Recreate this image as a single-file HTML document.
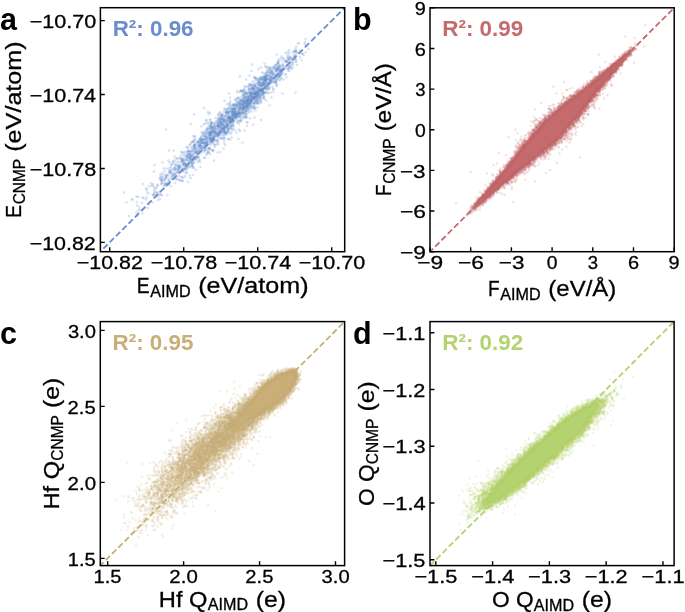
<!DOCTYPE html><html><head><meta charset="utf-8"><style>html,body{margin:0;padding:0;background:#fff;overflow:hidden}svg{display:block;will-change:transform}text{font-family:"Liberation Sans",sans-serif}.dv{stroke:#000;stroke-width:0.3px}</style></head><body>
<svg width="685" height="612" viewBox="0 0 685 612">
<defs><filter id="bl" x="-5%" y="-5%" width="110%" height="110%"><feGaussianBlur stdDeviation="0.6"/></filter></defs><rect width="685" height="612" fill="#fff"/>
<defs><marker id="ma" markerUnits="userSpaceOnUse" markerWidth="1" markerHeight="1" overflow="visible"><circle r="2.20" fill="#6a8dcd" fill-opacity="0.2" stroke="#6a8dcd" stroke-opacity="0.2" stroke-width="1.20"/></marker></defs><g fill="#6a8dcd" filter="url(#bl)"></g><path transform="scale(.5)" d="M433 280L480 232L494 203L511 171L504 183L461 203L342 334L360 315L370 337L349 336L434 261L474 227L399 279L474 200L481 206L530 157L437 244L412 286L551 129L485 191L502 203L377 328L456 278L420 308L419 269L408 316L605 108L490 203L442 263L460 231L494 211L430 261L426 278L315 390L410 272L374 319L532 176L502 214L376 297L519 205L546 134L392 295L422 264L449 281L423 247L499 187L512 193L423 254L529 156L436 269L455 262L429 273L477 207L442 246L547 164L524 180L469 216L540 160L470 219L529 152L544 166L412 280L423 281L526 187L506 215L412 284L380 324L504 171L491 201L423 275L497 205L365 317L491 187L508 173L486 197L548 134L469 223L352 333L360 330L500 178L501 213L467 228L495 245L445 239L591 185L436 283L365 323L312 384L565 116L542 141L580 124L416 272L458 234L507 196L430 260L461 255L438 269L400 292L487 213L489 195L513 193L408 286L373 303L530 154L477 223L478 195L509 179L382 311L496 172L511 157L617 98L544 156L480 242L503 142L460 239L487 206L424 285L400 324L455 240L485 285L584 125L591 115L551 131L472 208L419 251L536 172L335 349L390 296L350 340L489 261L487 207L310 377L386 350L366 362L454 218L471 229L538 140L405 303L431 265L443 255L484 214L396 316L442 253L498 177L527 156L521 180L525 172L375 315L523 184L548 156L542 159L462 245L418 272L336 363L552 163L308 388L427 279L465 218L539 157L386 321L447 260L522 155L486 190L437 248L316 400L484 225L466 239L506 178L322 390L556 136L450 226L338 344L589 118L373 316L305 405L273 393L441 304L588 114L506 193L412 290L440 245L515 183L563 157L497 215L518 193L442 277L470 232L527 187L403 285L456 225L540 162L468 209L492 159L490 199L441 250L391 303L467 246L409 290L516 169L504 129L574 130L501 219L544 156L286 368L448 262L479 225L510 216L450 264L546 152L532 152L480 233L429 271L500 209L533 144L531 161L566 141L480 203L432 244L578 137L540 153L452 253L466 224L373 294L513 185L480 215L490 205L523 167L539 152L485 202L406 286L406 296L513 197L532 157L460 236L380 333L446 267L524 190L417 263L454 245L471 220L557 143L470 221L298 373L533 165L370 352L372 344L385 319L467 223L343 355L401 291L464 235L592 102L517 184L527 169L414 258L376 311L455 229L443 229L435 256L584 117L422 245L534 166L444 229L447 251L486 208L366 343L545 147L490 204L500 169L539 144L323 360L392 316L530 176L425 261L433 264L447 263L409 286L406 284L479 207L421 281L458 232L478 248L324 364L382 325L471 215L485 222L486 181L509 195L376 303L330 359L279 419L535 142L437 263L491 213L553 172L523 174L429 263L562 141L463 236L437 269L571 135L460 195L357 331L503 178L399 291L540 138L494 216L588 103L499 182L575 115L571 123L520 180L492 206L493 174L395 290L477 209L501 192L398 294L506 195L503 187L465 227L506 189L439 263L560 149L419 297L394 305L449 242L308 374L508 154L404 280L277 421L455 258L521 192L527 166L315 385L552 142L319 356L434 272L380 290L521 199L537 176L329 367L563 149L454 225L567 131L405 279L428 247L517 178L463 234L455 253L457 242L563 140L495 218L533 170L573 122L410 268L544 160L562 143L523 154L515 207L449 202L331 351L444 259L466 211L524 145L390 292L473 228L440 262L469 235L467 243L367 320L434 288L528 193L414 280L400 280L491 193L558 152L382 325L600 114L309 330L378 318L368 332L522 240L395 282L344 348L514 197L418 305L398 297L489 214L514 187L494 209L513 190L590 102L413 309L470 230L523 188L552 150L525 170L308 343L381 356L549 158L492 225L419 272L359 346L491 201L479 215L491 205L556 136L359 334L464 213L528 158L338 369L438 239L427 260L383 295L467 228L585 104L543 195L431 248L493 202L466 208L495 203L388 316L450 276L509 188L325 360L531 179L541 160L358 317L495 193L483 236L342 373L527 146L395 302L371 327L495 195L457 255L540 167L491 212L498 219L500 191L536 167L323 347L429 290L403 279L456 250L455 249L522 171L493 200L553 151L526 184L447 249L400 286L552 164L501 199L507 215L519 188L407 267L470 217L559 122L439 248L463 237L537 151L440 248L439 266L508 171L367 306L516 204L312 377L465 234L546 158L369 319L348 350L414 285L591 119L471 232L394 313L530 173L401 285L429 267L482 228L419 286L369 313L471 227L450 290L450 238L510 201L444 271L339 361L371 319L476 204L535 156L419 268L547 137L506 195L396 303L390 290L485 226L535 161L415 247L519 207L474 227L482 182L287 396L497 200L460 279L359 360L421 251L532 160L367 355L484 182L445 231L276 394L466 218L436 246L408 277L517 180L358 341L353 355L423 252L556 123L470 218L397 288L452 267L453 242L407 297L370 329L341 342L308 381L424 287L470 209L459 244L423 262L321 387L410 285L446 277L571 150L529 127L424 253L253 405L548 156L525 190L385 310L315 369L416 284L494 213L525 178L473 211L454 225L377 327L517 170L475 242L493 221L441 236L557 152L560 153L332 259L580 114L594 130L398 302L464 259L463 255L460 236L484 225L421 270L552 135L485 214L487 205L542 161L332 368L391 300L544 157L358 330L366 321L364 317L436 258L316 393L387 291L557 153L503 196L504 173L535 140L481 242L567 159L464 246L452 222L518 185L424 300L459 245L471 201L513 166L444 261L314 373L478 218L546 178L610 84L353 340L381 321L404 279L436 250L328 372L398 299L509 174L352 359L437 236L423 269L416 305L500 208L402 280L564 131L502 186L396 284L542 155L401 289L589 113L508 188L488 193L501 206L460 219L480 213L414 285L487 202L461 240L520 191L414 259L487 202L444 265L410 287L456 255L410 299L425 283L457 237L430 250L342 344L480 241L454 247L520 164L339 325L512 173L507 198L483 199L414 277L434 258L502 200L532 133L477 278L346 339L461 239L424 258L473 231L374 338L523 171L386 319L557 140L325 325L512 182L514 182L553 109L415 301L528 197L368 338L521 182L522 189L378 309L523 184L536 158L461 268L420 265L523 179L338 340L400 279L544 160L460 242L403 274L323 359L421 282L538 136L333 337L332 352L456 223L478 234L416 295L329 359L554 147L383 318L508 178L408 272L498 168L455 224L528 167L437 276L399 302L388 306L369 327L555 159L510 168L525 160L514 175L487 226L495 191L453 244L593 105L392 312L494 222L555 140L302 366L551 165L473 215L527 168L515 186L489 213L503 176L451 240L410 315L384 330L394 295L401 291L511 221L403 297L469 223L329 362L330 357L390 278L421 239L426 256L520 194L384 285L421 276L519 194L486 210L426 282L510 161L578 100L534 145L456 258L532 164L592 101L456 263L448 243L386 335L428 265L389 274L480 183L531 157L491 222L390 285L445 277L428 261L556 124L583 131L331 368L527 194L432 243L333 355L415 263L510 194L592 111L553 158L507 217L579 120L509 171L412 241L368 309L294 384L551 131L576 141L511 190L412 275L534 171L456 260L520 180L420 269L521 169L468 210L378 315L496 202L420 265L506 177L566 130L522 178L544 148L448 238L497 212L433 252L530 160L499 171L465 249L463 237L327 378L440 224L521 173L542 146L534 135L479 201L461 217L444 235L470 234L441 252L455 265L518 176L542 185L453 267L359 337L518 183L422 248L509 217L394 313L503 202L411 261L505 177L497 198L469 211L591 123L424 255L496 202L393 305L383 330L358 324L446 264L379 314L346 322L510 187L415 258L421 267L349 313L517 138L448 286L416 245L306 368L274 411L592 119L248 385L430 269L456 219L551 161L495 203L556 126L408 288L322 369L337 368L478 209L566 127L382 323L496 181L350 336L460 252L427 283L498 174L604 107L404 286L384 324L446 250L555 127L457 233L508 206L487 228L520 170L321 354L544 154L323 356L544 139L447 240L438 260L586 125L486 207L347 301L503 206L350 321L510 155L489 172L450 249L468 233L511 186L476 211L427 255L375 321L474 197L515 199L363 319L486 237L510 177L364 340L407 272L519 180L443 232L513 178L519 176L413 240L564 148L480 153L453 241L294 379L347 357L467 217L429 256L275 431L425 302L436 281L514 186L516 190L534 153L487 211L397 284L521 178L351 327L506 187L421 277L532 184L484 208L422 250L603 120L560 144L504 181L345 351L508 206L512 203L369 337L429 254L336 368L460 223L486 209L458 236L481 238L470 223L509 205L505 178L562 149L346 326L452 266L373 329L274 404L320 359L563 138L522 159L258 432L531 147L578 118L517 201L436 269L448 275L532 159L497 207L513 186L440 267L441 243L468 214L503 186L499 187L473 204L423 265L355 332L465 250L387 326L468 242L467 221L400 277L353 330L378 302L494 201L571 106L512 184L476 205L508 211L417 264L554 137L469 210L458 242L325 353L446 238L493 204L390 289L502 187L521 158L355 344L584 121L438 252L414 288L308 389L455 240L609 88L575 104L533 157L465 235L460 236L324 391L568 117L553 140L518 191L495 215L496 209L466 211L456 252L483 242L533 148L431 265L527 152L463 243L480 206L472 232L586 129L487 207L497 206L458 235L521 180L418 279L320 398L547 137L359 333L547 143L388 336L439 226L445 250L445 239L385 309L380 289L412 294L364 339L506 167L447 236L440 242L499 179L553 156L380 316L464 237L516 189L491 224L449 246L358 334L379 308L507 177L364 320L410 285L446 247L344 330L345 358L394 307L519 170L303 371L583 117L420 240L499 199L496 212L521 155L495 193L337 351L598 87L556 147L383 335L386 313L490 235L459 234L355 324L529 160L387 312L412 263L449 217L593 104L477 233L510 195L539 147L435 239L295 416L559 151L389 289L350 330L285 395L321 350L494 209L436 241L462 213L519 165L557 149L422 257L451 231L500 182L486 217L527 165L483 217L536 187L417 277L473 265L488 210L389 305L454 249L463 275L489 233L475 226L412 269L446 242L404 281L459 237L478 222L327 348L511 191L529 162L499 209L521 202L429 264L493 214L460 258L458 241L531 151L441 262L472 230L536 185L389 291L449 261L451 264L411 274L468 227L375 311L531 157L461 223L381 319L497 225L521 157L474 182L416 224L514 191L521 197L369 327L539 157L495 208L480 210L545 147L358 335L577 116L492 184L498 201L530 160L273 425L470 228L349 354L469 225L504 192L564 145L578 142L309 385L560 131L342 340L392 340L518 165L541 153L315 371L527 153L424 265L508 196L401 307L533 159L356 342L479 228L349 350L428 276L454 238L549 134L389 295L419 258L553 160L504 194L495 199L329 343L443 233L589 102L436 272L540 162L483 194L481 231L510 213L433 281L459 234L548 149L496 202L540 155L420 281L525 160L529 164L470 218L551 149L578 133L337 321L541 149L464 230L519 162L487 197L454 255L385 296L543 143L488 190L487 233L457 228L364 361L505 213L455 226L469 260L452 223L488 226L420 253L535 174L611 105L428 272L440 267L323 365L480 219L421 263L350 340L366 329L410 300L486 187L562 141L493 187L292 399L554 139L493 207L484 182L422 276L496 195L493 187L420 290L511 192L553 139L505 194L517 181L565 146L465 225L577 109L527 173L520 171L536 173L498 192L527 182L462 223L387 283L378 325L401 298L395 324L525 168L358 338L477 197L386 283L390 319L387 298L354 346L468 227L475 212L328 369L558 134L459 264L531 176L374 344L530 186L513 194L501 191L519 195L454 208L521 180L514 203L521 171L534 177L475 217L477 232L406 284L292 377L457 224L454 248L422 255L510 156L373 314L384 313L407 298L484 202L487 219L579 120L449 266L420 286L457 216L448 253L472 224L491 219L498 214L403 264L372 311L529 158L509 235L284 406L365 326L465 243L501 216L414 256L495 202L531 176L491 235L464 229L459 248L460 240L531 185L551 138L390 319L452 231L465 219L479 227L441 258L469 227L548 164L418 256L411 296L541 166L532 201L385 328L363 311L425 279L522 185L397 293L494 211L531 154L369 329L436 265L420 299L458 216L467 233L441 248L458 187L561 149L481 209L539 211L424 273L505 205L528 197L412 291L392 304L431 267L580 116L527 159L481 224L402 299L548 156L546 163L446 233L559 141L319 383L413 279L581 134L415 266L448 257L560 161L493 228L531 169L575 120L384 327L538 170L403 285L323 361L490 200L495 211L441 237L556 126L479 219L443 259L386 282L441 262L519 166L369 337L490 182L541 142L334 369L451 232L398 321L402 282L465 230L400 293L526 185L337 357L485 231L458 211L447 243L490 209L453 246L376 294L449 266L520 189L364 355L513 186L482 211L455 252L533 172L492 194L481 210L528 170L376 307L438 271L593 93L515 215L415 271L384 318L552 152L354 338L503 223L355 358L499 192L457 248L481 221L563 113L607 110L504 183L502 170L579 105L441 244L509 183L544 142L452 225L553 152L380 313L458 225L555 133L525 159L492 197L381 304L460 238L517 182L562 155L498 178L496 200L408 303L512 156L467 251L482 218L485 214L440 230L515 167L457 260L431 266L369 326L379 311L540 137L407 264L362 362L404 292L472 236L401 288L525 182L426 263L508 193L501 191L528 171L464 240L465 234L467 225L424 278L444 247L424 263L349 348L557 139L480 204L497 197L411 266L514 176L429 252L421 269L421 277L440 238L511 203L398 291L377 329L523 205L340 345L407 266L379 351L547 150L566 121L493 244L363 304L438 267L414 285L449 269L425 253L445 256L456 258L402 295L524 171L423 245L383 299L312 390L346 338L555 147L559 151L433 283L491 220L440 241L532 177L408 292L448 271L492 230L515 175L430 294L475 196L447 231L401 283L385 302L285 427L500 195L589 107L517 169L388 294L561 117L562 139L388 292L462 246L583 138L492 228L414 267L382 285L536 158L544 144L479 223L472 235L445 253L516 184L506 249L432 265L365 328L495 186L517 161L566 140L366 320L385 323L533 147L461 256L510 193L533 172L264 398L403 273L383 303L463 265L447 297L344 358L540 145L575 111L464 252L477 220L461 251L419 297L393 304L576 125L495 199L374 305L494 187L379 303L363 335L467 239L573 132L487 185L394 287L373 329L501 199L395 315L559 132L480 227L503 200L482 181L553 142L293 395L462 225L483 200L423 269L372 347L319 389L527 176L507 209L545 174L389 307L362 323L550 163L456 248L429 258L454 265L500 186L527 163L420 226L377 335L414 307L481 226L357 334L507 189L534 151L411 301L379 319L350 336L408 286L533 162L452 251L444 228L560 138L460 237L368 326L405 279L265 400L411 275L441 253L482 201L543 153L557 155L476 222L488 226L457 278L500 210L529 154L525 169L422 245L554 129L395 283L446 257L410 280L507 185L430 266L388 325L522 156L413 276L350 347L581 114L507 183L334 350L473 229L501 198L554 170L454 219L496 210L470 233L499 196L490 206L408 279L437 234L547 184L510 197L496 218L504 201L474 224L338 360L481 215L437 288L440 269L457 237L517 195L559 159L534 151L473 233L362 318L547 179L502 212L471 237L373 335L474 227L499 151L487 208L483 208L408 270L461 210L335 367L376 364L490 175L526 185L540 160L522 135L363 304L461 245L437 249L503 185L386 332L378 323L324 367L390 301L517 157L480 228L386 272L436 247L454 234L434 273L466 239L487 215L343 353L526 182L484 202L436 229L394 307L492 222L504 175L427 302L473 222L417 228L495 218L490 216L510 172L451 254L454 234L435 251L501 196L511 200L517 167L505 188L528 167L525 188L480 183L441 246L419 277L528 155L345 351L457 228L499 204L516 188L446 257L361 334L499 185L408 216L466 241L504 208L443 246L375 331L464 219L369 304L365 342L502 169L397 303L535 180L567 136L462 252L423 278L550 152L437 241L572 148L538 169L557 132L430 279L485 200L462 222L404 293L557 155L404 269L501 203L531 172L522 201L428 266L542 135L442 238L505 195L376 315L421 271L519 163L395 308L428 280L526 156L459 208L398 284L332 355L487 184L405 286L379 315L492 188L374 333L372 338L397 314L540 166L523 195L465 240L450 264L459 206L464 242L488 180L388 297L467 253L522 158L462 240L571 121L504 192L426 255L532 160L487 221L474 245L494 208L560 134L491 195L466 225L478 214L428 288L438 264L596 86L497 198L552 166L577 136L529 168L484 205L576 115L558 128L392 298L485 225L425 245L433 272L383 317L572 124L515 193L341 346L470 198L580 126L495 198L414 275L380 307L494 212L424 265L551 139L591 112L478 259L579 131L394 299L419 296L533 158L508 188L427 275L367 340L400 290L356 339L420 257L498 223L494 252L538 178L431 258L384 332L379 303L465 225L600 100L430 273L501 200L528 166L353 317L482 212L438 253L480 205L391 317L568 139L467 231L434 267L451 265L467 218L493 208L400 292L431 236L305 371L489 195L497 186L531 170L475 186L465 222L544 147L487 209L527 167L507 199L420 269L611 78L410 247L332 353L438 252L331 372L518 186L425 259L447 223L581 128L515 180L390 272L473 228L473 212L515 201L548 146L416 298L380 314L512 187L504 199L530 160L442 243L523 165L484 216L346 324L340 346L527 191L442 244L508 180L529 186L408 281L557 119L510 171L408 249L278 414L409 292L475 233L492 217L552 142L514 206L394 307L496 197L507 176L555 150L435 245L354 317L510 188L491 186L495 212L531 173L591 97L508 200L419 276L314 386L427 281L511 207L351 346L475 210L435 250L418 266L328 337L297 387L442 246L477 206L489 191L538 167L526 165L473 212L358 352L443 232L558 137L382 314L367 331L485 203L350 366L446 258L525 165L436 252L451 243L480 262L449 239L374 334L471 228L488 196L566 138L523 177L477 244L479 217L382 248L415 282L502 190L556 137L517 161L396 285L509 195L572 137L439 256L538 134L511 186L593 124L447 242L423 269L489 215L363 354L494 235L397 309L448 242L450 219L436 254L519 181L297 409L612 90L537 167L424 262L470 235L498 194L426 283L579 133L568 138L519 182L540 175L357 344L561 133L402 279L468 228L552 168L587 111L537 150L505 163L428 273L524 179L480 199L508 195L516 195L338 301L567 134L581 136L509 187L475 230L402 296L467 230L515 176L534 152L509 188L496 206L447 250L422 280L431 267L463 217L557 148L471 225L437 229L476 216L531 152L529 160L468 241L377 302L513 197L456 235L413 288L335 390L405 296L426 300L401 334L426 262L458 235L417 253L443 258L515 163L444 237L420 276L449 243L559 144L484 211L332 367L444 250L420 265L573 123L576 138L515 159L339 343L441 258L369 339L504 196L538 145L473 208L412 291L435 305L466 258L391 317L383 313L586 135L565 187L453 227L469 237L538 160L531 133L356 337L358 360L374 320L388 229L441 238L475 239L506 197L597 106L427 248L375 310L424 267L383 308L377 331L442 239L399 320L381 310L502 187L500 206L494 207L471 229L576 125L325 355L364 340L538 178L388 302L518 198L515 186L444 263L466 220L419 267L342 329L402 276L339 336L512 185L558 147L466 242L502 170L504 176L427 272L470 231L413 273L489 202L482 217L463 235L450 256L445 247L425 275L428 321L466 231L442 277L511 205L389 291L448 254L437 254L449 260L396 314L409 278L346 345L496 204L488 223L514 200L416 304L471 225L474 235L489 188L463 230L449 260L508 179L349 357L435 267L431 290L450 234L573 155L371 328L488 202L494 211L442 264L431 252L528 185L453 269L306 390L430 256L515 207L389 280L435 253L511 184L492 232L348 351L503 190L522 168L532 165L492 234L500 237L573 122L540 166L373 311L464 228L379 308L366 323L509 187L489 216L488 179L465 219L559 149L306 391L514 158L371 322L503 194L439 273L437 253L384 302L450 258L519 158L403 253L420 259L442 255L364 322" fill="none" marker-start="url(#ma)" marker-mid="url(#ma)" marker-end="url(#ma)"/>
<line x1="100.4" y1="251.7" x2="344.7" y2="7.7" stroke="#6a8dcd" stroke-width="1.8" stroke-dasharray="6 2.9" stroke-dashoffset="4.7"/>
<rect x="100.4" y="7.7" width="244.3" height="244" fill="none" stroke="#000" stroke-width="1.5"/>
<path d="M109.71 251.7v-4.4M100.4 242.4h4.4M183.72 251.7v-4.4M100.4 168.48h4.4M257.73 251.7v-4.4M100.4 94.56h4.4M331.75 251.7v-4.4M100.4 20.64h4.4" stroke="#000" stroke-width="1.4" fill="none"/>
<text class="dv" x="76.73" y="269.1" font-size="18.63" textLength="66.08" lengthAdjust="spacingAndGlyphs" fill="#000">−10.82</text>
<text class="dv" x="29.66" y="249.6" font-size="18.63" textLength="66.08" lengthAdjust="spacingAndGlyphs" fill="#000">−10.82</text>
<text class="dv" x="150.74" y="269.1" font-size="18.63" textLength="66.53" lengthAdjust="spacingAndGlyphs" fill="#000">−10.78</text>
<text class="dv" x="29.65" y="175.68" font-size="18.63" textLength="66.53" lengthAdjust="spacingAndGlyphs" fill="#000">−10.78</text>
<text class="dv" x="224.75" y="269.1" font-size="18.63" textLength="66.45" lengthAdjust="spacingAndGlyphs" fill="#000">−10.74</text>
<text class="dv" x="29.65" y="101.76" font-size="18.63" textLength="66.45" lengthAdjust="spacingAndGlyphs" fill="#000">−10.74</text>
<text class="dv" x="298.76" y="269.1" font-size="18.63" textLength="66.47" lengthAdjust="spacingAndGlyphs" fill="#000">−10.70</text>
<text class="dv" x="29.65" y="27.84" font-size="18.63" textLength="66.47" lengthAdjust="spacingAndGlyphs" fill="#000">−10.70</text>
<g>
<text class="dv" x="136.73" y="292.8" font-size="22.6" textLength="12.83" lengthAdjust="spacingAndGlyphs">E</text>
<text class="dv" x="150.25" y="296.5" font-size="15.82" textLength="40.35" lengthAdjust="spacingAndGlyphs">AIMD</text>
<text class="dv" x="198.15" y="292.8" font-size="22.6" textLength="110.47" lengthAdjust="spacingAndGlyphs">(eV/atom)</text>
</g>
<g transform="translate(20.9,129.7) rotate(-90)">
<text class="dv" x="-88.15" y="0" font-size="22.6" textLength="12.83" lengthAdjust="spacingAndGlyphs">E</text>
<text class="dv" x="-74.63" y="3.7" font-size="15.82" textLength="45.45" lengthAdjust="spacingAndGlyphs">CNMP</text>
<text class="dv" x="-22.07" y="0" font-size="22.6" textLength="110.47" lengthAdjust="spacingAndGlyphs">(eV/atom)</text>
</g>
<text x="112.67000000000002" y="36.2" font-size="22.4" font-weight="bold" fill="#6a8dcd">R²: 0.96</text>
<text x="0" y="30.2" font-size="30.5" font-weight="bold">a</text>
<defs><marker id="mb" markerUnits="userSpaceOnUse" markerWidth="1" markerHeight="1" overflow="visible"><circle r="2.40" fill="#c56a6d" fill-opacity="0.2"/></marker></defs><g fill="#c56a6d" filter="url(#bl)"><path d="M629.3 51l1 0l.1 .5l-2.4 3.5l-32.4 38l-16.1 21.1l-19.8 22.9l-22.5 19.5l-21.7 16.6l-35 29.9l-5.1 4l-1.7 .5l.3 -1.3l2 -2.7l32.4 -38l16.1 -21.1l19.8 -22.9l22.5 -19.5l21.7 -16.6l32 -27.4l8.8 -7z" fill-opacity="1.000"/></g><path transform="scale(.5)" d="M974 393L1119 220L1084 302L1089 246L997 373L1048 333L1090 239L1154 181L1157 234L1220 134L1207 147L1193 182L1105 229L1074 252L1156 179L1189 196L1002 354L961 408L1182 172L1182 162L1159 181L1131 271L984 371L1159 242L1007 348L1199 157L1070 333L1167 216L1127 215L1093 303L1040 295L1208 197L957 401L1149 198L1178 169L1210 170L1208 145L1101 292L1046 297L959 405L984 374L1007 330L1109 218L1159 229L1221 150L1091 243L1053 283L1017 330L1147 199L1044 288L1005 350L1211 159L1060 325L1035 346L1035 343L1000 347L1041 301L1186 191L1188 186L1003 351L1209 161L1104 226L1019 324L1091 307L1185 191L1234 124L1066 274L1082 254L1072 263L1124 283L1151 244L1020 353L966 400L1131 262L1181 166L1021 356L1225 136L1107 285L1005 366L1155 232L1016 331L1127 208L1244 123L1157 230L1157 189L956 407L1185 199L1060 322L1100 296L1202 154L967 401L995 352L1060 270L1195 190L1181 172L1180 201L1187 157L1193 183L1101 230L1109 286L973 387L973 388L1224 131L1125 271L1083 308L943 418L1085 248L1157 233L979 388L970 390L1204 153L1190 160L1203 169L1174 162L1019 355L976 385L1150 238L1089 245L1088 304L1219 159L1206 166L1027 321L1252 116L1139 202L1212 158L1087 304L1207 178L997 353L982 373L1126 270L990 381L1215 138L1231 130L1026 349L978 396L978 376L991 365L1232 137L1007 366L996 375L1224 134L1218 141L962 397L1205 169L1027 323L1132 208L1099 218L1075 252L959 405L985 386L1149 184L1035 342L1045 302L1125 268L1218 152L1086 308L1035 313L1002 350L1194 183L1007 368L1037 306L1133 210L1080 255L1083 247L1076 261L1184 198L1085 302L969 400L1004 388L1097 226L1093 296L978 391L1127 213L1220 136L1187 163L1056 329L1174 172L1024 351L1141 251L1139 267L1033 311L1256 109L1024 325L1153 237L1176 204L1241 132L983 377L1185 167L1141 201L970 398L1067 262L1142 280L972 386L1158 225L1147 244L1082 252L992 356L1205 167L1198 175L1221 139L1288 93L1033 315L985 375L1113 280L1069 313L1190 183L1015 361L999 371L1229 145L983 367L1198 109L1043 295L953 405L1059 266L991 379L1195 160L1115 222L1173 179L1222 134L994 363L950 415L1230 128L1164 178L1212 145L1009 363L1039 306L1086 245L1093 242L1220 148L973 396L1030 345L1088 313L1133 258L1077 248L1163 227L1227 131L1048 295L1249 120L1093 300L1180 203L1220 157L952 412L1188 204L1116 215L954 413L1072 261L1097 317L1030 345L1231 139L964 399L1018 333L1145 194L1190 183L977 389L1078 312L1103 289L1090 242L1078 259L1125 187L997 357L989 383L1033 314L1067 274L1024 315L1042 302L977 391L1078 258L1167 216L982 378L1136 252L1245 130L1161 188L1068 273L1001 352L988 366L1240 121L1041 296L1112 294L1047 340L1040 306L1143 269L1153 242L958 407L1089 244L1079 246L994 379L1245 123L1107 291L1078 248L1024 349L981 375L990 367L1116 214L1197 175L1135 206L974 384L1112 222L1021 324L1188 212L1141 203L1177 176L949 411L979 391L1062 279L1012 339L1210 168L1117 220L1016 328L1104 289L1187 209L1155 239L1070 317L1004 348L1163 183L1259 106L1091 305L1243 116L1239 132L1193 180L964 389L980 381L1257 107L1057 326L1053 327L1080 247L1256 107L1142 250L968 398L1032 314L1006 367L1145 176L988 383L1248 113L1050 294L1001 337L1032 360L1182 199L1166 177L1243 117L1218 138L1080 246L1030 317L1129 213L1021 317L988 367L1145 198L1024 355L1138 199L1075 264L1270 92L957 407L966 393L979 389L1143 199L964 402L1209 162L1035 341L1057 326L1224 171L1036 340L1137 199L1012 340L1084 252L1105 289L1157 189L1210 160L1025 321L1217 154L1143 252L1253 112L984 371L1080 257L1125 264L1154 235L1219 150L1021 329L1025 325L1244 125L1059 272L973 386L968 396L1177 174L1141 193L1116 278L1068 259L1190 161L1215 190L1122 285L1185 169L1231 137L1195 160L1041 337L995 364L1062 332L1100 310L1149 251L1214 157L1086 304L964 401L986 351L1211 168L1075 311L1010 338L1198 157L1220 149L973 385L1113 287L1085 243L955 410L1006 345L1014 339L1194 159L1034 310L1057 332L963 402L968 391L1024 352L1046 295L1205 165L1084 252L1197 155L1040 337L1271 97L1067 322L966 400L1224 129L1006 351L1039 303L1070 264L975 385L1089 236L1013 361L1199 144L980 380L958 405L997 375L1143 200L999 350L1178 204L1242 131L1222 135L1101 289L1143 200L1046 298L1069 258L1134 209L1185 212L1215 159L1122 219L1191 163L1197 178L1152 242L1117 217L1201 155L979 376L1082 245L1210 171L1048 288L1197 158L978 388L1140 203L1049 283L1177 215L1034 358L1093 242L972 381L1245 122L1189 191L1085 245L1178 211L1051 288L1163 183L1143 257L1110 229L1171 212L1172 174L1025 321L1028 318L1161 183L1033 345L1083 304L1240 125L1103 292L1261 104L1153 186L1053 346L1156 239L1227 145L1126 271L1046 299L1025 353L959 405L995 360L1199 180L959 403L1042 301L1141 245L1239 128L1239 121L1052 338L1184 195L1242 127L984 374L1036 306L1214 158L998 378L958 403L1220 154L1169 181L1022 328L1233 141L1273 99L1259 107L1202 152L1068 316L1009 334L1247 118L1119 214L1004 344L985 349L1156 184L1098 239L1223 134L1028 363L1020 330L1196 161L1046 296L1146 243L1253 111L1180 198L1014 366L1249 121L1127 263L1099 233L1201 176L1232 128L954 410L1105 234L996 378L1144 243L970 402L1101 291L1045 292L994 376L1133 263L1150 190L1025 353L950 413L1227 146L1171 215L1047 339L1268 96L1085 238L1040 336L1082 245L1179 203L1139 255L1069 319L1087 299L1122 213L1115 274L1193 192L1075 310L1019 353L1100 237L1111 284L1173 211L1066 320L1113 286L1050 336L1036 306L1028 346L1036 307L987 368L995 356L1079 260L1191 157L970 369L981 370L960 401L1208 149L1188 192L1003 368L956 403L1257 110L1046 333L1074 317L982 387L952 417L1238 121L1186 167L1071 265L1148 239L960 403L1195 152L1096 238L1045 290L1268 97L1126 199L957 411L990 382L1248 119L1083 314L1015 335L1100 291L1093 301L1012 335L1176 203L1155 236L981 390L1271 98L1050 339L1064 319L1050 272L1143 244L996 374L1230 142L1150 188L1087 299L1043 301L1043 296L970 388L1177 200L1181 198L1213 165L1179 200L1193 181L957 406L1232 128L1113 287L1143 201L976 385L989 368L1222 132L1055 326L1148 246L1123 208L964 386L1007 349L1082 256L1133 283L963 407L1000 375L1100 287L963 395L982 396L1056 286L1089 247L1188 188L1097 233L1080 258L1185 191L1044 337L1224 135L1066 318L1065 329L1214 161L1192 156L1196 179L958 410L1199 176L1034 305L968 389L1154 192L1043 282L1120 216L1162 184L1047 296L957 398L1006 345L1193 180L1012 339L1020 352L1146 198L1042 344L1123 268L1081 311L1016 361L1063 276L952 410L1174 177L1007 344L1113 278L1005 352L1066 274L1204 168L1161 223L961 397L1171 212L1219 150L1246 113L1187 194L1186 163L1180 203L1258 111L1169 218L1193 154L1092 313L1034 304L1219 134L1028 351L1047 339L1025 327L980 379L1215 142L1183 204L1219 158L1049 292L1050 293L1091 308L1002 353L1167 212L1190 166L1151 188L1118 275L1021 329L1237 124L1235 138L1225 146L1214 137L1165 173L1139 285L1181 196L1134 180L1051 293L1193 181L1027 318L1022 353L949 409L1106 299L1047 333L1124 268L1184 191L1201 171L1129 261L1013 341L1105 211L1254 112L1229 141L1144 246L1183 199L1192 182L945 421L961 405L1067 247L1197 174L1162 222L954 404L985 385L977 382L1151 192L1105 285L1068 273L1205 166L1149 237L1012 331L975 378L1218 159L979 378L1019 359L1042 300L957 410L965 393L1234 125L1204 153L962 398L966 390L1189 162L1167 171L962 404L1158 189L1152 233L1216 159L1207 150L977 380L1125 271L1082 252L1120 212L1134 204L1036 300L1116 223L1104 295L1189 190L1199 174L1080 256L1039 297L1031 346L1049 289L1058 281L1007 346L1077 242L1127 214L1161 188L1236 134L1064 318L1089 315L973 394L986 383L1006 347L1024 349L994 364L1087 302L1003 366L1124 209L1087 304L1235 125L1023 319L1211 146L1146 250L985 373L1005 373L1073 262L1051 335L1004 352L1030 348L1129 260L1123 206L1027 345L1121 275L1018 334L1234 131L1243 125L1226 145L1216 143L984 390L1229 139L1213 160L1143 198L1053 327L1012 359L1200 176L1255 113L1168 183L1110 290L1249 114L1162 185L1143 251L1050 333L1041 291L1202 171L1111 286L956 411L1013 358L987 371L1176 174L1191 163L1115 279L970 395L1005 365L1104 230L1042 336L987 380L1081 306L1090 234L1215 139L1185 193L1176 175L1114 280L1246 115L1066 318L1127 261L1050 283L1149 246L1048 292L1242 122L983 373L1138 203L971 390L1166 217L1124 270L1152 270L1091 297L1000 341L1177 204L1238 129L1056 266L1113 283L1068 316L1143 248L1235 125L976 391L1204 146L1253 116L1004 367L1097 295L992 365L1157 225L1079 313L966 388L1120 220L1216 143L1203 174L1215 141L967 391L1124 216L998 358L1021 353L995 362L1200 176L1011 342L1108 225L984 374L1119 274L1048 293L1095 297L1024 352L1227 133L1070 263L1216 143L1176 203L1093 243L1039 306L1228 139L1065 319L1216 154L1023 325L1038 303L967 404L1018 357L965 391L1017 366L973 385L1185 193L1210 146L1256 113L1226 145L1021 352L1181 202L1213 159L1040 340L970 395L998 360L1134 203L1193 181L993 376L1126 271L1291 50L1114 222L998 357L1261 108L981 388L1022 364L1188 192L992 381L1002 351L1015 333L1165 219L1137 266L1184 170L976 373L1192 188L1000 350L963 399L1134 206L1216 154L1208 163L1014 338L1214 155L993 378L1101 288L1261 104L1224 134L1180 201L1063 276L1025 354L1022 358L1113 280L991 377L1148 193L1197 158L1185 165L1182 169L968 398L1120 279L1232 137L1069 242L1044 334L996 355L1223 150L976 383L1223 133L1187 199L1249 118L1103 290L1189 162L957 403L1103 290L1225 131L973 384L1240 119L1035 345L1045 288L1204 149L1213 145L1045 345L1126 268L981 376L1109 224L1233 128L1050 332L1236 131L1094 240L958 403L1018 355L1003 366L1191 200L1202 151L1185 191L1246 118L1176 217L1067 261L1047 295L1205 151L1199 218L1088 247L1095 239L1073 255L1128 209L1069 314L1119 223L1127 265L1113 225L1110 285L943 419L1259 95L1257 108L991 365L1033 310L979 399L940 428L1025 319L1025 325L1048 289L986 368L1234 133L980 391L1237 121L1250 112L1168 178L1156 190L1041 278L1115 289L968 403L1196 180L985 383L1037 294L1134 263L979 378L1130 264L1210 175L1200 176L1064 261L1232 122L1169 177L1111 282L1264 97L1097 231L1193 193L1067 269L1040 293L1208 150L1243 131L1135 205L950 417L985 381L977 393L1152 241L1026 347L1107 286L1161 227L1040 340L1240 125L1023 351L1232 136L1103 222L960 403L1124 273L1057 325L996 354L1043 300L969 396L999 356L1077 251L1158 187L1165 183L1202 173L1179 201L968 391L1231 142L1048 290L1195 158L1233 125L1259 100L1002 368L1055 326L986 385L1208 166L1116 278L1175 213L981 390L1122 216L1239 121L1067 273L1125 275L1078 257L1244 128L1205 146L1086 252L1260 104L1246 114L1173 213L953 394L1160 231L1231 139L985 373L1150 193L1067 268L1109 288L1230 143L1058 338L1226 143L1191 160L1207 150L1249 118L1119 274L1118 219L1107 227L1176 204L1161 184L1184 192L1135 256L998 374L1086 303L1147 250L985 370L1244 123L1081 252L1005 350L1195 155L1124 215L998 306L1215 161L1194 179L1138 258L1086 249L1170 211L1132 266L997 360L1196 177L1156 235L1244 122L1012 310L1023 325L1258 103L1228 138L986 365L984 375L1032 316L991 360L1062 276L1218 160L1024 327L1002 352L1223 148L1230 128L1087 305L1204 153L946 415L1167 216L994 385L1243 117L1058 327L1094 302L1200 155L1170 216L1161 228L953 409L967 393L1140 202L940 424L1242 119L1215 138L951 404L1019 356L1222 135L1092 304L1079 260L1104 224L1099 235L1207 177L1049 333L1147 239L1031 308L1196 190L995 364L1052 289L1042 336L1000 369L1184 165L1171 221L1213 164L1205 152L1125 265L953 414L1037 303L1097 290L1228 142L1119 218L1208 149L1155 231L1030 348L1110 282L1090 241L1103 231L1216 143L1124 268L1199 154L1031 343L1190 217L988 369L971 398L1047 293L1064 268L1218 136L1030 314L1066 273L1248 117L1216 139L1085 249L1057 325L980 378L1162 226L1168 222L973 387L1174 176L1211 147L1250 119L1176 202L1217 157L1183 144L1159 223L1100 231L1073 256L1212 140L982 387L1100 291L1169 220L1183 197L1066 316L1100 292L1168 211L1158 183L1035 312L1185 168L1246 120L987 362L1082 246L1021 323L1063 276L1006 348L1238 131L1109 228L1169 220L1187 162L1026 323L1059 278L1240 126L1125 267L1167 222L1040 302L1213 143L1086 308L1059 277L1063 267L1101 234L1145 195L994 365L1209 147L1038 308L1108 209L1162 185L956 402L973 384L1176 229L1118 218L1077 259L1161 182L1036 311L1074 239L1133 208L987 386L1105 287L1082 250L1065 266L1111 229L1114 225L1131 265L1267 99L1246 111L986 367L972 398L1242 123L1248 112L1182 194L1138 202L1184 201L1058 281L1159 235L1209 162L978 391L1238 120L962 401L993 379L1107 216L1225 135L1195 161L1032 344L971 397L1243 127L978 381L1244 118L1053 331L1235 133L1171 180L1162 184L1184 191L967 410L980 378L955 413L1179 198L979 376L1247 115L1125 216L1198 150L1070 323L1004 371L1180 199L1007 344L978 379L1027 352L1146 193L1187 165L1120 209L1098 237L1234 128L1118 276L1157 239L1107 291L1245 120L1187 191L1060 278L984 376L964 403L974 382L1030 345L1011 342L1150 194L1117 221L1034 296L1001 351L1036 311L965 402L1221 136L965 392L994 376L1120 215L1148 199L1052 290L981 377L1104 288L983 384L952 411L1014 364L973 384L1049 295L1184 195L1131 257L977 381L1228 126L1030 343L974 374L1065 261L1010 339L1167 183L1233 137L1147 248L1073 256L1215 143L1218 151L1198 155L1139 202L1210 163L944 414L1132 196L1223 171L1103 225L1052 288L1212 143L1230 128L986 372L1125 265L1178 228L1156 183L1024 326L951 414L1180 197L1148 193L1126 268L1159 233L1177 218L950 415L1029 357L1126 265L1188 162L1164 220L1133 203L1088 238L1016 326L1208 148L988 366L966 394L1012 360L1098 291L965 407L1152 194L1074 262L964 402L1211 161L1058 322L1119 307L1257 109L1005 366L1084 301L1175 166L999 373L1007 364L1069 264L958 399L1131 203L1095 310L1143 198L1196 154L972 396L1189 164L1156 190L1145 245L1197 175L1019 370L1059 324L1204 167L1260 100L1026 313L1019 354L983 385L1030 361L1079 310L1227 143L1245 117L1090 234L1087 249L1073 255L1127 193L1265 99L1025 316L987 372L1184 168L953 407L1165 216L1172 207L1258 110L1086 246L1167 218L1121 276L1229 138L1020 359L997 376L1266 103L1210 160L993 365L1210 141L979 377L985 373L1062 265L1039 306L1174 206L1205 170L1192 185L1010 363L987 383L1209 165L1094 301L1144 243L1196 157L1138 256L1217 153L1092 240L993 376L1254 111L992 360L1018 327L994 348L1183 165L1035 351L1099 212L998 372L1152 193L1100 237L1074 261L1217 153L989 367L992 378L1106 285L1036 311L959 399L960 406L1022 327L1031 314L1070 317L1021 333L1159 233L1236 122L1211 140L977 391L1235 126L1063 273L1165 218L1245 118L987 330L1156 189L1069 273L1005 366L1191 203L1217 138L1077 311L1219 134L1053 328L1024 353L1020 330L1219 153L1039 304L1012 339L1116 279L1212 146L1149 186L1208 162L1112 281L1050 282L1116 287L1078 252L1253 119L987 384L950 413L1235 120L1243 127L1092 232L1234 139L1065 272L1143 260L1140 198L1136 279L1064 273L1107 288L1053 330L1243 122L1250 108L1204 180L1021 323L1025 349L965 397L1011 361L1159 227L990 364L1001 370L1104 229L1162 225L1114 223L1095 241L1219 151L983 384L1070 266L1261 106L1137 200L1227 142L1107 285L971 396L994 327L1195 182L1123 278L976 390L1173 208L1171 209L1055 276L1195 179L1228 132L1134 253L1192 184L1257 109L988 366L1044 298L1007 365L1231 135L1077 243L992 376L1106 228L1149 238L1189 165L1213 144L1032 301L967 395L1231 122L1244 124L1220 139L1191 164L1257 110L1028 350L1154 193L985 373L1034 347L1211 147L1114 224L987 381L1250 117L1006 365L1160 225L1245 118L1003 348L1240 130L1243 116L1085 312L1148 195L1090 230L1037 301L1244 117L1221 148L1078 312L1150 237L1078 261L1034 352L969 393L1105 295L1079 253L1142 255L1130 206L1239 131L964 395L1236 124L1192 163L1244 114L982 387L1117 213L1042 305L1009 369L1093 299L1193 190L1046 290L949 411L1036 297L1209 148L1038 342L1012 341L1100 340L1139 194L1216 139L1203 171L1206 165L960 406L1245 115L1175 203L1169 168L1118 276L1011 362L1071 267L973 386L1037 341L1254 104L1156 186L1206 144L989 380L1114 219L1203 146L1183 196L1138 253L1239 130L1139 247L1118 284L1207 171L1215 166L1125 264L1252 117L1230 142L1037 344L1005 373L986 369L1174 204L1145 249L992 361L1186 189L988 380L973 400L1143 200L1045 302L1121 210L972 393L1140 251L1121 273L1236 137L941 344L1027 350L1014 338L1058 332L1241 120L1219 153L1016 366L1013 365L1203 144L1112 278L1239 122L1137 256L1173 216L1102 220L1216 139L1182 197L1173 174L1198 176L1237 134L1005 369L1226 147L1131 264L1052 283L1196 184L1213 143L1045 284L1023 326L1231 130L1133 294L1174 175L993 365L1042 338L1061 278L1148 195L1040 301L1093 230L1234 123L1199 182L1030 346L1050 333L1061 320L1266 101L1034 348L1234 127L1057 327L967 398L1216 141L1167 175L1086 229L1004 351L1239 128L1228 141L1016 364L1095 296L1254 111L1105 233L957 402L1018 334L1085 301L1095 307L1230 130L1193 181L1135 199L996 355L1222 133L1250 111L1248 106L960 400L1213 143L1052 333L1218 139L992 381L1033 342L1043 334L1238 123L1224 130L1243 123L989 380L1234 133L1225 145L1226 128L1191 163L1090 303L1122 276L993 378L1202 153L1182 168L1112 228L1001 345L1142 256L1224 133L1051 339L1124 286L1200 179L1094 295L1252 106L1246 121L955 408L1197 181L1111 216L1145 190L1222 133L1056 285L1035 310L1160 187L1132 264L1097 291L1256 110L980 381L1080 245L1205 168L1161 225L1178 203L1094 241L950 410L1167 180L998 375L1093 234L1222 152L1025 351L1034 306L1216 135L981 388L991 363L1216 161L1048 294L1232 127L1194 155L994 357L1090 238L1178 171L1066 331L1230 128L1071 265L989 381L1007 368L1060 325L1066 330L1263 104L1123 282L1184 166L1195 180L971 397L989 370L1128 207L987 385L994 385L1130 265L1148 193L960 397L1107 283L1087 244L1185 166L1251 117L1065 273L1110 290L1253 113L1146 248L1041 297L1021 352L1223 134L943 415L1150 194L1097 239L1014 333L1201 172L1061 325L1001 352L1235 132L1089 244L1069 266L1140 192L1057 281L1221 156L1257 108L1044 299L1144 249L983 370L1213 143L1245 120L960 408L1081 248L979 378L974 392L1213 160L1049 333L1138 251L1173 175L983 388L1116 221L1171 180L1150 252L1166 217L1225 134L1117 285L1258 107L996 373L1145 248L1120 221L1241 126L1145 247L1081 253L954 409L1224 143L954 411L1233 137L1204 175L977 393L1157 234L975 377L993 358L1044 342L1123 273L956 399L1185 191L978 389L1174 228L1121 277L982 375L1255 105L1229 141L1023 353L1041 280L1038 291L973 394L1042 335L1046 334L1056 281L956 411L1044 339L1227 129L967 392L1175 205L1240 116L1135 255L1156 237L1111 230L1125 212L1169 213L983 375L985 369L1224 146L980 392L1083 242L1203 152L1101 291L1230 142L972 386L1068 266L1196 183L1193 181L955 401L976 376L1198 176L1180 200L1199 186L1061 319L1009 346L1235 126L1100 225L1066 275L1187 157L991 366L1075 265L1064 268L1134 276L978 396L1085 305L1173 177L1051 327L1187 190L1032 317L1049 349L1107 230L998 356L1262 94L967 397L1170 179L1108 285L1233 135L962 401L1001 351L967 401L1081 252L1211 141L1205 165L1161 184L1137 261L1067 319L1243 126L1112 280L1181 199L1078 324L1200 177L1042 334L1239 123L961 401L1141 196L1017 363L1237 129L1231 135L1025 323L968 394L1252 112L1068 269L965 399L966 391L1208 140L1047 289L1223 134L1010 367L958 409L1082 313L1200 190L1261 110L1240 115L1069 316L1103 220L1039 297L1016 332L1213 161L1176 169L1198 178L1140 251L1228 130L1208 146L1088 305L1091 318L1051 290L1088 302L950 407L1121 220L1213 143L955 411L1029 348L1159 182L1147 194L1196 159L1051 281L1224 132L1132 265L1003 345L1020 332L1066 324L1016 333L998 353L1066 274L999 376L1110 222L1196 159L1225 145L1235 125L1200 134L1203 180L1206 150L1098 233L1174 209L987 372L1063 270L1163 224L1046 293L951 412L1178 203L1185 192L1175 173L1196 159L1028 348L1187 203L1003 349L1192 189L1202 173L1211 162L1203 148L1103 285L1056 324L1143 191L1077 307L1066 321L955 404L976 382L1177 169L992 359L997 374L1235 133L1135 252L1099 231L1095 306L1183 198L1090 297L1068 315L1177 207L1009 343L1195 192L941 424L1151 193L1038 303L1016 335L994 380L1259 104L1076 258L1158 232L1129 205L1187 193L1102 299L1203 177L1160 228L980 388L1112 222L1259 102L975 385L1033 350L1074 249L1020 328L1187 163L1265 101L1191 184L1000 370L994 362L1238 120L1192 182L1029 312L1023 324L1243 130L993 361L965 410L973 395L968 390L1093 299L1160 176L998 355L1068 259L1012 361L1063 273L1252 117L1125 213L1162 183L961 401L984 383L1081 247L1110 288L1188 163L1112 224L1178 174L995 377L1015 361L1069 318L1221 149L981 395L988 365L1200 157L950 411L1114 280L1099 229L1158 189L1013 334L1210 147L1011 343L1047 345L1246 113L1009 340L1231 137L977 392L1189 188L1129 209L979 391L969 394L1117 217L1194 159L1179 197L978 393L1219 155L1113 225L1063 279L1094 295L1003 349L977 393L1013 358L1237 130L1261 112L1064 271L1189 185L1198 155L989 368L1205 152L1181 197L972 384L1138 255L956 401L1014 360L1051 288L1118 276L1157 227L1212 159L1198 175L1131 258L1060 281L1102 226L1177 223L955 404L980 392L1154 184L1233 128L1041 337L1223 153L968 402L1148 245L1149 250L1201 156L984 375L1213 169L1189 189L1011 340L962 402L1170 181L1162 223L1186 190L1223 134L1153 236L1216 152L973 397L1193 160L997 358L1142 198L1058 334L1116 225L987 368L1229 140L1237 124L1224 130L1076 264L1011 343L1246 123L1073 312L1185 202L995 378L1069 269L1014 366L1168 221L1182 195L1252 110L1098 297L1188 165L1050 339L1090 242L1139 259L1125 211L1009 341L1255 109L1107 223L1016 333L1219 153L1021 329L1030 345L1063 273L1228 133L1018 330L1229 143L1073 268L1048 288L1060 336L977 384L1178 204L979 380L1223 135L1136 207L1227 130L1063 268L1154 186L1102 288L1248 108L1174 207L1069 262L1192 181L1062 322L1075 311L1185 169L1102 235L1038 306L967 395L1130 279L1024 374L1260 105L1137 263L1066 273L964 398L1031 347L1230 140L980 379L1206 168L1006 342L991 380L1192 160L1078 251L1162 186L996 374L1060 329L1047 278L1051 330L974 393L1124 299L1012 344L1031 312L965 392L995 363L1127 216L1041 340L998 357L952 408L1221 147L961 399L963 405L1001 356L1262 108L1133 271L1195 197L1124 201L1011 344L1008 364L986 369L1014 335L1159 233L1198 154L1049 289L974 385L1197 181L1204 174L1172 213L1013 338L1007 346L1007 340L1166 174L1044 333L1218 155L1098 301L1193 180L1027 350L1014 339L985 372L1206 151L1259 101L977 392L946 413L961 404L970 397L1123 266L1247 116L1015 357L992 364L1130 273L1163 246L1152 242L951 420L1188 158L1071 267L1032 308L1073 314L1258 102L1086 246L1125 271L1217 153L1148 192L1143 266L983 373L1031 318L988 364L1216 157L1114 281L1007 364L1062 274L1057 327L1066 317L1184 198L982 377L1203 153L985 384L982 377L1140 192L1033 344L1210 147L1166 220L975 390L1040 288L1233 125L1114 326L1253 110L1001 370L1174 204L1031 342L1033 344L1101 299L958 406L1223 149L976 381L1036 307L1163 184L1060 281L1042 339L1140 246L1228 143L1245 115L1094 239L1117 295L1135 203L1043 345L1171 236L1186 168L1033 342L966 390L1102 288L972 387L1039 339L970 396L1094 241L1261 96L1002 349L1152 196L993 361L1101 294L1019 332L1247 120L1098 296L1249 115L1173 174L1187 189L1130 264L1193 181L1173 176L1128 261L1163 182L1108 220L1151 241L1051 284L1115 218L1055 287L1005 369L1097 225L971 385L987 362L998 341L994 363L1053 328L1176 217L1164 226L1004 368L997 350L975 383L1020 333L1099 290L1029 318L1136 251L1229 141L1195 180L977 392L1008 365L1195 190L1036 309L993 363L1088 241L1153 193L1120 270L1198 146L1148 194L1100 290L1007 371L1001 350L1021 331L1018 360L1182 199L1010 363L1202 169L1117 284L1209 147L962 409L1049 339L1146 190L1154 193L1169 214L1149 240L1079 244L1235 123L1108 230L1133 263L1097 240L986 386L1000 373L1150 239L1008 363L1240 126L971 387L1259 105L1206 144L1069 235L968 397L1220 147L1185 167L1134 273L1091 237L1262 109L1141 202L1085 247L945 418L1148 193L1022 323L1138 250L1013 362L946 417L1021 326L1019 333L1006 364L1236 126L1074 261L1096 239L1239 123L1201 175L994 360L1209 148L1140 278L1213 141L1080 254L1157 233L1054 333L1161 187L1060 326L946 418L1188 166L1021 356L1055 330L1116 278L1200 180L1058 323L1122 274L1233 127L1178 213L1053 282L1220 151L1160 183L1027 348L1165 221L1023 350L998 374L990 368L1260 101L1195 188L1245 122L1002 352L1162 226L1011 339L1034 344L1228 131L1179 173L1052 270L1091 296L1226 144L1140 203L1026 353L1135 207L1193 182L1042 303L1268 99L1022 321L1129 207L988 368L1084 247L1179 170L1156 235L1009 390L1178 205L1193 155L1174 214L1009 364L1034 314L967 389L1187 163L1021 351L989 368L1060 281L1073 265L1253 112L1208 149L1227 130L1022 356L1023 330L1227 129L1165 183L1238 128L957 403L961 395L982 390L1152 196L1236 121L1068 269L1188 190L1018 331L1155 248L1241 121L1153 239L1155 192L1029 305L979 388L1243 121L960 401L975 391L1111 224L1031 311L1254 110L1136 205L1142 275L1026 324L1187 158L1077 330L1070 250L1085 246L1154 230L1067 327L1221 155L1018 354L1046 333L973 385L1024 328L1155 237L1200 185L1011 361L1032 344L1266 96L1102 288L1083 309L1093 300L1122 219L1139 178L1081 256L1225 147L1150 237L1013 335L1171 175L1183 197L1067 318L1126 265L991 366L959 399L1001 347L1169 177L1048 333L1023 319L1185 189L1104 231L1096 232L1027 348L967 399L1089 241L996 361L1188 194L1119 220L1089 244L1150 236L1120 283L1080 254L1029 346L1107 233L990 379L1188 187L1193 156L1060 279L1172 217L1226 144L966 398L1070 325L1105 288L1237 131L1224 144L1137 255L1211 124L1088 307L1104 234L1249 118L1140 190L1030 346L1219 140L1229 128L1074 316L1019 329L1017 330L1074 254L1037 284L1040 341L990 363L1099 296L1161 228L983 375L991 355L966 401L1001 374L1243 131L1036 304L1208 147L1226 132L1141 255L1057 273L1172 171L1223 135L1082 249L1001 369L985 372L1046 299L957 404L982 385L1244 120L963 395L1035 267L1046 336L1110 223L1035 311L1020 353L1185 190L1222 133L1016 332L986 368L1000 353L1230 130L1120 212L1156 190L1050 277L1167 229L1225 149L1163 183L1021 352L1009 343L952 421L1037 339L1033 312L1045 334L1188 164L1132 206L1055 327L1134 205L966 405L977 378L1094 297L949 409L1000 372L1133 204L948 413L1029 303L988 380L1123 215L1031 316L1168 211L1123 207L961 401L962 396L1104 227L1013 358L973 392L1217 140L1235 126L1057 323L944 411L1081 313L1045 301L1103 299L1065 270L1188 161L1089 298L1197 158L1144 200L1108 231L1250 115L1107 227L997 359L1176 209L990 368L1048 293L1223 148L991 377L1129 262L1098 300L1096 295L1244 111L1078 310L1169 212L1099 233L1030 308L1055 287L1032 315L1245 120L1015 358L1232 143L997 360L1171 175L958 395L1185 199L1172 208L1069 267L1071 241L1097 237L963 397L1271 92L1026 322L1233 127L995 361L1157 179L1136 252L1227 133L1238 120L1111 289L1041 293L1257 105L987 369L1109 285L1212 147L1234 132L1190 192L1052 282L1162 184L1159 232L1210 168L1152 234L1236 121L1169 175L1041 336L976 380L964 401L994 364L1024 354L1234 135L971 404L978 381L1216 140L1122 269L1054 332L1025 320L1155 235L1156 237L958 397L1090 313L1204 172L1043 297L1244 120L1018 333L968 394L1175 175L1028 347L1137 254L1209 169L1170 211L1154 230L1008 340L966 407L992 366L1215 142L1262 102L1118 218L1142 199L1004 351L1003 354L1144 198L1083 309L1032 351L1210 165L1210 161L1045 332L1031 364L990 377L1162 225L1013 340L1234 124L1072 318L1066 273L1182 196L1014 363L1207 173L1135 206L971 388L1045 301L1166 223L1009 362L1163 183L1136 269L1067 268L1219 157L1121 275L1014 336L1057 324L1038 349L1211 147L975 393L1021 353L1153 231L1256 112L1198 155L1252 111L1012 344L1242 119L1072 248L1214 142L1010 361L1111 223L1207 148L993 355L1236 135L1052 327L1249 121L1016 333L1039 305L1123 270L1200 147L976 383L1264 110L1164 185L1203 146L1134 196L1016 359L1119 219L1018 332L1132 261L1041 301L1100 292L974 387L1092 295L978 390L1091 243L1081 307L1076 259L1065 323L1250 117L982 367L1229 129L1027 314L1002 355L1153 233L1151 245L1203 173L1009 374L1043 334L1210 159L1058 325L1114 277L1202 173L1121 212L1005 349L1171 210L1050 291L1172 174L987 381L937 425L1216 158L1047 331L1159 181L1139 257L1062 327L1122 216L1223 137L1079 257L1118 221L1043 338L1240 122L1034 341L1090 247L1215 139L1039 342L1198 177L1150 236L1159 230L1185 163L1138 200L1084 252L1007 345L1100 302L1222 168L1231 142L1178 169L1104 291L1191 184L1123 274L1142 192L1169 225L1019 356L1232 135L1156 254L1150 193L1192 156L1179 171L1098 292L1171 207L1181 214L1175 166L1241 117L1027 316L1147 191L1235 121L1021 355L1244 114L1198 177L1249 118L997 379L976 390L1030 347L1194 190L1117 217L1236 124L1189 154L1168 212L970 394L1241 125L1229 137L985 382L1215 164L1160 187L1207 165L1205 150L1166 183L971 404L1208 164L1222 133L1117 220L1031 317L1253 111L1183 198L1230 130L963 399L965 400L1253 113L1160 223L1062 270L1110 282L1028 349L1077 314L1168 215L1237 120L1050 334L1196 180L1208 149L1246 122L1231 141L1042 304L1250 103L1042 303L1258 101L1184 168L1205 151L1226 133L1139 258L1214 142L1158 229L1047 292L1193 182L1046 290L961 407L1184 162L992 365L1117 213L1190 191L1127 263L1095 304L1090 237L963 405L1002 369L1168 213L1177 172L1021 316L1237 123L1024 364L965 404L1246 124L1168 218L1153 234L1086 244L1138 203L1063 271L1052 286L1037 340L1070 254L1135 206L1107 230L972 394L1040 307L1010 338L1102 287L1121 218L1162 186L1041 345L992 376L1239 130L1204 170L1234 136L979 380L1167 219L1200 191L1148 191L1103 236L1243 124L1105 227L1145 246L1034 344L1171 213L969 391L1112 285L1049 284L1014 334L1065 321L1013 361L1248 114L1010 334L1179 170L1205 173L1239 114L1045 300L1136 199L1130 264L1122 278L1232 128L1068 320L1150 191L1031 259L1148 246L1142 244L1152 263L1179 203L967 394L962 403L1111 290L1131 209L1052 330L1026 354L1015 338L967 402L1149 192L1161 188L1185 201L1124 209L1109 287L1234 133L1031 313L1194 179L1155 241L1252 111L988 389L1050 329L1115 222L1070 265L1233 143L1084 240L1203 153L1225 144L1025 326L1217 154L1222 137L970 389L971 396L957 405L1006 334L1105 226L1181 163L995 360L1141 198L1047 281L1073 254L993 364L987 367L1015 358L1232 137L1061 329L1125 214L1018 356L1165 178L1258 108L1037 289L1052 280L1125 213L1204 151L990 381L1003 350L1210 144L1227 129L1237 131L1085 306L1193 181L1228 129L1127 278L1206 166L1215 136L982 388L954 405L998 373L1056 331L1226 152L1246 114L1250 108L1001 354L1030 314L1019 354L1117 218L1109 227L1205 151L1210 146L974 387L1168 179L1020 352L1105 283L1105 285L1201 143L1234 125L1094 298L1248 113L975 393L974 395L1241 126L1212 145L1058 324L1088 310L1203 151L974 395L989 370L1160 231L1115 215L1033 296L1205 150L989 367L978 390L1145 248L1128 207L1145 197L1083 310L1028 318L1171 222L1217 137L1002 369L1081 306L1153 234L984 382L1020 360L1248 121L969 390L1166 236L1159 225L1228 139L1217 152L1123 273L933 431L1218 142L1060 330L1201 173L1213 142L1166 227L968 391L1217 142L1012 339L1081 255L1232 137L1199 152L1127 214L1071 251L1117 206L999 375L1145 249L1202 152L1164 182L1147 197L1028 351L1261 97L1023 350L978 383L1205 151L1015 334L1107 287L1076 309L955 414L1028 319L1190 197L1024 327L1204 153L1184 163L976 385L1155 185L1152 237L1193 156L1123 216L1000 346L1068 265L952 415L1204 169L1045 337L1130 267L945 425L1015 340L1030 355L1162 227L1095 294L1239 130L1082 309L957 398L981 377L1020 367L1086 308L1172 207L1077 311L1012 370L1231 130L1250 113L1111 227L1140 202L995 353L1188 192L1138 200L1089 298L1183 200L1013 362L1165 183L1133 202L1189 188L949 408L1258 109L1030 350L1186 168L1103 297L1067 261L1072 239L960 420L972 386L1225 135L1141 244L980 391L1160 228L1187 190L1047 334L1162 181L1087 305L1201 175L1209 145L1118 293L1258 102L1018 359L1144 192L1047 345L1231 125L1045 295L1097 235L1249 108L1035 311L953 409L960 399L1110 223L974 379L1081 243L1135 203L1000 369L1011 361L1077 257L1107 226L974 393L1048 291L1270 87L1199 158L1248 111L1061 275L1193 162L1129 277L1085 305L1121 221L995 356L974 347L995 355L1068 322L1163 252L960 396L1083 305L1093 241L1198 183L1188 163L1235 132L1122 269L1067 243L1170 221L975 385L1188 166L1027 356L1175 213L1232 137L984 363L1062 243L1205 146L1174 209L1220 150L1261 108L1129 209L1043 291L990 379L1018 337L1205 149L1189 187L1173 171L1088 311L1162 231L1148 254L1034 352L1016 326L1152 241L1252 104L1255 102L1227 139L1226 127L1123 215L1059 263L1006 370L1214 157L1120 219L976 379L986 360L1153 234L962 411L1028 321L1107 173L1136 257L1146 238L963 402L1172 222L1126 213L1017 359L1234 128L1198 178L1085 306L1099 288L1049 287L1034 294L983 368L1016 357L1065 318L1080 236L1070 315L1151 190L1104 286L985 394L1122 215L1218 142L1034 314L1105 286L1155 186L1098 217L1201 151L1186 168L1014 339L1176 209L1039 339L1202 154L971 383L1107 283L1037 346L1204 152L1152 242L1112 226L974 384L1190 155L1169 211L1227 141L1010 361L1244 126L1253 112L1025 322L1002 354L1235 134L1074 265L1020 353L1022 322L982 385L1128 196L1049 287L1257 107L1100 295L1036 341L1016 334L1218 140L1110 226L1034 342L1061 330L1156 188L1171 178L1039 296L1021 352L1141 257L1139 252L960 401L981 373L1059 275L1132 271L1121 214L1214 156L1012 362L1205 170L999 358L1200 151L1139 253L1198 144L1239 118L1176 211L984 368L1206 168L1081 316L961 408L1155 244L1251 73L1057 287L1003 351L1246 119L1097 293L1224 136L1179 204L1177 214L1173 207L1006 364L997 360L1145 250L1113 221L1007 364L1197 176L1025 323L1050 292L1264 101L1167 235L1209 161L1269 76L1259 103L1049 292L1078 259L1049 332L1212 143L969 389L1117 218L1075 313L960 402L1171 214L1202 151L975 379L1189 195L1246 117L1166 216L1109 226L967 398L1012 364L966 391L1260 106L970 385L1014 340L994 364L966 393L1196 180L1204 169L954 401L1184 209L1001 353L1112 227L1105 290L1052 327L1002 343L1206 172L1076 263L1061 276L1119 219L1128 268L959 409L1192 163L1014 335L1188 215L1018 360L1051 292L1253 109L1238 127L1099 232L1231 130L939 421L1038 306L1058 280L1147 243L1204 152L1023 328L1246 124L1043 291L985 381L1189 159L1028 316L1053 343L1133 180L1132 259L1238 121L1238 119L1075 311L996 377L1004 351L1125 216L1242 128L1157 241L956 406L1028 347L1200 148L942 421L1153 255L1209 163L1097 291L1088 249L1007 363L1240 122L1130 207L1104 293L1040 303L1033 311L1137 252L1133 262L1217 156L1219 135L1079 255L1065 275L1213 164L1160 240L992 377L1194 181L973 396L1201 154L977 377L1188 161L1226 131L988 370L998 376L1061 252L1176 175L1133 206L1220 139L1127 212L1232 129L1215 141L1160 188L1200 176L1184 166L1241 119L988 368L1219 151L1198 154L1093 301L1221 152L1184 160L988 380L1121 215L1221 155L993 377L976 383L1134 206L1116 219L1201 153L1144 193L1022 329L1068 274L1007 363L1222 146L1246 119L1089 238L1153 183L1175 168L1044 295L1105 289L1024 357L1142 200L977 392L1067 274L1158 229L1230 136L1123 204L1222 134L1148 251L1214 142L1021 328L1147 251L976 381L1214 139L1065 266L1213 156L1111 220L1212 165L1062 319L1145 195L1099 292L1140 247L1172 221L1083 255L947 414L1013 330L1148 193L1145 199L1066 319L1185 164L1164 224L1128 196L954 406L1026 351L1024 318L1083 304L1253 107L1060 282L984 391L1244 128L1156 241L1003 369L1010 361L1076 265L951 407L1165 216L1014 337L1038 303L1201 154L964 393L1016 336L1194 152L989 380L1149 238L1215 141L1129 266L1192 155L998 373L1036 341L1223 154L978 388L983 374L997 357L1164 186L1025 327L991 364L1071 255L1032 344L1113 277L1168 230L1259 113L1092 238L1058 332L1033 303L1071 320L1073 254L1248 112L1048 331L980 378L982 373L1065 273L1089 297L1056 324L1011 364L1247 116L1032 309L1174 177L1132 207L1185 166L1193 182L996 377L1191 194L1169 214L1229 143L957 408L1188 192L1133 268L1181 173L979 381L1232 127L1130 277L1091 295L1115 281L1056 334L1256 108L1237 130L1060 326L1013 340L1123 266L1051 359L1155 182L980 380L1181 197L1002 347L1022 320L1151 239L1057 267L1088 305L1167 239L1204 171L1016 338L1203 151L1177 204L1154 192L1194 182L1005 369L1247 121L1192 196L1231 142L1024 328L1246 115L1191 186L1049 291L1245 117L1187 191L1212 142L1146 197L1148 244L993 365L1233 133L1040 336L1189 208L1236 125L1030 345L1172 213L1100 228L1105 295L1160 244L966 402L1187 191L1019 359L1178 173L1068 267L1166 177L1130 262L1065 269L1210 145L1058 282L1035 303L1198 152L998 374L1067 317L1005 368L1275 89L954 400L1045 333L1132 205L992 363L1048 339L1137 277L1060 277L1099 298L994 361L1117 222L1210 176L1109 227L1010 363L1041 303L1174 208L1078 309L1220 150L968 400L1189 191L1241 126L1230 139L1217 156L1106 227L1239 130L989 370L1026 347L1109 290L1232 146L999 375L1163 229L1206 151L979 394L1045 293L1127 263L1191 158L1220 155L1244 110L978 388L1019 353L966 401L1040 345L1118 212L995 377L1018 330L1032 350L1081 318L1200 150L1132 211L964 398L981 390L1206 169L966 394L1203 170L1205 146L1198 179L1055 328L1053 328L997 373L1239 127L1144 199L1156 230L1067 316L1112 279L1126 270L949 414L1170 214L1047 333L1145 253L976 393L1092 301L1051 287L1106 233L1201 153L1118 277L993 360L1253 118L1098 232L1233 138L1218 158L1006 344L1187 167L1219 128L1091 298L1111 216L1155 245L1172 208L1030 347L1159 226L1001 353L1052 290L1118 277L1235 138L1244 115L1221 147L1187 160L1035 344L1220 149L1265 97L1061 321L1240 119L971 403L1109 281L1206 187L1025 349L988 369L1070 219L1181 201L994 379L937 425L1219 139L1077 256L950 415L958 410L1033 291L1214 161L1021 329L1237 132L1143 245L1148 190L1253 109L1242 131L1131 264L984 374L1196 157L1219 152L983 375L969 383L1168 216L1056 286L1177 169L1000 370L980 388L1224 145L1086 302L1194 179L1238 122L998 375L1040 348L1145 195L1181 166L1033 315L1190 186L1156 230L1170 212L945 414L974 395L1242 124L1024 325L1261 107L1016 360L1089 302L1008 363L1189 164L1198 176L1111 282L1070 363L1096 295L1019 355L1229 138L997 379L1244 121L1033 309L1189 164L1069 317L1026 325L1022 326L1155 191L1121 274L1163 226L1139 259L1009 334L1191 190L1129 272L995 373L1169 211L1228 139L1119 273L1158 188L1089 300L1232 134L1073 254L1208 169L1214 145L1234 133L1174 210L1014 364L1268 126L1182 170L1008 376L1045 333L1190 165L976 384L1219 158L1118 208L1155 188L989 382L973 382L1248 121L1203 154L1240 128L1241 119L1111 290L1129 211L1046 295L1242 124L1164 185L1190 152L1171 179L951 416L1231 125L1130 208L1100 290L1149 267L1183 208L1065 326L1132 260L1206 165L1165 221L947 416L1089 243L1169 224L1187 193L1157 192L1132 260L1229 127L1198 180L1176 230L969 396L1194 182L1246 109L1232 140L1165 217L1223 147L1138 257L1116 278L1079 256L978 390L1188 188L963 397L1206 168L1005 346L1031 345L960 384L1083 309L1114 276L963 406L1059 324L1241 119L965 396L1161 187L1198 147L1227 153L1068 327L1210 142L986 381L1099 238L1241 120L1174 216L1035 350L1236 119L1180 212L1023 325L1026 404L1200 181L1042 305L1237 137L1222 128L1041 299L1015 321L1199 182L958 398L1134 205L1169 215L1040 294L1175 209L1126 210L1231 140L1016 330L1186 166L1188 188L1057 281L1161 232L999 355L1152 236L1205 169L958 404L986 370L1146 199L1158 237L961 401L1183 162L1132 268L994 364L1225 144L1229 144L1225 143L1196 177L1047 332L1039 300L1059 322L1005 369L1226 131L1175 175L1237 131L977 380L1086 319L1110 223L1227 151L1030 349L1199 174L1139 202L981 376L977 382L1195 180L973 395L1222 147L1052 284L990 379L995 354L970 392L1228 128L1249 108L1204 169L1042 338L968 388L1003 368L1059 322L1189 164L1174 209L1001 373L1044 296L1020 362L991 365L1178 199L948 418L1232 140L1232 135L975 391L1204 142L979 393L1058 277L1219 138L976 380L1075 261L1057 329L975 380L1234 136L947 421L994 381L1002 352L1147 193L971 395L973 394L1252 112L1063 329L1224 145L1155 186L1050 294L967 395L1158 238L1114 280L1214 154L1021 326L1077 255L1154 231L1039 343L973 397L1209 168L1013 329L976 381L980 389L984 385L1152 240L1044 341L912 406L1069 322L1143 196L1043 341L1026 323L1145 255L1045 335L1044 294L1202 154L1157 233L1186 194L1168 213L1204 168L1013 361L1078 311L1070 268L1097 297L1165 235L1215 142L1203 168L1006 366L1000 347L1027 320L1077 260L1221 162L1128 261L1167 249L1033 342L1190 163L1021 358L997 360L1135 195L1069 269L1056 325L1180 201L1165 181L993 379L1205 152L1056 330L1128 211L1207 149L1163 181L1199 148L1024 326L1176 202L1206 164L1120 280L1222 146L1255 114L1014 361L989 379L1012 362L1235 126L1224 132L1043 300L1064 271L1098 235L1151 236L997 351L1022 350L1064 271L965 393L1219 153L1215 158L1164 219L1001 356L1258 104L1015 339L1112 223L1044 294L1075 264L1017 274L1073 264L1198 184L952 408L1086 302L1166 182L1169 212L1242 117L1146 197L968 380L1023 325L1048 282L1069 266L1242 118L1228 132L959 405L1112 228L1000 351L1233 146L1247 119L1175 204L1071 332L1034 343L980 395L1233 136L1198 158L998 357L1141 202L1188 164L1029 351L1118 213L1177 169L1106 290L1183 193L1239 113L1105 231L1256 102L1044 337L1150 235L1124 275L1174 176L1043 301L1141 203L1024 357L1046 285L967 391L1163 182L1023 378L1019 355L1009 340L956 408L1068 317L1003 351L1057 327L1055 330L1185 195L955 409L1005 350L990 380L1036 339L997 359L1071 265L1125 211L1064 277L982 386L1142 249L1126 209L1009 339L977 382L1044 334L1207 145L1088 231L1167 181L1146 198L1164 224L1018 334L1134 262L1099 307L981 371L1067 271L1220 140L1017 331L958 404L1056 328L1165 216L967 393L1218 152L991 365L1031 317L1039 344L1092 346L1172 221L993 375L1204 152L1072 258L1001 369L1079 258L1174 209L1098 233L1048 329L1149 194L1107 229L1079 312L996 356L1124 211L1013 330L1024 353L1166 224L1249 116L1097 231L975 394L992 377L1022 350L1033 343L1024 357L1230 127L1194 189L1183 201L1139 201L1040 307L1047 334L1212 146L985 386L973 396L996 362L998 359L1110 228L1126 266L1114 226L1070 260L1231 141L968 393L1073 258L1206 151L1129 203L1030 349L1247 116L972 400L1228 130L1100 218L1111 279L997 378L1026 349L1179 202L1162 186L1203 152L1233 124L1205 173L1210 160L997 358L992 366L947 414L987 383L991 367L1151 183L1189 164L1111 284L1198 176L1018 334L1084 251L1199 157L1245 115L966 399L1004 377L1221 136L1169 211L1000 350L972 383L986 383L1215 141L1138 201L1252 110L1113 187L1240 120L1080 306L1182 203L1067 265L1180 161L1125 277L1079 306L1009 345L1190 192L994 379L1101 236L1043 273L1049 295L1041 336L978 380L1181 166L1163 183L1195 199L1222 130L1047 287L994 379L972 393L987 389L1015 367L1230 130L1022 327L1054 334L948 417L1042 299L960 414L1194 182L1059 324L1165 218L1023 354L1193 181L1224 149L960 401L972 388L1200 175L1139 197L992 375L1242 147L1069 316L1064 323L1245 116L1016 335L1238 124L995 360L1040 336L1137 273L1229 126L1197 158L994 358L1247 111L1016 335L1170 180L1026 324L973 388L1073 256L1217 160L1262 103L956 407L1066 263L990 368L953 408L1207 141L1188 161L952 415L1240 120L1191 182L1064 275L1101 233L1067 260L989 369L975 386L1214 141L1041 302L974 386L1175 206L1074 313L1161 224L1213 160L1227 153L1053 286L1135 197L963 405L973 401L979 382L1007 364L1195 157L1127 266L966 406L1179 169L1020 331L1087 238L1139 203L1070 260L1035 342L1181 169L1177 203L1175 177L1199 150L1082 308L1058 269L1161 187L1089 300L1139 199L1235 121L1240 121L1056 282L979 367L1084 300L1148 193L1120 270L964 399L980 377L985 386L972 395L971 383L945 412L1257 107L967 402L1115 276L949 420L1148 239L1166 216L1047 292L1083 303L1168 176L1160 315L1078 309L987 363L942 421L1174 217L977 389L1240 128L1091 243L1144 270L975 386L1180 200L1174 176L1069 270L1005 347L1028 318L1238 131L984 383L1240 121L1040 341L1022 329L1023 329L1214 171L1153 193L1093 233L1022 357L1096 305L966 394L1136 252L1103 294L1038 298L1073 315L1038 339L1208 162L955 409L1140 200L1218 155L1001 355L1172 211L970 390L1199 176L1211 145L1003 371L1191 161L1249 109L1009 365L1152 245L999 371L1065 258L1109 283L1224 146L1054 328L1195 157L1168 183L1001 344L1148 193L1145 197L1104 288L986 368L1221 156L1035 286L1006 345L1144 246L1264 100L1157 191L1114 279L1106 224L1133 207L983 371L977 389L1061 328L1142 248L1259 106L1226 128L1024 365L1251 109L1020 353L1164 183L1141 246L1034 312L1261 109L1133 263L1007 344L1009 364L1018 359L1191 162L1083 253L1241 128L1243 128L968 400L1068 268L953 413L1054 283L989 386L1229 142L1170 213L1161 224L1153 195L1120 275L970 405L1109 286L962 399L962 399L1038 346L1070 260L1175 173L1233 134L1180 205L1093 296L1067 319L1024 363L1194 159L1154 189L1196 177L1186 202L1167 216L1086 303L1175 208L962 405L1119 286L994 363L942 413L1198 158L976 386L1028 322L975 399L1217 142L1089 241L1011 363L1239 124L1148 241L1068 270L1229 127L1202 171L981 388L1024 316L1120 280L1095 241L1169 210L1060 275L1002 353L1185 190L1245 118L1249 114L1182 168L1238 133L985 384L1076 258L1081 256L1101 232L1087 244L1190 191L1061 321L1117 282L1032 307L1150 196L963 393L954 403L1222 135L1158 188L1162 222L1132 205L1117 218L961 404L1055 286L992 363L1002 368L1115 280L1044 300L1111 226L1224 145L972 394L1045 297L1083 305L959 402L1224 145L1058 334L1206 149L950 407L1086 246L1170 219L1026 356L1006 342L1198 153L1165 185L1031 346L1077 249L1167 216L971 389L1238 131L1109 229L1012 366L1168 214L1051 328L1047 298L969 398L1000 344L1241 119L1208 145L1256 109L996 359L1110 280L1229 128L1110 284L1173 173L1016 339L1209 143L1031 315L1135 208L1128 263L954 407L1021 325L1182 194L1236 123L1084 254L1098 234L962 401L1164 226L1042 305L1245 112L1037 338L1164 182L1054 327L1094 236L1203 171L980 378L981 379L1096 304L973 394L1003 345L1231 125L987 366L1123 215L1091 245L986 372L1229 146L1010 365L1169 175L1232 130L1075 255L1177 201L1032 280L1032 306L979 377L1053 288L1202 154L939 424L984 371L987 372L1207 171L971 400L1090 298L1149 253L1178 166L1163 184L1037 305L958 405L1046 289L1232 141L1003 369L1181 167L1082 253L1062 326L949 417L1269 100L1159 224L1012 361L1151 236L968 399L1127 263L1125 217L1019 325L1237 130L1080 255L967 399L1199 150L1127 266L1244 124L1069 260L1028 345L1019 325L1231 127L1011 341L999 372L984 385L1143 197L970 397L992 355L1047 293L1088 308L1057 330L1048 334L1092 301L1170 227L1222 149L1216 153L1223 150L1110 284L1213 143L997 360L1020 330L1026 324L1052 290L991 377L1132 201L1028 316L1056 282L1137 204L1000 372L1042 298L1243 130L956 411L1176 205L983 370L1212 142L1204 151L1122 270L1101 296L1264 94L940 416L1162 185L1110 291L1097 218L997 357L1141 245L1246 125L1139 192L1231 128L999 373L1014 336L1046 335L1018 324L1092 237L1137 206L1040 306L1060 277L1181 170L1223 135L1093 237L955 410L969 391L1102 220L961 399L968 406L1044 333L1121 217L1154 189L1235 137L1097 290L1081 248L1053 328L1115 279L965 392L1030 319L981 379L1185 192L1111 281L1245 121L988 385L1253 120L942 426L993 382L1085 241L1176 204L956 418L1131 204L1150 258L976 383L994 379L1012 343L1199 157L1033 344L1245 119L985 384L1182 167L1237 123L1227 143L986 381L1223 146L1107 228L1046 332L1173 171L1209 172L1014 330L1090 241L1161 227L1229 140L1216 142L1032 311L983 388L1160 230L1117 220L1238 140L1102 292L1229 139L970 395L1041 305L1044 336L1099 223L1111 281L1230 113L1152 193L1081 248L1160 184L1128 164L1082 251L1195 161L1203 153L974 380L1076 254L1070 268L1059 326L979 373L1205 165L998 374L978 391L968 397L1018 334L1189 166L993 363L1182 201L1160 227L1230 141L989 366L1061 329L1011 361L1075 261L1093 236L1221 154L1162 219L1168 221L1096 291L1219 150L1235 132L1044 336L1120 273L1178 175L1079 309L1174 207L1215 137L985 388L1131 257L1126 266L1199 152L1192 189L961 401L1055 283L1192 161L1071 267L1217 138L989 383L1207 166L1172 210L1078 249L1210 142L1114 280L1239 120L1175 206L1030 292L1149 236L1164 229L1210 147L1027 353L1124 282L1128 207L1064 272L1122 270L1213 159L948 415L1189 166L989 380L1023 322L1030 313L1095 294L1230 137L1124 209L1109 298L971 396L1020 352L1210 160L1223 147L1019 355L1074 320L1103 294L1245 129L1193 186L1030 304L1059 275L1134 199L1132 206L1228 130L1185 168L1008 348L1015 368L1135 261L1082 206L1156 231L1032 311L1057 278L1149 193L1205 171L1109 226L1060 274L1019 333L995 360L999 385L1244 124L1038 302L1172 211L1176 176L975 390L1121 219L1151 195L1157 234L1015 338L982 368L1116 273L1025 325L1055 335L991 367L1207 146L1065 275L1196 155L1002 352L1014 338L1224 145L1057 323L1070 318L1204 166L1059 323L972 396L1243 117L993 358L1137 254L1211 148L1247 114L1066 316L1119 216L1028 348L986 366L976 384L1105 230L1148 238L1002 354L1029 344L1112 278L1180 172L985 373L1089 240L1089 299L1188 190L942 422L1041 301L1109 219L1252 116L1136 206L1036 307L1127 194L963 395L1129 270L1241 124L1115 277L979 375L1003 350L1046 335L1028 346L1207 150L993 365L1010 376L958 403L1116 277L1094 297L1118 217L1044 299L1269 97L1074 316L957 409L1013 361L1156 234L1121 212L1055 287L1204 154L1094 243L982 388L1245 117L1165 229L999 342L1062 266L1189 164L1074 312L1028 319L986 391L977 383L1151 192L1218 139L1042 337L1123 274L1148 194L1022 354L1035 313L1203 152L1190 163L1152 192L1018 333L990 379L1067 269L970 392L1129 278L948 407L1044 285L1013 365L981 372L1068 268L1015 363L1081 255L958 408L1156 184L1058 342L1235 130L976 381L1199 156L1171 208L1244 116L1202 171L1022 329L1091 237L1169 220L1085 252L1018 329L976 386L1048 281L1142 197" fill="none" marker-start="url(#mb)" marker-mid="url(#mb)" marker-end="url(#mb)"/>
<line x1="430.0" y1="251.7" x2="674.2" y2="7.8" stroke="#c56a6d" stroke-width="1.8" stroke-dasharray="6 2.9" stroke-dashoffset="1.6"/>
<rect x="430.0" y="7.8" width="244.2" height="243.9" fill="none" stroke="#000" stroke-width="1.5"/>
<path d="M430 251.7v-4.4M430.0 251.7h4.4M470.7 251.7v-4.4M430.0 211.05h4.4M511.4 251.7v-4.4M430.0 170.4h4.4M552.1 251.7v-4.4M430.0 129.75h4.4M592.8 251.7v-4.4M430.0 89.1h4.4M633.5 251.7v-4.4M430.0 48.45h4.4M674.2 251.7v-4.4M430.0 7.8h4.4" stroke="#000" stroke-width="1.4" fill="none"/>
<text class="dv" x="417.33" y="269.1" font-size="18.63" textLength="25.95" lengthAdjust="spacingAndGlyphs" fill="#000">−9</text>
<text class="dv" x="399.94" y="258.9" font-size="18.63" textLength="25.95" lengthAdjust="spacingAndGlyphs" fill="#000">−9</text>
<text class="dv" x="458.03" y="269.1" font-size="18.63" textLength="26.01" lengthAdjust="spacingAndGlyphs" fill="#000">−6</text>
<text class="dv" x="399.94" y="218.25" font-size="18.63" textLength="26.01" lengthAdjust="spacingAndGlyphs" fill="#000">−6</text>
<text class="dv" x="498.74" y="269.1" font-size="18.63" textLength="25.67" lengthAdjust="spacingAndGlyphs" fill="#000">−3</text>
<text class="dv" x="399.95" y="177.6" font-size="18.63" textLength="25.67" lengthAdjust="spacingAndGlyphs" fill="#000">−3</text>
<text class="dv" x="546.73" y="269.1" font-size="18.63" textLength="10.73" lengthAdjust="spacingAndGlyphs" fill="#000">0</text>
<text class="dv" x="414.91" y="136.95" font-size="18.63" textLength="10.73" lengthAdjust="spacingAndGlyphs" fill="#000">0</text>
<text class="dv" x="587.67" y="269.1" font-size="18.63" textLength="10.3" lengthAdjust="spacingAndGlyphs" fill="#000">3</text>
<text class="dv" x="415.15" y="96.3" font-size="18.63" textLength="10.3" lengthAdjust="spacingAndGlyphs" fill="#000">3</text>
<text class="dv" x="627.94" y="269.1" font-size="18.63" textLength="11.1" lengthAdjust="spacingAndGlyphs" fill="#000">6</text>
<text class="dv" x="414.72" y="55.65" font-size="18.63" textLength="11.1" lengthAdjust="spacingAndGlyphs" fill="#000">6</text>
<text class="dv" x="668.6" y="269.1" font-size="18.63" textLength="11.08" lengthAdjust="spacingAndGlyphs" fill="#000">9</text>
<text class="dv" x="414.68" y="15" font-size="18.63" textLength="11.08" lengthAdjust="spacingAndGlyphs" fill="#000">9</text>
<g>
<text class="dv" x="488.09" y="295.9" font-size="22.6" textLength="11.62" lengthAdjust="spacingAndGlyphs">F</text>
<text class="dv" x="500.34" y="299.6" font-size="15.82" textLength="40.35" lengthAdjust="spacingAndGlyphs">AIMD</text>
<text class="dv" x="548.31" y="295.9" font-size="22.6" textLength="67.99" lengthAdjust="spacingAndGlyphs">(eV/Å)</text>
</g>
<g transform="translate(391.4,129.75) rotate(-90)">
<text class="dv" x="-66.34" y="0" font-size="22.6" textLength="11.62" lengthAdjust="spacingAndGlyphs">F</text>
<text class="dv" x="-54.1" y="3.7" font-size="15.82" textLength="45.45" lengthAdjust="spacingAndGlyphs">CNMP</text>
<text class="dv" x="-1.46" y="0" font-size="22.6" textLength="67.99" lengthAdjust="spacingAndGlyphs">(eV/Å)</text>
</g>
<text x="442.27" y="36.3" font-size="22.4" font-weight="bold" fill="#c56a6d">R²: 0.99</text>
<text x="353" y="30.3" font-size="30.5" font-weight="bold">b</text>
<defs><marker id="mc" markerUnits="userSpaceOnUse" markerWidth="1" markerHeight="1" overflow="visible"><circle r="2.40" fill="#c9af77" fill-opacity="0.2"/></marker></defs><g fill="#c9af77" filter="url(#bl)"><path d="M289.6 370.5l4.4 0l2 .9l.8 2.1l.3 3.5l-4.6 9.8l-9.3 11.7l-12.6 9l-30.1 18l-5.5 2.5l-2 -.1l-.2 -1.4l.7 -2l4.5 -7l18.5 -24l10 -11.1l13.3 -8.4l9.8 -3.5z" fill-opacity="1.000"/></g><path transform="scale(.5)" d="M321 1023L432 894L428 883L420 889L347 947L518 835L372 975L544 760L384 897L478 868L470 859L441 848L380 946L314 981L435 860L440 858L447 920L502 805L529 823L389 952L430 879L322 968L385 881L505 781L385 937L306 983L442 889L386 953L425 891L529 826L502 852L404 900L440 855L354 975L392 918L510 795L487 877L421 886L423 893L524 778L591 765L406 923L416 928L466 858L331 981L509 837L421 874L499 800L324 1036L326 1005L325 951L589 758L348 952L564 796L401 916L467 834L508 841L328 1003L399 934L466 848L354 940L338 965L402 935L487 855L477 819L586 741L572 792L418 914L436 912L326 952L566 801L324 970L418 968L419 915L467 845L468 846L380 931L572 746L432 808L538 823L417 876L367 971L398 973L466 847L368 933L489 788L377 888L449 889L457 854L454 957L413 888L458 857L346 981L460 905L390 932L502 846L418 886L430 849L425 938L352 988L569 792L369 927L389 941L581 776L591 754L579 779L439 877L471 809L482 877L441 838L442 869L496 808L385 910L411 946L475 839L588 766L458 872L421 917L549 832L254 925L414 859L482 831L369 992L360 952L420 957L542 761L285 993L462 859L394 925L556 807L494 808L452 880L559 800L300 1011L549 809L392 855L439 917L400 917L457 875L360 942L338 960L532 828L585 741L294 979L479 887L499 841L455 848L469 871L498 852L408 892L543 814L479 870L363 960L389 938L367 928L479 826L423 865L400 890L583 775L348 978L421 901L447 893L564 801L457 876L431 892L307 991L449 868L405 946L469 862L339 882L372 919L522 833L438 833L526 769L474 868L567 796L438 897L459 873L402 933L516 788L477 827L536 767L390 902L456 873L580 778L457 866L379 908L487 823L400 910L460 884L431 826L517 830L489 817L344 955L490 851L537 766L444 876L457 888L318 1016L325 1030L534 764L438 918L338 985L391 937L442 876L513 848L396 911L417 905L356 966L387 957L540 765L599 759L302 1024L381 919L486 809L424 854L271 1040L554 753L498 922L448 883L375 974L444 877L416 899L335 1009L464 829L467 845L415 885L411 867L343 861L448 861L461 839L593 756L474 867L410 878L521 767L386 935L330 977L360 965L480 819L383 915L477 863L317 958L353 951L500 808L402 905L569 747L390 923L510 834L421 863L375 968L332 984L316 987L339 962L456 859L281 1043L463 848L561 812L304 1006L267 1002L483 889L595 742L429 908L392 950L402 915L478 828L500 794L436 901L495 842L472 869L433 909L439 867L474 870L544 819L489 822L397 912L296 1039L430 873L507 844L431 851L274 1011L355 964L376 948L430 893L553 755L365 984L388 907L474 830L506 857L515 849L579 743L350 987L420 901L425 889L424 883L499 850L577 792L593 743L591 738L371 900L554 754L467 872L577 782L390 905L430 875L314 1028L465 845L333 1037L562 800L344 946L371 920L511 796L422 896L454 889L440 934L333 971L322 1024L446 868L546 757L379 902L345 976L458 869L446 883L449 856L380 926L459 888L539 763L415 883L538 816L389 932L420 884L384 891L364 1003L394 918L377 930L519 783L468 889L492 888L458 873L430 825L464 884L360 916L419 919L302 980L339 958L374 970L362 932L332 991L478 870L422 879L532 769L415 898L318 925L434 895L348 931L599 760L493 812L325 946L441 892L581 744L341 982L592 744L448 840L435 832L323 955L418 912L583 741L329 983L417 897L466 849L594 740L520 776L365 919L544 817L506 846L337 953L377 944L396 897L522 832L422 849L425 885L424 930L508 786L595 756L467 854L463 838L385 885L360 915L545 748L418 888L421 875L553 748L519 843L382 938L317 986L514 845L527 837L361 947L346 977L547 754L460 835L324 962L389 945L452 879L394 990L502 808L300 1015L381 937L467 870L466 917L405 908L249 1035L453 861L523 782L498 845L375 962L446 903L524 774L539 823L309 964L582 740L481 913L419 863L579 789L401 897L550 759L445 884L472 861L356 950L460 849L397 886L470 877L426 923L430 887L567 796L395 897L415 934L307 1027L383 949L386 939L435 886L428 854L510 865L411 923L409 920L431 878L337 1012L568 805L441 852L387 887L490 821L556 804L472 858L368 917L501 878L488 852L491 856L389 927L344 983L300 959L416 858L502 807L412 903L488 874L581 744L494 794L343 924L552 751L431 866L417 871L502 848L466 889L280 1014L589 759L439 914L447 870L445 933L435 860L432 886L381 950L425 881L338 953L499 805L474 873L329 964L317 1008L521 825L433 835L480 865L435 857L332 921L550 756L581 783L501 801L466 872L560 804L508 788L537 765L469 862L397 905L300 1005L571 788L337 983L578 782L448 900L412 880L577 787L600 749L521 781L522 776L524 773L408 951L580 739L351 1024L391 934L394 868L479 815L410 914L385 935L478 866L453 850L433 854L392 909L328 997L462 843L468 864L362 938L539 829L543 824L477 855L364 930L450 880L362 909L368 1000L445 893L473 825L439 849L540 824L380 914L463 872L481 885L389 945L467 825L400 920L589 763L441 927L504 846L400 862L419 927L453 892L341 988L518 784L583 780L366 989L403 906L383 954L428 903L339 957L433 863L463 876L511 793L455 861L411 904L485 873L517 882L495 874L370 930L539 815L446 887L400 939L387 984L589 741L457 878L578 780L477 857L443 866L427 914L470 807L398 949L455 874L441 929L457 901L481 833L409 897L451 881L337 914L408 900L543 759L365 932L462 862L469 841L534 836L447 909L498 863L322 922L438 870L519 773L477 856L365 994L537 766L526 827L438 845L518 786L465 835L458 883L502 787L344 956L455 825L453 830L594 755L580 778L395 927L577 796L554 743L536 752L484 824L595 754L346 918L587 779L537 825L572 789L390 907L587 782L491 803L406 891L345 971L559 754L404 832L436 888L453 846L369 999L443 852L593 745L358 952L517 829L408 913L351 978L552 756L398 950L367 944L571 787L353 980L565 795L477 881L460 895L476 863L501 797L380 944L426 880L438 845L388 918L338 938L349 927L307 1005L423 871L444 894L431 899L319 981L340 991L431 846L417 936L570 748L376 942L427 888L376 954L484 859L401 913L388 947L366 945L495 809L403 893L446 891L424 905L448 888L307 992L332 982L419 913L427 875L568 797L309 1005L567 747L416 868L511 794L326 1073L372 840L371 967L436 886L490 811L356 912L451 852L566 797L468 764L505 843L411 888L391 908L422 916L496 840L343 982L459 892L456 814L549 818L437 887L434 874L588 745L435 900L492 809L336 969L504 791L460 838L463 884L407 943L491 817L500 806L367 969L381 937L401 925L355 924L339 913L508 798L466 816L422 898L588 760L591 746L492 860L411 917L323 1001L370 961L537 765L412 881L494 846L470 843L403 939L329 1023L355 962L396 964L436 875L595 746L343 951L402 917L301 1006L358 994L397 945L519 779L466 859L340 942L439 843L396 934L440 886L460 839L507 930L452 867L410 938L456 912L426 920L288 990L423 840L434 900L364 944L424 927L472 908L410 909L494 845L471 865L507 842L578 740L343 960L401 888L348 989L370 881L389 927L427 870L390 908L550 811L470 880L456 828L431 909L489 852L367 979L416 868L393 921L366 922L439 881L310 974L590 764L410 952L456 890L376 891L325 1013L379 939L543 823L463 856L432 872L574 790L552 755L394 909L515 838L490 814L420 907L396 905L449 817L297 981L393 879L466 848L449 834L431 880L522 776L568 799L581 787L460 854L580 740L456 848L566 750L427 910L351 1003L434 902L458 823L598 760L511 788L395 941L477 867L465 841L423 866L536 766L478 823L521 781L459 869L384 900L348 971L398 895L460 847L505 803L372 890L372 938L476 832L444 865L324 1002L384 960L438 848L515 841L425 897L554 807L499 796L534 819L551 759L453 875L563 804L449 811L437 886L466 826L558 805L510 837L366 955L446 898L362 922L412 862L386 1004L518 783L470 894L406 937L423 867L471 855L335 977L414 891L348 927L474 856L383 896L522 782L358 932L363 931L559 801L449 851L570 749L399 933L408 878L419 938L491 849L480 823L405 944L455 848L521 836L449 851L594 760L389 912L399 937L438 887L358 908L467 882L327 964L509 849L404 899L423 890L329 984L427 872L401 918L381 967L497 798L464 844L321 1047L368 938L433 873L399 915L299 985L490 861L294 995L486 863L462 886L456 878L535 760L362 933L540 754L431 1023L402 893L373 909L435 836L404 963L475 813L558 745L533 769L383 924L539 818L459 882L404 903L459 876L437 881L484 821L414 868L487 818L338 980L470 872L492 860L421 926L466 817L541 818L525 826L495 803L451 883L454 891L383 898L379 903L416 893L445 840L557 753L348 953L450 875L430 886L487 814L425 879L393 888L396 927L461 844L420 930L420 912L359 973L441 880L478 860L422 903L475 867L434 915L376 928L406 918L397 916L389 946L373 938L429 912L422 911L437 946L348 941L501 805L341 930L441 880L535 757L495 853L467 868L396 933L481 822L572 744L552 755L511 834L441 884L480 823L406 927L383 912L440 889L506 853L517 774L333 942L420 858L487 855L384 958L459 848L381 882L349 992L594 752L529 825L406 928L393 927L325 969L416 932L538 821L437 839L438 869L454 881L354 996L313 957L423 943L308 943L278 980L585 770L410 914L511 835L382 932L393 920L529 834L413 909L467 788L373 935L418 900L566 802L393 931L451 927L399 915L473 824L444 916L478 814L541 816L407 894L516 865L405 929L466 875L410 904L547 814L408 890L447 893L345 1002L363 965L456 874L445 881L374 936L401 931L433 841L412 897L437 858L513 838L247 992L364 947L450 851L343 972L315 1013L380 942L354 927L444 899L393 903L464 838L565 749L435 883L446 912L369 894L575 738L418 908L438 854L420 882L449 878L397 878L466 910L377 923L479 854L378 929L327 954L548 811L345 967L379 943L438 837L409 917L360 928L379 938L344 1011L523 781L509 790L371 1012L561 751L491 821L448 879L362 962L314 1037L440 923L395 938L460 876L359 921L320 1006L457 850L417 939L522 825L350 956L502 804L324 939L475 865L476 829L364 984L493 803L390 890L355 1006L473 858L415 901L411 919L480 821L468 876L486 856L454 847L388 937L390 932L396 913L422 945L461 839L398 908L425 888L443 866L364 935L515 908L320 979L433 894L477 821L465 865L423 879L421 885L403 885L428 873L439 901L457 873L515 766L381 946L370 987L355 931L453 849L459 851L390 897L358 952L450 885L502 836L452 885L405 896L545 762L515 784L378 923L470 839L487 857L381 920L425 906L490 807L345 939L396 931L482 856L462 855L352 1002L348 986L404 881L522 837L422 851L377 940L440 880L360 967L483 868L422 888L381 935L409 919L526 826L414 911L377 910L585 736L541 813L594 753L410 888L396 848L400 940L339 984L370 955L410 874L399 931L471 828L397 906L441 884L346 923L397 948L395 929L417 910L462 832L590 746L572 792L384 889L506 838L582 779L352 979L381 928L394 960L346 941L529 823L367 951L469 878L434 907L557 753L559 751L544 820L377 957L346 966L323 995L387 922L382 916L486 857L456 879L329 1016L446 867L345 980L396 904L549 748L356 955L590 770L343 953L453 873L412 893L345 984L432 921L416 902L465 823L572 791L514 860L340 974L487 795L459 836L381 955L248 1046L377 919L571 792L434 883L455 873L358 941L570 800L451 912L382 919L330 950L371 964L567 800L492 798L331 942L493 852L399 914L431 856L394 877L450 872L421 890L447 883L407 919L394 921L393 921L458 844L371 969L528 772L413 846L491 793L353 958L398 909L289 999L427 893L427 880L521 778L538 819L508 787L430 920L430 863L457 884L271 1007L337 921L438 876L511 835L292 981L403 942L394 894L415 878L379 949L561 749L381 956L322 991L446 836L587 765L476 819L360 956L304 965L563 748L559 812L420 908L285 1009L376 937L361 930L365 872L424 874L459 870L440 847L482 860L384 962L572 747L377 902L498 839L517 782L316 1035L440 887L600 750L513 783L391 912L446 873L554 811L461 845L463 891L343 955L367 969L423 903L394 919L358 943L551 758L456 865L451 873L426 875L467 873L533 830L453 891L303 1022L431 887L477 858L593 758L492 869L416 931L475 879L467 846L585 784L542 763L435 872L392 939L356 926L377 857L454 822L438 898L368 949L467 831L477 888L394 990L391 894L432 878L581 744L590 774L459 898L402 935L542 818L500 846L435 917L555 802L289 1031L423 885L365 974L325 1002L460 856L569 797L448 883L413 931L370 896L314 993L461 869L407 933L422 895L458 894L466 853L490 855L377 956L344 998L528 771L469 874L411 879L412 911L405 914L421 906L492 846L334 961L466 905L372 941L474 870L443 846L323 999L464 849L399 953L471 884L428 901L477 809L395 894L501 849L595 753L400 910L451 853L364 945L329 988L425 903L396 896L494 855L546 816L384 920L596 761L457 891L383 914L309 1044L433 848L509 836L348 955L428 914L380 921L354 984L469 860L429 920L489 816L373 968L443 879L469 889L465 856L369 975L405 909L425 874L534 817L420 956L428 875L362 946L410 874L469 845L467 876L586 745L461 854L485 874L537 766L373 934L365 938L449 835L343 970L393 914L325 993L420 885L390 916L451 903L437 878L414 902L410 888L349 970L387 949L335 926L432 898L425 866L412 871L472 842L492 808L469 811L497 849L541 815L393 919L476 897L361 977L545 813L446 834L410 888L478 876L530 773L438 857L582 740L509 836L372 899L415 893L342 965L329 981L467 917L464 885L587 782L499 806L282 999L404 930L433 900L337 979L436 860L356 974L497 847L446 852L411 856L516 845L505 839L427 877L392 922L438 854L498 845L290 1019L451 903L505 844L469 895L478 827L426 894L428 885L294 966L489 846L436 906L580 782L441 883L512 767L415 923L363 933L591 738L440 783L470 903L416 854L361 953L570 740L301 993L537 760L507 780L362 998L353 930L374 957L475 875L440 891L307 1011L469 899L339 949L478 872L485 822L449 896L433 843L446 846L283 1066L369 901L466 839L375 959L336 977L363 954L477 812L582 745L459 839L423 902L419 866L466 861L297 991L367 924L453 884L317 942L471 862L404 889L412 937L306 991L397 908L317 977L352 963L466 841L357 968L354 1001L386 939L479 827L457 856L320 1030L546 813L519 779L429 849L468 838L389 919L308 994L397 944L562 749L370 903L414 895L384 922L326 996L385 913L368 908L558 807L585 774L391 887L411 910L325 970L461 846L458 852L361 935L301 999L477 821L526 767L345 990L448 879L466 817L418 889L490 809L514 768L361 951L407 899L481 857L365 890L356 999L454 850L415 931L412 906L447 841L513 794L381 884L384 893L431 892L507 849L414 887L464 832L365 927L390 931L372 954L397 895L380 933L454 896L346 976L370 926L456 840L329 1006L491 817L527 824L464 849L582 737L384 950L435 918L549 758L367 910L597 750L404 938L470 825L363 917L286 1010L591 751L370 961L461 853L524 836L485 816L335 970L429 876L382 957L399 892L462 856L580 775L425 857L362 923L539 761L413 885L487 855L313 988L347 988L586 772L396 911L400 901L390 900L504 806L384 919L323 941L389 937L542 811L449 946L371 979L472 859L489 859L594 758L406 923L380 914L461 828L430 901L454 912L463 851L482 796L393 890L506 843L429 867L478 858L510 840L507 836L366 959L345 955L427 878L482 819L535 761L545 760L347 994L422 883L305 952L474 903L465 883L387 919L395 953L489 861L430 903L504 842L484 815L445 879L377 965L371 973L369 906L510 832L481 826L390 902L487 871L350 930L408 926L419 970L362 933L499 809L401 901L491 853L326 995L390 917L463 870L424 857L475 860L321 1029L369 937L485 825L400 923L324 976L415 939L447 863L427 884L324 1003L380 947L395 907L334 930L467 863L490 819L418 871L454 825L395 944L366 935L346 963L396 878L451 862L385 936L504 859L565 800L347 993L468 841L491 843L347 919L348 978L448 826L457 835L354 1027L460 834L440 924L463 833L374 962L407 889L349 994L428 900L488 800L457 840L292 1060L358 956L417 909L323 974L333 997L342 940L408 928L329 958L489 822L409 889L428 876L402 923L506 797L508 793L447 880L450 858L499 861L400 903L401 921L414 908L473 856L499 848L472 857L451 842L472 888L396 899L507 787L400 923L515 782L450 875L401 925L450 900L374 900L308 970L496 811L466 862L464 842L412 938L428 878L402 930L346 964L465 866L394 952L447 855L443 910L568 812L486 848L480 888L452 875L425 895L405 900L363 923L451 834L518 828L455 872L484 853L353 1015L486 851L494 879L371 934L360 934L464 857L353 938L400 929L382 927L472 860L397 916L407 925L391 873L307 951L337 908L457 847L480 862L406 941L337 945L363 934L389 915L440 893L325 968L449 897L464 857L347 968L521 760L464 891L503 846L340 973L337 944L469 845L377 918L448 860L372 962L407 904L521 829L421 920L487 858L562 746L461 846L463 929L453 908L405 892L428 871L593 738L487 861L488 848L395 931L472 841L353 929L343 938L545 810L366 925L283 969L436 866L431 888L403 861L585 771L543 813L538 829L423 883L450 863L459 847L446 880L464 865L566 743L495 806L484 849L570 747L398 913L414 905L415 915L447 894L328 1029L565 797L361 924L400 912L407 977L484 816L464 908L413 967L419 919L490 811L377 890L482 818L415 924L592 769L294 975L448 856L474 842L507 847L577 784L361 989L459 862L452 899L431 923L459 853L358 940L417 884L495 848L366 926L494 860L482 825L438 861L272 1090L582 745L523 824L541 751L475 825L396 888L372 947L309 987L331 982L428 865L400 906L516 828L357 980L449 853L511 843L494 866L456 868L410 926L510 836L456 915L450 880L449 863L325 950L358 960L461 840L462 882L386 903L382 907L393 909L304 1026L390 956L412 944L363 929L443 876L447 881L311 995L331 1007L401 935L430 857L535 763L521 778L406 930L473 862L411 914L415 872L397 905L429 874L437 879L389 929L409 857L406 889L428 864L324 958L558 800L584 744L371 960L449 854L307 1060L510 850L343 981L462 863L423 941L355 962L451 854L456 869L384 968L379 931L565 797L452 847L393 898L384 958L405 926L341 972L522 765L556 811L387 958L398 898L464 896L341 934L482 870L352 964L445 846L565 749L495 857L454 883L553 808L521 827L410 917L410 918L418 909L442 821L409 877L481 828L385 929L386 940L584 776L386 929L444 864L433 848L474 859L471 843L518 827L592 748L446 861L340 991L327 1030L372 976L538 818L546 809L524 772L451 882L404 893L391 943L400 935L384 917L448 912L405 939L519 779L453 844L332 1006L324 998L483 879L453 862L410 917L399 937L452 890L351 1010L515 829L382 964L366 970L345 895L416 934L369 934L533 771L564 800L465 838L566 745L559 801L471 825L502 798L419 945L379 970L391 907L433 901L455 841L401 911L455 830L423 896L264 997L391 914L343 993L445 898L417 919L582 780L464 857L380 942L544 815L588 736L413 949L425 889L407 882L392 884L517 784L419 891L317 961L438 870L346 981L330 993L425 891L427 901L411 907L381 928L454 847L449 848L568 748L372 924L538 751L417 902L427 879L452 869L448 873L436 848L322 983L407 888L382 962L349 1014L432 872L528 821L542 762L504 897L592 769L527 823L476 876L494 814L454 864L409 909L513 784L560 752L309 940L438 890L401 885L374 907L475 857L466 833L375 917L584 739L499 810L375 922L510 847L433 864L507 858L336 967L343 901L401 944L334 950L450 909L497 852L474 832L470 877L459 829L488 808L395 939L424 892L438 844L505 841L438 900L429 899L450 841L348 908L470 829L420 884L398 946L440 910L467 872L452 832L458 863L459 873L336 955L418 877L455 842L421 881L386 896L435 866L477 828L416 891L390 906L394 911L357 895L416 896L454 910L575 744L365 1002L454 783L579 745L492 846L464 863L382 935L468 879L489 850L343 992L550 815L523 779L466 856L435 843L310 926L504 803L441 874L437 844L474 827L441 871L515 839L380 920L428 886L458 847L501 845L438 936L535 822L453 879L511 794L474 856L451 854L333 968L524 780L573 746L414 904L462 867L442 814L368 942L405 906L439 885L438 865L327 986L374 933L321 1002L324 969L433 939L326 989L528 831L316 961L519 777L463 881L593 746L388 917L422 902L460 860L428 879L455 861L409 902L432 872L521 840L396 870L436 883L397 930L546 759L451 850L504 839L436 891L524 833L385 958L449 892L478 885L336 958L396 910L510 835L367 937L449 837L413 920L479 805L425 896L485 820L322 994L405 896L471 863L399 882L582 775L484 815L458 865L294 1029L444 874L432 879L394 941L323 978L373 951L442 875L317 1044L381 901L424 875L347 972L441 890L483 820L318 997L405 892L426 957L401 941L428 893L416 928L409 894L401 867L481 879L439 859L440 872L350 980L443 878L452 869L484 859L279 1035L304 1020L479 822L355 969L367 899L408 851L410 876L509 834L341 959L474 881L393 873L369 1027L563 750L439 879L428 934L554 805L456 837L506 799L484 804L377 969L479 868L381 932L442 851L539 756L586 775L477 824L446 844L331 973L363 939L499 782L358 942L518 782L588 770L355 956L292 1037L468 843L482 851L382 912L479 874L437 870L413 902L472 825L480 862L440 892L416 848L364 943L466 843L466 860L494 850L462 842L447 884L587 739L392 939L393 922L396 925L313 987L355 915L382 931L431 889L593 744L395 886L326 1017L321 966L379 897L404 896L498 841L460 897L438 892L464 859L400 895L456 848L361 942L515 772L480 861L437 857L380 956L476 858L370 989L486 858L468 896L371 958L400 893L436 871L465 841L401 885L397 929L496 850L464 845L450 875L309 970L442 833L352 981L436 876L572 737L443 877L411 887L546 812L473 884L591 750L351 976L411 902L452 859L364 958L352 984L433 888L344 935L451 865L466 888L561 798L493 812L363 980L497 808L416 910L457 873L528 824L426 868L417 889L510 799L361 962L582 742L475 836L341 961L424 888L499 805L582 772L410 922L428 968L431 897L346 938L369 918L520 829L434 870L294 995L414 879L407 915L373 979L368 930L430 861L438 854L584 774L425 885L466 850L413 898L405 879L395 948L318 999L390 958L377 953L380 865L519 774L407 928L400 946L315 979L533 772L396 923L593 753L461 862L445 910L320 963L393 885L364 951L425 909L556 800L544 810L585 769L545 758L466 878L582 780L362 957L439 892L550 746L437 894L408 923L461 854L440 853L387 893L325 1013L438 917L450 872L573 743L426 841L411 924L361 917L450 853L425 953L506 844L440 917L366 904L483 851L504 850L508 844L315 986L475 790L459 932L498 841L447 912L406 900L409 870L409 912L591 766L355 930L414 908L592 754L367 937L445 891L517 827L289 1022L427 910L398 927L573 788L547 759L480 900L348 942L466 856L402 923L448 846L582 774L380 904L419 893L372 1004L391 930L303 997L522 776L454 855L345 930L455 859L478 872L549 750L444 875L475 819L534 821L574 744L471 841L492 850L405 888L397 924L483 812L457 876L435 913L322 957L513 832L306 974L344 997L392 962L504 880L446 891L487 855L456 859L438 936L353 979L508 835L518 781L436 910L453 859L442 890L486 864L381 957L337 956L475 872L396 914L406 885L352 989L397 920L506 851L451 915L532 820L537 828L397 875L575 747L515 765L464 945L312 992L490 818L477 860L432 921L512 831L438 876L575 741L414 874L357 942L406 962L384 914L432 883L475 834L406 918L395 953L594 749L494 814L488 809L458 847L309 975L539 828L490 852L392 894L415 941L432 881L377 958L439 918L383 924L339 908L583 780L436 886L524 774L450 869L349 949L508 842L467 894L463 845L528 774L482 860L563 747L529 833L583 773L468 854L447 914L413 878L457 831L324 998L464 906L390 870L527 748L506 844L474 842L438 850L369 976L380 927L434 947L379 961L451 842L495 845L355 964L459 875L480 875L421 884L377 954L464 845L527 823L550 747L471 875L390 903L544 743L365 971L477 833L455 821L556 753L447 865L581 788L380 925L556 739L383 930L535 762L360 995L461 893L400 938L456 898L430 881L394 901L394 953L292 1005L432 865L512 833L435 881L370 955L308 1003L383 941L453 868L426 885L469 875L335 974L541 747L356 937L519 840L355 955L464 861L443 846L377 894L432 833L417 921L388 889L405 977L386 921L563 800L370 989L486 826L353 952L363 977L543 761L557 805L539 817L347 925L449 878L385 945L390 916L572 744L382 900L503 852L374 941L439 892L342 960L368 984L444 864L441 888L314 966L334 971L390 936L325 988L399 900L451 851L519 785L440 830L352 954L382 880L412 892L412 915L419 942L406 872L507 797L480 860L377 907L394 946L352 922L570 795L356 902L448 923L392 962L463 876L466 849L528 837L456 848L432 871L440 887L473 834L360 999L420 863L566 805L463 857L460 865L449 893L479 806L328 979L458 868L523 830L447 879L576 790L398 915L504 792L422 879L323 965L405 924L473 838L442 851L360 973L452 898L552 754L405 920L420 885L435 893L410 899L537 762L408 874L394 888L324 1035L403 894L476 832L514 855L412 960L453 849L379 999L490 873L595 767L403 926L479 829L491 807L460 858L397 925L398 891L441 864L441 905L465 862L491 813L406 934L392 945L463 865L397 936L432 899L299 1020L587 740L430 838L373 935L318 1022L438 859L450 909L337 995L594 747L436 934L587 763L385 942L484 853L277 1008L458 837L580 746L476 884L507 853L410 937L404 903L462 851L530 823L428 920L466 863L588 775L457 879L489 865L551 752L390 916L518 832L361 948L464 837L381 876L446 866L451 852L464 837L499 806L531 840L484 894L371 942L582 780L306 1009L338 924L395 957L449 835L422 921L381 914L449 856L454 938L360 961L498 842L436 832L387 920L450 840L489 818L399 923L507 792L407 928L432 877L406 888L443 842L427 859L351 905L340 947L453 904L379 922L407 887L590 759L459 889L367 938L566 802L464 839L339 928L378 961L306 994L457 855L509 855L370 930L399 901L587 739L573 788L404 929L441 932L422 902L556 754L447 917L515 786L521 829L446 888L315 986L317 1001L343 1034L461 878L571 808L314 988L429 918L420 874L422 905L498 799L497 796L504 800L451 876L525 766L490 867L467 832L352 939L464 851L532 769L356 968L464 818L570 792L343 942L382 921L371 947L510 834L551 813L392 918L593 759L408 855L601 758L417 946L576 747L409 934L592 756L401 932L592 760L464 859L402 893L433 876L478 833L474 859L581 782L373 923L445 870L303 1007L390 919L459 855L571 791L348 894L546 812L414 909L467 879L466 881L441 855L445 897L368 966L407 907L467 866L450 862L485 819L487 804L378 874L414 921L428 909L412 865L307 1016L370 942L428 885L438 892L498 805L499 799L479 875L435 872L355 974L358 996L470 889L418 875L359 915L365 925L466 867L320 948L519 853L454 869L460 880L567 747L497 800L403 937L407 893L374 924L583 785L404 927L285 1011L473 877L336 976L338 931L473 840L454 882L383 926L486 821L389 945L351 997L590 768L435 861L346 936L398 940L437 909L493 806L358 934L289 994L542 747L405 876L314 971L272 983L476 854L480 818L441 852L437 880L567 793L441 860L475 878L317 976L427 891L485 860L411 885L391 916L440 908L436 834L461 851L358 978L420 893L566 792L524 834L462 853L345 956L256 1003L438 868L341 910L483 859L359 935L371 950L510 792L480 856L522 836L377 956L446 867L489 822L461 873L554 750L446 882L298 983L470 857L388 953L524 769L391 996L386 934L558 754L469 859L454 861L284 1061L560 749L383 949L485 872L554 806L468 861L458 855L577 787L449 831L592 752L313 1006L393 948L424 911L446 843L401 909L565 797L504 879L366 1014L438 850L450 856L405 924L424 925L559 803L392 889L582 774L489 871L338 944L397 946L268 996L375 1012L354 957L431 906L518 782L424 910L441 829L473 834L257 992L559 813L466 861L555 753L492 859L502 792L325 944L454 853L584 742L433 844L574 747L588 742L530 765L538 826L579 778L459 863L527 775L450 858L524 824L556 805L425 901L500 866L528 776L591 758L410 927L523 779L437 907L434 909L330 994L584 744L487 871L349 968L576 788L445 886L315 1053L524 828L444 874L559 746L408 881L464 866L533 770L396 984L359 981L594 741L464 899L418 905L376 959L445 853L443 915L461 844L495 862L320 981L397 945L429 882L473 867L540 816L381 958L410 967L416 876L349 928L386 902L391 900L526 829L401 974L341 1008L454 914L455 835L488 821L357 960L358 928L467 857L545 818L432 877L377 923L311 970L489 813L411 908L456 897L526 822L414 901L392 913L438 869L453 868L462 885L444 860L318 970L408 948L423 895L512 787L395 943L600 747L446 868L370 919L310 1005L529 770L443 902L501 802L506 798L398 905L394 909L549 760L364 959L379 897L447 857L546 752L431 908L467 907L496 868L384 997L351 982L488 851L511 834L526 765L454 865L494 799L510 840L469 884L299 998L278 998L357 954L428 927L479 793L385 928L373 925L478 826L317 979L350 946L280 991L401 906L417 920L399 881L469 845L400 936L406 879L450 879L362 979L405 884L465 838L298 1039L405 922L477 899L456 817L540 765L391 944L378 975L459 860L357 995L475 859L580 778L457 853L403 893L507 789L403 921L424 883L294 984L550 751L590 763L387 910L577 780L482 871L418 903L401 869L389 944L445 837L495 803L476 876L421 869L286 1039L530 773L340 972L463 876L446 848L309 989L438 883L453 834L408 903L495 811L387 907L389 955L369 958L357 957L439 878L402 896L362 993L539 818L478 830L398 920L390 913L484 827L326 923L556 806L412 854L461 854L392 938L397 917L482 860L341 990L540 820L443 859L551 809L542 815L414 831L404 883L364 909L538 822L576 741L480 883L430 897L417 860L510 786L551 751L443 842L491 858L290 986L441 898L394 947L457 875L373 888L486 887L418 886L353 997L460 893L324 944L477 829L484 864L359 930L379 950L399 846L424 899L312 943L397 961L355 953L424 861L473 862L367 936L594 752L394 873L360 996L371 926L391 940L438 910L581 782L444 829L500 859L567 745L525 772L531 766L491 873L556 804L544 761L440 883L353 1001L402 915L440 836L369 935L406 895L460 831L445 879L429 891L373 985L443 903L516 838L437 909L548 753L458 861L406 903L352 988L524 779L596 747L454 847L479 828L464 860L423 831L307 980L568 792L390 889L274 1061L512 795L373 983L398 921L368 970L420 955L498 811L462 872L457 886L508 835L439 866L413 919L591 760L366 1006L449 880L471 838L373 949L430 871L462 876L403 927L414 895L370 910L443 870L432 940L364 939L460 834L403 917L367 892L434 880L489 820L512 784L453 859L454 871L492 789L423 860L339 1012L478 859L322 936L506 835L396 929L346 936L425 912L430 868L503 790L303 1009L336 968L448 820L391 911L430 953L565 748L480 860L414 918L423 894L331 978L546 814L479 809L408 954L400 920L503 852L475 836L415 905L578 791L555 804L433 851L357 906L583 777L379 928L353 969L406 882L505 797L382 941L481 852L403 922L448 904L455 857L357 968L389 882L357 940L509 793L390 996L317 1022L527 833L469 841L491 813L482 810L413 845L430 907L436 856L438 901L392 951L367 926L398 875L589 760L432 915L562 817L464 849L392 897L453 830L484 800L357 939L361 966L451 890L403 933L437 875L536 758L585 744L470 878L471 863L547 819L500 842L411 869L413 872L484 867L479 862L365 954L416 888L455 849L556 808L587 772L466 875L491 851L599 749L458 884L349 980L436 863L379 945L454 859L471 857L512 849L354 923L424 895L344 1015L311 946L393 866L518 829L342 881L435 906L452 854L332 955L478 882L424 895L581 744L478 835L377 939L317 1033L317 1006L465 826L485 870L382 948L561 751L340 968L478 826L386 933L562 746L538 818L553 807L324 991L325 933L459 836L427 905L340 944L388 902L484 815L406 912L450 878L553 807L380 934L443 852L452 949L394 946L347 993L402 907L428 916L460 851L332 1025L419 885L407 910L514 832L334 957L336 988L403 986L363 912L382 934L329 1002L460 859L487 849L497 800L522 781L406 869L441 814L328 980L415 916L317 944L499 809L548 755L530 767L335 948L411 976L455 836L403 884L333 977L367 949L345 986L289 979L455 859L506 850L443 894L471 812L403 910L425 891L430 920L423 889L357 989L421 912L484 815L398 865L376 947L490 801L445 878L360 936L335 952L412 901L435 903L487 851L437 847L475 801L401 907L276 1045L451 895L455 886L503 861L421 894L415 849L359 930L386 922L364 943L431 909L462 847L578 742L350 993L379 939L375 912L411 935L454 857L469 863L413 895L564 797L429 919L574 746L430 900L427 905L319 996L577 743L400 903L500 794L499 840L357 970L432 901L358 983L476 809L438 868L384 917L480 809L383 977L437 872L554 816L316 984L535 763L431 896L465 824L384 893L364 956L432 886L424 955L466 877L449 895L329 953L372 928L373 899L410 893L426 925L555 753L512 851L422 868L446 876L344 946L349 974L379 905L431 867L331 948L495 809L558 803L493 846L512 856L423 960L398 894L458 871L526 778L539 764L553 808L404 878L442 881L591 763L488 823L389 939L497 844L513 831L461 917L417 883L466 842L349 979L592 747L464 853L353 896L494 843L588 763L364 915L335 983L454 900L402 938L431 941L408 884L585 745L577 786L385 949L304 974L461 888L426 905L500 860L465 843L451 855L500 862L389 926L544 755L394 897L386 927L333 981L336 971L454 832L423 906L434 891L283 1015L375 941L459 815L563 750L387 941L464 851L542 818L435 867L448 892L447 844L351 974L437 863L458 877L470 839L366 918L407 878L492 818L582 744L498 844L455 902L364 930L486 850L407 882L421 859L582 777L442 874L478 879L485 862L384 939L568 802L349 959L382 925L307 965L379 959L401 861L366 903L449 876L374 948L466 873L436 885L560 805L458 821L469 863L430 885L396 880L339 934L566 809L411 935L384 905L363 940L308 987L402 894L464 831L530 768L457 849L522 767L346 929L513 777L441 838L459 842L393 900L473 833L561 751L501 841L592 738L403 936L502 848L573 740L446 875L439 844L421 879L526 824L402 901L315 975L356 1004L389 927L502 839L448 835L367 922L421 859L503 802L462 894L406 924L526 828L431 932L419 865L445 870L442 894L504 836L438 902L300 926L418 830L405 876L516 838L427 898L432 850L368 887L424 879L377 926L452 867L405 921L429 869L408 905L593 754L422 870L339 996L487 884L366 958L545 813L533 771L463 797L591 756L438 923L459 840L460 868L412 913L439 855L317 991L518 829L325 968L462 866L410 908L464 869L379 981L389 934L288 1012L446 867L378 908L452 871L415 885L375 923L539 822L581 780L481 875L586 768L435 933L448 860L331 988L452 875L487 863L463 879L386 935L465 885L387 939L511 833L323 1003L546 818L417 875L472 843L563 746L583 745L413 903L419 907L491 811L385 933L464 830L369 921L523 766L403 929L379 912L345 955L420 920L373 898L323 957L389 945L455 831L358 899L546 811L446 874L467 885L528 821L540 764L578 780L333 944L540 820L322 991L410 900L470 861L410 944L359 935L281 1021L486 797L395 951L324 952L517 779L544 820L592 768L431 868L378 911L377 977L456 834L533 769L463 846L486 873L398 880L428 886L461 903L388 906L407 879L562 807L443 955L327 973L297 956L285 928L475 863L442 856L445 903L455 870L560 802L303 978L496 794L311 1023L418 902L296 997L517 835L333 957L423 885L481 833L448 819L481 824L451 895L495 843L456 889L502 838L422 887L409 926L560 750L360 923L408 882L424 936L353 943L430 889L510 780L374 953L539 832L353 954L387 922L310 971L405 903L407 882L399 937L463 851L443 899L524 777L558 754L461 823L511 785L419 975L428 858L446 872L586 773L501 793L418 894L317 946L429 931L499 849L365 977L402 917L491 846L382 923L446 865L566 742L346 915L492 871L467 867L369 930L367 985L448 898L564 750L461 851L385 929L519 776L374 889L331 991L486 854L556 755L435 900L463 865L562 806L472 838L485 826L423 891L413 910L379 939L529 821L543 818L445 894L347 952L449 877L399 915L430 868L440 848L568 749L406 899L430 873L450 852L351 943L368 913L456 838L468 865L363 963L520 862L467 850L359 958L382 887L368 955L560 798L407 884L366 915L464 859L428 891L420 900L367 935L406 920L364 894L424 928L489 846L398 945L539 820L395 905L451 855L366 947L400 878L387 898L468 845L444 875L445 814L432 936L441 877L529 772L387 912L424 907L479 815L315 992L555 815L493 807L231 999L316 972L409 886L425 884L421 880L466 848L527 773L344 990L454 864L411 904L372 985L417 901L449 874L561 807L422 903L417 889L466 875L368 911L370 894L500 800L358 956L305 1043L592 751L373 1002L475 814L390 933L571 741L309 1020L415 907L371 928L447 889L445 887L360 944L339 973L493 812L332 966L493 810L459 872L484 860L439 915L322 1019L312 930L483 865L396 967L417 918L321 955L453 846L509 862L565 749L369 900L453 870L561 748L497 845L334 938L415 877L358 921L395 944L400 916L455 832L481 819L538 764L423 924L419 908L311 998L402 917L452 876L428 846L503 842L420 916L390 950L562 797L295 1071L503 840L464 869L354 980L404 879L582 786L477 887L532 823L281 999L318 1022L378 909L480 869L473 842L561 797L407 974L370 930L500 851L579 743L302 971L379 939L452 877L439 893L485 821L448 931L501 796L470 898L362 951L371 913L533 822L557 803L453 854L365 919L571 798L303 977L356 976L319 944L351 980L372 966L378 929L432 870L445 866L383 919L295 1017L504 859L398 901L505 837L387 902L503 866L370 934L488 890L434 899L424 915L413 927L457 888L334 984L424 878L327 974L418 899L587 738L417 887L473 860L429 864L573 788L422 917L309 974L436 883L511 795L495 848L451 903L453 850L486 879L334 1012L449 872L578 743L396 900L426 910L458 831L366 942L324 1069L262 1068L461 857L371 952L524 776L534 821L528 769L327 986L526 829L397 935L495 854L491 794L386 981L458 859L480 856L589 738L451 824L534 835L448 886L395 926L387 924L436 873L520 829L403 878L387 911L307 986L443 891L452 835L367 935L323 981L298 1027L459 871L433 881L381 933L464 863L569 791L455 858L530 770L477 808L312 999L456 858L562 800L548 758L465 865L562 750L572 803L535 833L360 957L418 911L537 759L354 846L462 863L332 986L414 887L519 853L421 904L589 743L502 869L291 1028L420 948L514 784L398 889L543 753L372 952L445 875L412 926L450 851L485 853L452 857L460 877L376 943L333 947L490 813L393 861L412 888L287 1029L448 920L460 909L321 983L433 863L433 878L431 827L480 871L307 964L315 951L399 917L467 866L527 821L413 855L403 920L412 908L574 798L329 956L426 922L377 956L421 882L380 938L495 879L477 830L589 745L332 988L325 966L586 769L382 881L399 918L273 1054L276 999L432 908L504 844L320 976L417 884L441 872L463 848L440 859L427 875L491 809L272 1001L422 885L562 751L307 990L408 843L463 863L445 894L567 795L339 957L459 896L376 986L324 934L344 956L453 839L393 917L546 809L390 932L537 816L437 869L451 848L449 858L259 1044L443 908L496 852L472 838L354 945L440 892L591 757L477 807L433 887L522 835L458 849L286 1048L534 817L489 885L482 830L491 856L406 942L468 867L413 868L411 830L378 948L547 812L448 925L503 854L523 770L555 804L472 820L451 886L569 798L445 903L347 1024L458 837L323 975L347 922L431 867L541 814L400 927L388 907L418 891L390 890L322 988L348 939L480 834L446 878L429 936L536 814L462 827L459 873L408 910L455 857L412 950L332 958L337 996L486 867L584 778L421 954L476 832L561 806L466 853L443 848L400 902L414 847L358 987L420 897L442 870L412 935L529 772L466 841L421 885L563 749L391 915L439 870L362 889L416 934L434 896L390 950L463 852L320 956L462 884L428 864L462 883L495 849L445 887L369 938L402 930L548 816L428 918L418 965L360 956L341 1031L442 893L477 809L430 867L373 946L304 1016L478 827L337 949L404 869L397 885L358 972L549 818L400 935L490 811L448 888L504 856L322 993L394 949L483 878L412 883L394 975L472 858L429 895L323 971L406 930L515 783L334 971L443 868L468 861L389 866L514 831L395 897L554 744L552 804L472 882L513 835L385 953L454 855L440 873L374 908L391 937L370 955L503 845L395 937L552 806L432 892L486 850L378 932L551 817L494 869L461 853L299 958L471 855L457 846L349 960L419 876L592 759L353 941L500 842L556 748L547 820L323 964L418 848L449 903L572 794L389 891L399 966L427 879L454 880L516 777L477 827L315 975L565 807L439 897L319 971L577 782L416 953L503 800L505 801L514 781L487 857L439 869L553 755L393 925L560 742L421 896L436 929L325 975L453 830L397 914L413 900L483 823L517 840L363 1007L349 975L349 935L590 770L363 957L438 839L394 932L382 951L575 742L375 920L465 858L382 977L361 944L422 915L490 857L430 851L316 975L435 890L278 994L344 913L382 899L417 926L449 883L435 834L412 923L471 858L424 869L425 857L399 877L444 843L432 908L570 796L477 874L411 894L426 871L380 906L548 808L469 868L433 878L552 754L461 896L454 845L524 773L482 863L315 1013L437 871L574 784L472 842L458 847L331 935L451 864L365 992L447 914L363 969L438 894L449 846L464 839L414 897L447 887L548 760L418 898L407 899L512 842L423 878L477 879L488 813L510 775L399 885L331 992L402 913L458 804L455 885L503 848L445 884L306 1018L286 1050L327 1000L477 809L378 971L361 938L452 897L436 868L469 844L570 748L355 934L413 902L485 851L408 943L390 878L351 963L511 855L528 823L262 1024L369 915L545 814L458 867L388 916L431 906L515 784L423 895L371 957L535 815L591 752L384 897L343 935L428 909L441 888L434 895L472 871L400 919L454 899L428 815L497 799L415 891L380 962L437 887L396 948L450 881L415 946L436 867L454 873L510 786L446 903L390 900L585 744L339 962L564 806L542 752L442 882L486 868L434 905L542 759L403 876L555 801L504 795L462 852L541 762L433 903L553 804L415 898L552 815L407 887L396 934L392 906L426 897L447 885L460 883L520 873L334 990L458 848L561 802L383 984L591 769L507 853L445 836L542 757L445 890L476 874L404 914L364 908L452 874L334 1007L371 931L452 885L475 819L453 853L510 860L433 849L398 886L264 1066L316 1007L505 851L445 828L336 981L352 984L462 882L479 859L533 771L515 834L468 861L429 894L341 964L466 844L485 853L521 845L465 912L339 970L375 919L467 901L567 799L450 911L277 1012L391 933L512 791L406 894L557 806L428 876L358 952L388 880L356 956L561 748L518 832L403 915L395 904L420 926L342 929L393 936L449 849L346 1032L561 748L313 977L452 852L572 788L490 870L497 839L472 842L399 944L373 887L452 921L412 899L506 776L345 991L342 977L438 866L475 853L444 900L433 902L438 852L469 845L582 743L368 937L419 852L356 927L387 962L475 855L592 761L350 956L389 909L417 893L420 870L579 781L447 897L385 870L302 995L355 937L317 994L414 922L423 903L549 807L519 837L577 780L563 751L553 815L544 816L487 854L421 887L429 915L497 844L403 902L432 930L469 867L556 747L390 917L460 891L450 833L434 892L404 937L573 788L475 825L286 1012L436 910L561 811L316 989L371 925L344 936L472 822L421 882L354 945L373 926L404 886L457 868L476 823L470 836L456 899L424 871L489 858L453 885L427 888L399 877L525 773L524 777L399 898L478 832L502 852L508 874L587 781L360 944L277 1018L414 859L369 941L549 807L452 879L547 819L424 835L520 829L495 844L518 829L448 861L386 1012L446 900L373 923L408 881L390 990L303 996L413 877L563 741L563 802L389 941L461 886L533 768L577 780L427 897L456 853L517 774L482 879L371 955L484 863L455 897L426 872L434 873L437 894L559 802L471 860L453 838L446 899L475 878L388 926L364 901L399 883L365 882L432 874L468 859L268 1057L412 929L385 917L474 822L441 880L512 842L497 809L326 959L588 741L465 866L423 880L444 844L425 887L387 889L339 994L597 760L521 783L439 934L392 925L335 982L475 824L454 871L544 762L452 843L521 830L470 887L473 857L441 863L441 887L444 862L547 754L436 878L468 826L347 944L502 857L473 858L345 948L355 951L565 747L420 898L456 850L453 881L500 801L340 1008L330 965L390 949L466 845L339 968L336 880L432 923L396 967L444 873L449 875L361 954L428 898L491 813L392 900L447 880L360 922L581 779L439 889L399 907L585 742L507 803L408 931L542 756L310 963L321 1015L399 915L444 849L503 778L586 766L423 863L343 981L336 1004L453 876L471 810L311 1034L540 764L447 876L413 918L378 919L477 832L510 834L479 819L377 954L519 785L423 906L483 810L434 867L484 867L398 952L523 779L427 902L394 909L383 905L367 974L472 863L430 934L449 887L535 767L592 742L492 871L373 941L495 864L325 963L427 918L485 808L581 780L527 822L389 932L426 897L330 943L554 749L426 882L545 821L349 990L591 742L488 817L520 779L361 951L365 922L385 938L558 805L457 883L460 848L561 800L382 898L516 831L562 752L588 776L576 786L474 857L396 934L366 929L461 835L558 811L540 820L402 924L485 822L470 848L561 805L590 756L424 880L461 827L472 841L377 917L281 1052L380 935L421 905L498 805L315 931L397 944L398 924L582 740L591 745L481 830L370 917L399 884L457 893L506 845L475 857L392 928L509 784L483 858L364 978L552 804L549 756L545 819L446 868L397 903L414 915L444 849L472 897L486 870L428 951L365 927L558 804L464 840L430 894L585 768L443 864L524 831L419 954L435 836L426 901L575 786L588 781L550 810L303 972L361 941L431 849L428 911L293 1051L552 748L398 936L328 964L495 859L371 959L585 771L433 940L397 945L443 843L475 817L453 885L483 830L375 953L370 947L454 861L467 845L320 981L456 835L419 911L360 964L395 892L529 770L319 1014L468 863L485 860L345 901L324 968L588 741L478 832L472 858L488 862L506 856L508 874L458 903L392 939L528 774L478 816L426 917L328 939L597 754L556 824L291 1051L402 912L460 828L416 889L434 895L383 975L348 963L365 896L575 805L433 853L491 816L455 905L502 803L376 918L520 774L340 977L510 793L436 882L384 899L419 939L466 843L449 936L412 924L481 864L443 866L388 940L314 964L385 910L590 764L374 945L420 874L513 781L383 898L496 805L437 866L449 914L459 894L498 851L350 943L434 922L440 902L485 824L506 786L570 798L580 776L530 825L453 889L379 909L356 915L455 830L411 870L405 920L421 856L339 995L438 848L546 814L363 937L415 930L420 870L388 910L475 866L395 910L467 868L428 900L425 882L401 892L356 935L491 869L537 827L343 962L555 748L528 827L505 837L442 883L436 900L391 887L591 742L411 853L439 853L390 927L322 1050L376 912L450 867L334 1029L446 831L416 928L498 807L299 984L452 860L400 920L348 966L310 1059L459 852L434 888L397 911L482 858L423 924L345 939L562 749L493 856L579 785L558 803L491 846L357 936L428 874L353 941L439 862L415 941L433 885L414 875L325 994L516 783L399 929L506 788L470 868L369 936L384 920L419 877L368 930L288 1041L395 894L475 827L317 1026L590 769L399 891L410 907L472 854L552 750L476 839L504 840L358 909L399 908L331 983L427 841L507 840L345 948L477 871L450 844L486 805L333 919L456 893L440 893L473 835L375 954L498 777L550 759L382 936L349 981L541 763L574 786L410 892L399 966L327 992L384 942L534 820L580 743L405 908L473 866L357 936L414 929L407 936L427 919L442 915L436 853L581 783L295 1004L436 890L470 880L383 984L408 948L460 842L549 829L444 899L498 846L387 903L568 793L530 822L546 819L423 876L506 802L383 981L388 895L501 872L345 953L354 996L551 809L440 892L394 890L363 925L447 889L363 901L465 851L370 1013L449 878L532 765L330 970L358 990L433 904L422 878L467 840L407 883L457 864L417 893L478 874L364 939L395 908L575 745L466 915L466 861L431 876L404 930L370 960L362 989L367 967L406 895L284 982L426 854L307 1038L400 924L554 805L439 869L460 848L540 874L392 943L395 954L431 904L352 969L373 933L466 854L451 865L428 913L464 874L593 757L435 922L556 805L425 948L305 1018L353 931L470 831L438 861L343 906L401 917L305 1051L284 954L538 767L491 816L585 739L391 960L459 880L578 796L446 846L466 819L393 942L498 810L544 818L420 897L445 868L355 1000L562 798L434 889L496 849L415 918L343 976L399 885L417 924L399 873L299 987L402 890L409 895L441 909L403 898L416 901L429 864L321 954L417 922L487 857L521 826L479 859L447 876L421 920L306 1009L426 895L358 907L504 842L398 923L311 985L384 897L456 858L504 841L414 921L470 858L407 934L470 823L541 818L406 941L430 905L587 765L570 789L378 893L389 901L409 856L366 945L386 927L494 862L336 1028L595 752L306 978L280 1061L359 907L395 939L527 771L487 866L385 942L505 798L354 992L429 897L357 931L378 937L473 862L357 950L390 911L486 872L506 854L409 894L361 980L492 788L478 879L274 1062L499 841L566 808L409 933L305 1042L442 845L375 947L450 910L583 775L473 837L324 928L416 893L470 836L331 1031L427 862L417 913L431 924L477 820L455 875L448 853L512 829L393 881L342 958L484 872L380 932L405 944L467 901L512 787L371 900L392 945L527 820L422 913L366 921L483 810L541 763L559 799L580 742L461 825L354 949L455 894L344 950L453 873L496 850L584 771L541 756L513 780L440 880L521 780L461 886L463 835L451 896L484 811L326 1033L458 861L529 829L256 1053L498 849L515 829L420 911L468 833L587 765L377 896L365 996L479 882L300 951L344 954L479 857L363 938L417 896L462 838L381 940L522 774L538 762L419 914L370 911L430 901L542 757L344 1015L572 744L483 856L508 843L322 961L495 857L489 790L333 931L461 831L351 969L512 833L406 896L461 864L567 738L422 876L384 958L394 922L432 874L323 958L589 762L592 750L318 978L569 792L418 900L469 916L583 797L415 899L293 1055L413 923L373 937L372 940L341 972L420 852L577 738L440 862L447 808L433 852L569 795L475 865L485 856L355 934L400 890L501 851L399 916L309 991L345 937L241 1060L319 1005L399 908L384 882L328 967L388 918L408 946L558 803L435 872L564 748L523 827L423 921L380 895L525 761L355 955L444 856L309 1015L460 899L400 930L438 906L483 825L376 927L358 947L393 946L440 884L418 872L509 777L454 867L589 745L488 861L495 846L388 905L584 743L443 885L373 964L595 746L340 924L467 868L361 971L434 882L550 805L459 878L357 945L521 782L366 913L386 912L479 830L430 876L405 907L370 938L353 904L503 846L425 925L532 825L440 851L381 944L387 911L404 894L500 787L464 879L378 944L488 847L445 887L408 919L437 869L464 892L377 927L434 878L395 892L421 857L524 779L373 909L431 879L306 924L398 891L460 833L342 966L428 910L367 982L440 880L462 883L591 754L362 943L405 902L389 949L471 832L399 917L517 832L394 901L479 891L430 895L400 927L294 988L434 876L339 975L410 837L395 848L398 889L339 953L503 847L417 921L293 1019L314 964L368 1009L564 749L536 819L557 743L422 895L313 971L490 879L542 821L383 967L304 1005L344 936L429 875L551 759L315 1040L279 978L564 796L438 842L466 812L469 850L313 949L382 931L573 796L530 761L415 921L342 934L394 879L372 876L462 847L457 851L417 883L458 879L386 919L377 904L558 754L475 836L467 877L547 749L413 903L523 777L404 882L461 869L549 752L563 747L412 958L464 850L387 925L384 894L553 754L307 1053L379 883L487 849L390 907L416 891L336 930L534 769L470 861L551 816L346 986L528 766L488 869L332 972L524 829L468 848L463 895L495 815L322 990L513 840L507 843L589 740L347 991L379 893L561 749L539 824L318 961L387 939L553 811L397 910L396 924L414 892L510 791L538 763L433 897L389 946L336 981L442 821L375 953L359 965L531 826L481 807L417 910L461 833L355 977L457 834L521 828L478 864L573 787L408 911L555 750L499 795L369 977L565 801L441 892L476 836L367 932L591 759L344 998L434 887L356 973L452 827L429 908L395 893L526 776L552 806L363 949L477 857L340 908L553 754L539 818L380 960L471 795L377 987L434 885L370 891L590 760L541 760L439 865L444 883L366 951L441 871L513 789L462 847L532 768L450 900L430 877L342 951L467 900L478 860L498 847L400 898L431 916L443 976L343 951L557 755L356 963L411 902L430 892L401 949L430 874L422 937L370 928L469 851L361 979L389 895L343 1009L504 847L433 894L578 745L381 905L470 814L369 915L377 901L431 885L531 875L464 858L473 855L301 996L525 772L458 834L556 743L432 897L450 819L424 880L448 886L506 792L391 907L476 829L428 939L457 823L415 896L317 1040L405 923L314 1024L346 992L445 870L451 847L514 793L382 941L456 878L592 749L397 899L359 921L460 860L576 784L386 891L523 827L547 813L504 803L592 748L570 797L432 894L414 924L563 748L385 899L461 834L446 885L555 754L358 917L375 947L411 905L409 904L501 843L537 765L424 905L448 919L402 870L403 886L422 910L387 942L383 956L475 854L312 1008L414 894L377 914L389 930L449 868L441 914L550 807L401 925L426 920L451 837L564 750L516 832L467 843L573 745L453 862L503 802L414 891L457 890L533 830L499 809L492 797L466 845L460 893L585 739L423 869L391 890L581 791L489 855L336 991L465 838L290 1015L585 768L414 921L459 806L488 855L432 928L431 883L361 911L394 892L509 771L441 848L508 797L510 781L415 894L513 794L374 933L593 748L586 740L468 840L394 887L594 776L483 850L435 873L426 880L382 913L473 817L422 883L377 966L404 947L496 855L450 893L438 886L356 981L593 756L485 848L590 745L472 873L347 954L474 870L592 754L512 858L418 958L303 972L594 751L389 918L550 757L463 852L579 785L479 824L506 840L437 890L493 856L536 836L411 963L411 922L409 894L466 837L542 763L334 1023L530 824L436 868L529 831L465 805L461 837L552 811L478 852L463 857L508 783L452 866L487 872L468 834L338 1001L435 886L461 875L409 950L419 866L493 817L471 878L408 920L558 747L352 935L507 842L515 842L465 851L466 879L558 748L381 901L479 858L590 766L364 957L479 861L505 794L440 904L538 757L450 871L398 909L462 850L390 930L577 783L485 856L541 815L498 853L411 850L578 783L366 973L549 806L364 905L318 981L354 984L501 843L296 985L349 1020L475 824L492 847L447 853L372 929L333 981L354 952L476 881L438 852L354 905L554 804L366 928L373 900L362 969L426 930L382 913L463 845L445 904L517 788L415 934L403 890L457 857L480 854L490 818L447 874L449 898L373 949L300 989L515 844L449 868L584 774L462 872L465 869L559 803L406 916L396 884L554 743L499 849L392 901L414 919L345 1000L501 800L521 833L405 899L392 934L488 811L411 914L497 810L322 951L458 845L370 958L467 840L383 938L406 901L327 952L468 862L461 838L474 867L454 860L434 873L528 776L591 764L418 861L417 906L390 860L434 872L451 834L400 913L406 913L430 880L402 880L350 959L404 905L464 852L540 815L422 902L310 1007L451 856L448 879L457 831L598 779L576 790L406 893L416 922L420 929L324 1047L432 857L461 889L501 800L448 888L410 908L345 960L462 851L467 815L427 851L507 841L431 881L534 818L438 910L466 839L526 822L477 898L409 908L364 945L511 835L496 805L484 859L430 912L488 809L357 922L467 848L401 984L356 939L358 948L390 943L278 1041L401 945L552 805L292 999L439 902L358 923L453 852L506 839L439 881L487 810L384 910L496 887L431 886L472 873L407 917L390 893L552 807L406 863L535 816L428 848L404 878L568 802L478 874L528 829L514 834L306 1026L520 780L546 759L441 891L408 904L474 862L403 901L392 899L559 751L342 942L500 808L425 906L476 894L395 953L421 900L485 807L501 848L427 885L467 818L424 892L355 945L539 816L512 848L344 1057L520 838L456 858L461 850L462 843L491 895L338 946L406 951L400 910L509 798L360 917L409 905L513 791L472 860L553 754L391 956L331 942L456 843L435 891L524 825L524 778L442 842L451 821L344 1003L453 859L364 950L468 860L415 869L449 857L452 859L326 953L413 932L329 934L495 804L483 908L500 786L421 868L469 777L478 918L602 742L481 807L308 970L455 857L365 977L444 836L556 756L507 797L444 862L396 956L390 951L346 965L501 799L460 859L380 897L440 883L369 881L349 954L555 804L480 869L488 813L360 988L383 858L411 863L421 914L366 920L466 870L482 818L303 1003L273 973L510 846L407 901L511 837L488 813L481 827L583 745L420 925L472 829L436 884L409 902L405 947L486 818L316 935L502 795L435 866L398 913L475 874L472 898L592 756L461 888L454 871L593 767L437 876L320 971L476 812L480 826L370 916L449 890L248 1029L431 900L386 945L392 956L480 830L363 940L534 824L537 764L393 935L523 779L418 923L484 850L559 801L334 963L400 947L455 890L456 823L397 938L365 978L493 808L498 856L568 745L291 993L333 959L393 935L445 889L350 958L473 863L371 883L441 887L466 873L490 809L484 825L487 812L433 875L410 891L427 900L448 859L459 854L424 895L425 891L335 1026L466 847L392 857L427 846L412 960L519 750L416 882L363 933L335 958L454 879L443 866L480 810L459 854L308 1008L485 858L590 745L584 776L458 820L310 933L451 826L431 884L438 910L419 881L380 914L434 870L426 880L521 828L589 774L374 939L447 865L492 855L569 749L401 873L527 823L462 800L341 934L289 995L581 737L442 871L548 807L464 879L346 933L451 884L455 870L594 746L356 926L479 876L365 945L568 747L343 1008L423 886L411 890L433 907L365 931L400 915L594 751L488 812L373 954L420 907L377 980L453 901L515 833L379 881L333 1023L430 913L354 957L348 936L428 890L453 889L310 951L473 834L433 866L593 767L357 947L347 1002L493 848L441 908L304 1040L495 799L517 830L446 877L470 873L310 1015L486 802L377 922L422 894L495 859L468 828L475 818L405 942L536 764L511 784L432 887L522 773L458 858L469 864L491 859L593 755L448 887L361 972L363 965L341 989L558 804L454 884L515 839L360 949L391 893L418 924L445 846L418 907L346 1021L442 835L399 900L485 819L426 898L429 880L336 970L415 921L373 901L522 839L590 769L567 793L516 785L360 966L505 839L402 922L557 801L299 985L442 902L282 1014L382 967L471 842L401 938L415 905L490 817L355 928L450 926L435 865L416 876L443 857L433 848L402 891L574 786L495 805L311 1019L406 909L437 866L392 909L355 936L376 967L560 750L553 806L448 852L381 927L463 872L537 826L387 971L292 1005L347 928L499 810L354 916L342 1014L465 875L382 869L462 885L407 941L375 921L579 778L459 843L435 849L499 803L397 903L459 836L452 818L411 900L429 903L425 851L448 952L363 921L529 774L410 876L414 908L360 917L400 868L357 930L380 951L492 804L376 927L591 745L371 910L391 965L467 861L487 812L414 906L586 739L462 860L437 901L526 827L385 908L344 937L462 860L365 938L474 912L402 896L374 973L461 873L531 768L430 905L408 946L480 823L413 944L400 885L400 901L313 964L379 960L350 986L571 792L366 960L450 844L568 748L473 882L302 1007L424 938L395 919L359 960L556 802L448 859L428 909L450 862L394 944L466 847L347 1050L369 916L517 832L465 863L536 821L469 885L501 803L345 938L553 749L333 978L568 793L464 870L461 875L583 777L572 800L529 824L346 984L460 874L324 1004L372 908L278 1005L582 774L372 963L468 842L351 926L433 899L363 962L322 998L468 835L462 873L492 890L367 911L419 931L386 935L436 873L429 840L412 898L393 933L460 828L481 879L535 826L370 901L350 970L305 1016L396 910L573 745L513 846L430 915L362 950L412 876L342 990L453 887L479 865L444 859L481 875L579 789L336 976L392 921L321 1030L502 858L438 870L461 840L428 892L369 922L415 938L414 908L401 868L436 887L389 916L349 970L408 887L489 863L546 825L495 850L480 851L548 752L403 913L478 819L468 815L370 900L436 867L499 800L428 871L360 965L358 920L480 830L385 913L427 937L324 992L558 805L594 758L458 879L520 829L396 929L547 756L481 877L430 858L397 946L477 860L410 918L391 947L435 884L488 823L440 891L430 891L328 964L537 821L482 815L466 864L384 957L298 987L450 853L425 883L477 832L370 949L417 889L475 839L340 953L346 979L319 976L365 962L393 931L429 861L477 882L265 1037L579 739L497 804L404 859L473 838L315 950L377 895L325 986L423 883L386 931L461 884L475 858L446 885L350 970L478 851L418 870L414 939L497 850L554 809L527 774L500 806L460 879L565 807L429 877L500 809L389 946L560 747L438 874L503 855L419 892L438 915L491 800L394 913L468 833L418 893L382 946L480 830L449 866L424 951L334 1022L576 789L274 988L423 946L451 870L386 954L369 956L363 987L389 896L363 928L282 1022L427 902L461 876L456 896L310 1012L428 928L381 932L458 846L490 792L361 893L463 879L496 805L469 857L567 794L424 933L403 945L596 753L375 927L449 847L360 923L330 934L439 896L523 838L525 771L478 827L395 948L464 845L513 834L411 918L355 927L377 955L484 815L359 963L416 892L512 863L363 963L436 861L409 874L591 748L406 889L580 782L434 894L444 909L553 810L433 881L481 857L451 856L520 839L528 825L479 860L462 827L426 890L411 886L453 873L572 788L406 938L449 891L450 882L395 929L340 966L514 845L370 936L394 904L407 910L575 786L549 806L466 851L515 845L513 782L521 829L373 883L432 903L439 852L448 846L444 865L456 858L550 814L529 829L461 829L459 868L539 822L360 938L491 857L492 798L587 768L498 847L413 899L345 962L384 921L386 943L390 929L437 983L488 849L370 970L456 898L308 988L494 811L413 916L328 947L458 897L503 800L496 812L455 865L449 854L434 885L427 892L323 995L487 798L430 895L397 922L378 890L338 995L432 876L415 919L440 872L524 768L523 781L343 1035L442 894L557 753L456 865L368 925L338 990L585 770L310 1048L448 868L386 925L580 777L424 948L450 854L405 902L391 928L412 874L571 737L380 895L408 929L401 921L447 880L482 851L547 812L338 1002L451 836L373 925L368 902L416 981L481 814L413 921L385 936L462 908L436 883L540 763L393 884L444 858L338 930L525 776L436 918L483 822L388 913L486 895L489 814L491 850L390 943L490 804L367 987L521 846L466 840L459 831L369 910L420 901L449 916L414 883L386 933L596 776L545 743L449 870L460 895L467 841L581 780L533 820L380 911L342 980L477 872L476 854L489 878L406 937L312 973L521 764L556 748L313 987L508 837L407 874L326 990L567 793L465 848L352 967L541 815L330 982L433 900L382 928L364 884L399 944L547 758L447 848L495 807L518 782L334 952L330 998L432 861L440 900L432 870L476 805L465 854L596 752L367 980L480 857L541 818L386 937L378 994L555 816L442 883L396 961L393 929L400 899L353 949L344 971L429 899L562 751L422 876L399 914L354 979L538 825L474 862L458 867L350 965L458 833L338 1000L576 744L371 973L411 948L363 978L415 962L468 884L354 952L506 783L307 997L456 876L423 921L500 864L451 836L496 851L406 884L402 896L452 894L464 830L384 942L456 891L356 977L331 1007L353 969L436 875L387 971L314 1017L442 871L578 783L297 988L399 951L530 769L439 883L490 867L454 878L441 885L571 744L355 967L457 852L380 903L307 1033L420 904L454 843L398 910L333 963L422 845L588 779L537 761L555 808L392 957L369 939L446 855L565 740L527 823L439 890L461 896L514 783L352 955L471 824L429 905L569 749L502 854L352 1028L457 865L465 874L555 805L417 932L506 834L504 836L390 930L398 920L393 956L353 1000L464 859L584 783L365 933L368 943L507 836L575 784L517 774L400 914L363 941L518 782L535 817L466 884L442 889L511 844L395 897L412 908L336 953L396 875L358 986L466 853L441 870L410 936L387 888L468 869L416 845L325 969L395 889L485 815L400 890L526 823L398 912L389 945L547 759L313 1023L585 744L421 912L431 912L391 961L441 817L508 875L357 962L409 936L571 802L317 997L455 873L590 779L460 869L486 822L412 884L376 979L351 967L591 763L442 843L437 885L537 764L384 915L483 879L488 814L461 836L579 746L320 969L511 833L371 932L382 963L491 853L284 1044L514 839L402 922L409 907L425 878L558 747L391 931L486 869L515 790L465 868L374 942L456 857L358 909L377 918L411 902L295 1022L486 819L500 810L314 998L375 957L394 920L388 955L442 856L517 849L390 903L424 866L511 842L382 873L440 882L457 874L421 843L474 876L417 915L480 853L429 876L435 876L375 892L377 944L485 806L347 983L482 853L463 855L352 938L486 818L476 828L587 771L410 914L397 910L474 862L574 792L251 1046L387 952L395 870L407 913L542 826L524 782L417 894L302 977L351 926L331 925L459 841L334 981L382 923L352 958L434 919L477 802L391 966L483 819L439 868L517 827L440 920L372 953L478 826L333 958L467 889L410 899L495 847L492 861L589 764L550 817L486 870L409 888L411 847L440 835L506 838L487 861L529 771L409 899L480 811L548 812L499 848L526 837L454 874L380 903L563 751L465 876L543 813L483 800L591 743L432 879L378 916L468 837L407 877L470 827L591 769L440 858L468 882L305 1016L429 898L457 851L336 964L378 920L425 899L387 934L494 811L578 744L427 881L563 744L514 830L385 926L347 1026L592 765L485 811L586 784L416 855L561 808L373 864L409 936L573 747L400 917L475 826L516 832L554 749L467 885L409 933L577 781L415 932L311 1007L476 863L361 938L359 985L404 905L372 962L536 824L500 845L327 1008L432 866L596 753L331 981L512 834L467 851L509 845L595 761L527 763L554 805L526 840L316 966L559 804L517 778L414 907L444 877L501 800L374 933L290 1038L391 941L445 890L515 831L332 981L367 990L403 911L416 901L518 837L487 797L331 988L450 886L325 981L438 859L559 807L470 840L433 910L360 952L492 805L527 760L455 850L487 816L474 856L589 744L499 877L474 854L412 917L352 998L403 932L460 853L413 916L440 899L384 883L490 858L460 892L497 810L572 804L404 912L419 872L330 906L292 1002L377 952L324 989L394 903L330 1009L476 836L484 859L566 803L330 986L416 907L431 891L449 843L373 961L584 771L466 848L430 877L312 984L473 858L406 925L486 871L443 874L495 809L435 869L445 871L499 805L530 827L439 871L523 751L406 892L349 1022L469 866L478 859L290 1037L445 874L431 871L484 858L359 993L465 822L511 790L592 749L425 899L361 950L416 893L462 856L447 851L482 879L264 1025L478 830L479 826L392 886L521 825L592 742L478 833L494 850L388 946L473 890L297 992L386 962L346 956L490 860L466 885L381 956L506 867L514 835L477 893L463 840L435 867L439 895L446 884L574 744L433 911L490 819L335 945L488 864L465 857L363 946L444 872L424 876L594 755L593 739L454 880L465 892L358 974L311 963L402 908L526 821L419 893L371 944L479 829L386 919L541 761L448 845L482 854L366 906L432 879L401 883L483 850L571 743L357 974L257 995L333 975L454 835L474 836L502 844L576 793L449 890L457 839L366 939L352 961L402 930L452 872L432 875L378 954L377 951L503 806L412 891L458 879L434 872L480 772L330 932L471 882L476 853L277 1074L594 764L435 870L416 890L272 1011L433 887L467 827L382 935L515 829L379 971L470 891L323 982L564 748L382 965L317 1009L365 952L428 941L436 882L405 936L405 901L293 1030L392 916L407 948L378 912L328 929L400 896L442 886L409 906L503 844L387 878L435 830L469 861L489 818L427 888L593 752L437 937L410 941L431 884L376 927L345 939L589 760L567 746L443 868L437 882L435 868L474 863L342 935L407 886L376 927L404 882L451 843L380 969L330 1007L496 796L559 806L444 901L375 926L353 896L495 840L439 874L532 766L483 823L342 928L441 878L394 905L473 834L340 1008L581 784L583 777L333 940L381 922L372 887L313 961L508 839L336 943L592 755L356 909L586 768L319 998L381 946L562 799L344 927L466 876L397 911L389 897L411 889L574 792L474 879L392 950L328 1011L546 818L431 957L310 965L493 808L492 810L411 920L355 954L291 1037L546 822L393 923L425 898L413 937L449 878L376 919L467 868L390 944L377 978L599 752L484 818L444 863L463 838L531 819L475 830L393 927L363 949L410 936L431 930L305 1025L588 744L352 949L285 998L502 842L480 866L466 860L422 869L402 889L578 782L466 854L479 857L432 845L600 764L417 871L565 797L364 918L389 881L521 827L515 783L387 935L453 867L508 839L404 924L495 802L472 837L591 776L373 943L337 961L385 956L462 926L443 901L480 867L414 881L453 833L423 893L519 778L536 764L420 904L452 858L423 891L533 820L395 905L422 822L363 1000L362 871L382 967L406 886L398 923L480 867L406 879L393 915L446 892L567 748L372 933L589 740L427 902L289 994L428 876L463 856L442 898L351 982L319 1003L385 968L299 1028L534 766L576 741L551 805L454 862L404 873L444 850L423 886L361 916L367 912L428 853L364 987L466 866L431 903L462 857L406 870L445 827L400 897L424 902L408 876L399 941L428 889L367 939L425 855L451 873L494 852L392 917L527 771L419 922L446 867L399 915L342 969L418 865L582 743L586 772L458 835L541 817L379 927L406 909L412 929L414 895L581 784L358 909L302 1004L330 971L460 851L586 769L361 943L431 895L481 822L279 981L415 888L593 757L364 896L392 887L315 973L329 950L319 980L416 945L524 850L556 748L495 844L350 932L487 885L296 990L343 948L312 978L498 810L494 854L520 838L545 761L457 848L402 911L425 859L461 844L468 873L461 841L563 749L395 904L380 954L552 811L473 857L510 834L568 792L365 878L388 962L425 901L570 747L465 869L477 856L339 901L360 960L504 794L434 899L456 879L471 833L534 765L316 1004L385 956L523 829L328 969L353 994L388 893L334 1000L379 939L564 750L369 961L464 820L328 978L454 889L496 853L421 901L429 894L433 877L440 866L463 868L440 872L510 835L374 894L446 914L436 843L389 920L568 793L487 846L415 907L584 774L596 764L561 803L469 825L529 765L473 836L437 915L562 743L403 927L397 887L255 1059L420 876L406 915L446 872L337 959L409 855L394 998L374 956L550 809L530 824L415 871L417 895L422 901L484 872L400 982L567 749L409 939L428 883L352 961L423 866L385 967L530 834L323 1006L450 889L583 743L380 875L377 905L391 958L499 790L433 905L527 774L424 883L479 814L375 921L405 950L409 855L362 954L524 836L430 848L470 861L507 847L576 785L450 880L458 855L577 796L452 865L592 752L278 974L488 853L535 764L482 867L416 908L408 908L455 857L466 847L389 920L442 907L301 978L462 835L442 883L397 875L427 855L401 984L452 891L434 875L442 834L394 961L387 877L522 828L450 885L594 753L498 858L446 916L424 868L424 907L364 970L398 865L477 807L367 926L387 991L336 966L531 820L464 861L471 855L460 843L414 957L473 826L424 920L491 867L365 967L475 875L569 790L595 754L441 869L494 885L428 904L374 924L384 931L412 891L460 873L406 933L326 941L337 1003L488 850L389 983L372 943L271 1012L385 943L471 887L438 917L498 806L325 1024L309 1010L443 883L487 881L398 933L462 873L526 778L476 837L336 991L495 848L349 996L443 891L355 929L466 852L461 874L479 821L474 861L364 947L367 915L468 837L335 991L375 972L384 995L453 888L295 950L496 849L593 758L493 855L506 801L366 937L500 837L327 948L345 981L359 966L478 860L558 754L404 918L458 918L323 1006L545 814L587 767L488 855L526 826L444 885L413 920L511 833L316 982L436 865L557 800L325 959L443 860L350 961L349 957L493 845L493 806L459 909L452 864L506 794L481 852L439 888L381 952L372 910L324 982L471 837L424 908L424 892L453 880L370 933L435 883L406 918L404 941L419 938L445 870L451 888L409 950L531 822L548 755L458 859L380 864L480 813L376 921L397 912L395 914L430 865L368 921L449 885L537 762L292 967L499 843L421 908L423 840L441 867L437 902L417 913L392 951L403 892L387 934L526 750L331 940L440 870L341 988L411 891L375 959L435 880L351 952L415 912L380 881L342 943L479 830L462 888L510 837L459 889L490 803L427 868L484 860L383 941L462 867L556 802L389 915L586 738L393 900L400 897L596 765L552 811L477 828L453 917L572 801L458 849L325 994L446 844L385 907L320 951L463 852L332 979L556 754L373 905L461 835L510 792L420 931L425 855L488 857L416 1010L356 952L352 934L580 741L338 958L371 935L369 923L383 860L457 865L400 906L321 1009L308 937L466 873L416 868L466 889L299 1018L578 781L472 858L358 951L412 902L427 895L521 778L285 989L396 905L292 1040L438 874L458 877L584 778L448 865L431 898L496 849L587 771L450 925L399 919L591 770L523 827L447 865L417 935L471 835L388 906L351 926L475 854L553 811L452 892L415 892L359 919L443 869L336 972L355 955L522 828L471 871L598 757L456 830L589 761L486 856L429 900L360 941L470 815L590 761L485 867L421 882L532 763L582 745L457 855L410 921L402 896L387 905L441 884L425 881L391 926L454 880L359 950L410 918L435 895L591 747L441 884L364 974L388 872L515 790L366 898L331 1000L439 909L511 832L384 914L380 940L406 900L531 761L451 890L438 895L593 749L441 833L549 757L436 868L393 896L446 861L401 885L450 830L416 898L541 821L581 778L534 759L525 829L407 831L392 913L332 944L426 890L366 945L583 781L429 906L350 923L440 871L457 896L425 917L577 739L445 861L404 916L517 835L328 962L471 835L438 857L364 973L388 936L470 848L515 775L426 887L402 927L436 881L340 908L380 940L435 923L467 846L279 1066" fill="none" marker-start="url(#mc)" marker-mid="url(#mc)" marker-end="url(#mc)"/>
<line x1="100.3" y1="565.6" x2="344.6" y2="321.6" stroke="#c9af77" stroke-width="1.8" stroke-dasharray="6 2.9" stroke-dashoffset="1.2"/>
<rect x="100.3" y="321.6" width="244.3" height="244" fill="none" stroke="#000" stroke-width="1.5"/>
<path d="M107.7 565.6v-4.4M100.3 558.4h4.4M183.63 565.6v-4.4M100.3 482.4h4.4M259.57 565.6v-4.4M100.3 406.4h4.4M335.5 565.6v-4.4M100.3 330.4h4.4" stroke="#000" stroke-width="1.4" fill="none"/>
<text class="dv" x="93.63" y="583" font-size="18.63" textLength="27.86" lengthAdjust="spacingAndGlyphs" fill="#000">1.5</text>
<text class="dv" x="67.78" y="565.6" font-size="18.63" textLength="27.86" lengthAdjust="spacingAndGlyphs" fill="#000">1.5</text>
<text class="dv" x="169.39" y="583" font-size="18.63" textLength="28.37" lengthAdjust="spacingAndGlyphs" fill="#000">2.0</text>
<text class="dv" x="67.61" y="489.6" font-size="18.63" textLength="28.37" lengthAdjust="spacingAndGlyphs" fill="#000">2.0</text>
<text class="dv" x="245.34" y="583" font-size="18.63" textLength="28.02" lengthAdjust="spacingAndGlyphs" fill="#000">2.5</text>
<text class="dv" x="67.62" y="413.6" font-size="18.63" textLength="28.02" lengthAdjust="spacingAndGlyphs" fill="#000">2.5</text>
<text class="dv" x="321.58" y="583" font-size="18.63" textLength="28.05" lengthAdjust="spacingAndGlyphs" fill="#000">3.0</text>
<text class="dv" x="67.92" y="337.6" font-size="18.63" textLength="28.05" lengthAdjust="spacingAndGlyphs" fill="#000">3.0</text>
<g>
<text class="dv" x="158.85" y="606.6" font-size="22.6" textLength="48.69" lengthAdjust="spacingAndGlyphs">Hf Q</text>
<text class="dv" x="207.75" y="610.3" font-size="15.82" textLength="40.35" lengthAdjust="spacingAndGlyphs">AIMD</text>
<text class="dv" x="255.68" y="606.6" font-size="22.6" textLength="30.23" lengthAdjust="spacingAndGlyphs">(e)</text>
</g>
<g transform="translate(59.4,443.6) rotate(-90)">
<text class="dv" x="-65.93" y="0" font-size="22.6" textLength="48.69" lengthAdjust="spacingAndGlyphs">Hf Q</text>
<text class="dv" x="-17.04" y="3.7" font-size="15.82" textLength="45.45" lengthAdjust="spacingAndGlyphs">CNMP</text>
<text class="dv" x="35.56" y="0" font-size="22.6" textLength="30.23" lengthAdjust="spacingAndGlyphs">(e)</text>
</g>
<text x="112.57000000000001" y="350.1" font-size="22.4" font-weight="bold" fill="#c9af77">R²: 0.95</text>
<text x="0" y="344.1" font-size="30.5" font-weight="bold">c</text>
<defs><marker id="md" markerUnits="userSpaceOnUse" markerWidth="1" markerHeight="1" overflow="visible"><circle r="2.40" fill="#b4d270" fill-opacity="0.2"/></marker></defs><g fill="#b4d270" filter="url(#bl)"><path d="M598.5 402l.3 1l-.2 1.5l-1.6 3.9l-7 10.5l-11.5 14.1l-26.8 25l-23.2 20l-20.1 15l-12.4 8.1l-5.9 2.4l-3.1 .3l-1.5 .9l1 -3.7l3.5 -6.4l9.5 -11.8l17 -18.8l21.2 -20.5l27.4 -24l15.9 -10.5l7.5 -4l5.5 -2.5l4.5 -.5z" fill-opacity="1.000"/></g><path transform="scale(.5)" d="M1184 846L1024 908L1011 926L1037 976L1156 876L1049 904L1113 913L1139 831L1056 957L1164 872L1049 895L1168 816L997 1000L1018 939L1018 983L1169 856L972 1003L1114 851L1166 816L1081 877L977 996L1038 924L1171 844L1212 799L1135 884L1010 991L1195 803L1183 811L1070 891L1030 928L1007 942L1187 804L1005 959L990 1002L1191 821L1122 904L1029 920L1148 876L1176 868L1111 856L1176 844L1087 871L1055 903L1151 826L1225 801L953 954L1075 888L1146 828L1197 825L1135 891L996 966L1130 890L1147 821L991 971L1149 826L1148 877L980 987L1122 838L1046 901L1003 955L1210 800L1125 844L1088 925L971 968L1119 900L1034 914L1089 878L965 994L1069 897L1072 890L1196 814L1166 869L1038 978L1079 877L1109 919L1017 948L1197 817L993 950L1071 946L984 980L934 1044L1172 817L1167 816L1166 865L1092 875L1174 842L1146 826L1025 977L1068 896L988 981L974 996L1041 974L1077 872L976 995L968 988L1126 847L1014 943L1163 817L1186 829L958 990L1075 940L994 975L1176 847L1168 856L1090 871L1003 963L1210 796L1095 868L1024 997L1168 815L1153 878L1003 958L1128 840L1141 823L1190 821L942 1035L1180 812L958 991L1188 859L1105 855L1103 863L1102 918L1145 827L978 991L1093 873L1035 974L1110 856L994 1004L1036 914L985 977L1203 806L939 979L1040 967L1143 832L1001 999L1247 759L1188 807L1102 859L1007 956L964 980L975 966L941 1026L978 966L1046 917L1014 991L1006 962L999 944L990 982L1095 876L1092 879L1201 800L1178 840L992 970L1052 960L1139 831L1206 826L1221 821L1131 888L1051 896L985 972L1203 802L990 980L1110 859L1208 808L1096 926L971 1001L1089 872L1023 990L1162 858L1209 806L1106 851L1050 911L1001 962L1049 909L1050 918L1091 871L1073 886L1078 889L1145 821L998 1006L1010 997L974 1010L1153 884L1169 818L1048 907L1180 846L986 980L1159 863L1209 810L1051 959L1146 877L968 1012L1225 784L979 1018L997 959L1017 944L1143 831L1070 890L1081 871L967 989L967 1004L1108 843L1119 899L962 1015L1106 863L1110 919L1070 865L1196 793L1201 815L1169 853L1142 834L1175 806L965 967L1030 973L1095 923L1094 863L950 994L1112 908L1049 889L987 976L1085 938L981 980L1111 857L1034 973L1120 896L1026 984L976 970L1036 928L1180 840L997 1002L1211 813L1197 802L991 1005L1037 977L960 981L1001 951L991 971L975 1002L1194 816L1000 964L986 977L1001 997L1023 934L1202 796L1160 821L1047 985L1195 813L1083 956L1183 846L1064 897L989 975L1159 874L1072 885L982 963L953 1006L1117 852L1006 1006L1162 858L1134 839L1084 932L1096 865L1224 797L993 974L1007 1000L1146 882L1055 959L1057 900L972 994L1117 831L1189 826L1014 948L1102 861L1215 804L967 977L1124 920L977 993L1100 866L925 981L1209 803L1113 855L973 998L1162 860L1146 832L1103 920L1036 926L1103 851L1095 923L1160 874L1146 832L1103 914L1086 964L1076 946L998 947L967 1016L1052 907L1103 916L1084 942L1142 834L969 1016L1025 928L1127 895L1121 849L1176 806L1177 841L1060 905L1039 921L1100 869L1087 874L1105 864L1020 937L956 995L1191 834L975 977L1010 949L1011 954L1192 828L1165 813L1218 815L1172 811L1151 869L993 958L1202 802L1119 850L1023 988L1106 928L1172 809L976 1008L1027 918L1037 922L1123 846L996 1001L1158 872L1104 920L1046 968L1125 839L1134 838L1156 816L1002 954L984 1018L1129 842L956 1004L1074 945L1108 859L1126 849L1063 901L1112 857L1095 935L956 1025L978 1006L1038 920L1007 961L1181 836L1206 787L1169 860L969 1001L1018 931L1037 920L946 1030L967 999L1030 929L963 1016L1052 897L1145 881L1161 872L1099 926L995 951L1168 851L1102 863L1056 902L1017 939L980 989L998 965L1082 877L1047 962L1020 940L1070 890L1059 905L932 1032L1138 830L943 1018L1184 836L1163 861L1050 901L1032 974L1201 817L1011 947L1011 993L1170 812L1169 871L1144 880L1116 907L1203 803L1175 815L937 1019L978 990L1195 807L958 1007L1010 955L1176 803L1052 914L1047 909L1143 879L1195 808L1028 936L1052 964L1186 803L1225 813L1154 869L1006 931L1060 888L976 942L1213 796L1069 949L1082 882L978 973L1158 864L1187 832L1113 911L1136 836L976 989L1199 813L1197 816L1148 829L1182 834L1050 912L1151 829L1232 793L1206 814L1144 885L1152 822L1189 821L1091 950L975 978L1118 849L1119 849L980 990L1011 990L1070 896L1096 862L1081 942L1115 851L950 1022L986 1011L1188 834L1161 869L1144 890L1147 828L1154 869L1118 843L1068 896L973 986L1088 873L1013 925L1078 942L979 990L1132 835L1150 873L1001 942L979 956L1154 872L1166 872L1139 833L1038 967L965 998L967 1009L1054 958L961 1013L968 1012L986 971L992 969L1008 992L1178 852L972 996L1196 800L1088 935L987 1009L1015 938L1143 831L1197 818L985 1005L1166 820L1073 958L1192 842L958 990L1136 841L1198 824L1175 844L1186 866L1166 873L1136 888L1215 826L1139 912L1032 923L1043 917L1010 944L1141 883L995 961L1141 836L1021 992L957 1022L1085 933L942 1031L1170 810L1179 836L963 1003L1056 957L1060 902L996 968L1194 802L983 1006L996 956L1065 897L1171 850L990 972L992 1006L1017 983L1125 897L992 975L973 1018L1127 900L1075 937L942 976L1153 871L1056 902L980 1005L1154 869L976 1010L1061 954L1044 922L1024 935L995 969L1112 848L1124 846L1071 895L995 969L972 1015L1038 925L1146 885L968 983L996 963L1144 880L1210 785L1030 975L1017 946L963 989L1046 914L1126 897L1135 841L1083 939L1063 897L1001 1008L1116 852L1089 880L1190 830L966 1029L1164 866L1036 921L1193 827L1140 884L1164 881L1180 854L1023 942L970 988L1113 914L1015 949L1166 858L1114 914L1201 811L971 1015L1079 885L1035 926L1160 870L1054 904L1201 802L982 987L1056 959L1062 892L1004 963L1033 929L1116 847L1092 875L998 1000L1125 898L1188 807L1125 908L1181 803L1122 899L1053 955L1070 942L1153 824L1196 857L1050 913L1112 860L1134 835L1018 949L1195 801L1000 996L1135 833L985 986L1108 911L1029 981L955 993L1053 959L1190 828L1058 906L964 1007L1001 1001L1158 867L1027 981L1010 989L1165 818L1094 925L1179 842L1003 954L1079 888L985 1005L1052 913L1183 834L1098 920L1112 859L1035 977L1232 776L1006 956L1125 848L1131 892L1192 820L1137 837L1118 911L1110 915L1059 907L1141 895L1034 930L1222 811L1195 841L1009 988L1053 910L1027 933L1074 944L1145 829L1009 993L1089 875L1060 894L1125 839L1018 948L1058 904L963 991L973 985L1048 968L1190 828L1053 906L1096 922L986 970L1127 900L967 988L1165 814L1059 957L957 922L1196 810L1184 837L973 1001L1065 953L1055 897L1206 798L1109 909L968 1012L1150 878L1058 908L1092 925L1042 921L1006 1001L974 998L981 978L1003 995L1100 861L988 976L1017 948L1084 934L1095 866L1137 883L1025 982L1078 888L1082 867L1018 947L1178 846L1098 870L1233 789L1029 978L1058 901L993 966L1022 935L1010 955L1165 819L949 1031L1202 802L1149 874L1055 955L1170 849L1152 870L979 991L1182 835L982 1009L983 1010L1018 948L1012 987L1023 988L1046 915L1144 877L1107 865L1021 941L1186 834L1012 990L1158 866L1154 813L967 1018L987 975L1191 833L1040 924L1147 879L994 972L985 984L964 1006L1181 812L987 976L1114 848L984 984L1193 819L1163 863L1016 938L1196 813L1019 935L1049 974L1124 918L1135 827L973 1001L1107 857L1061 952L1037 913L1173 801L1068 952L1212 792L995 998L1064 886L965 998L972 1001L1086 930L1114 914L1174 808L1191 823L1181 833L1204 826L1005 960L1026 978L978 994L1005 999L962 993L1185 841L1170 848L1215 790L1129 843L941 990L1034 929L1205 799L1180 846L1109 914L1183 805L1012 953L1067 889L1152 813L970 1000L974 986L1105 916L1085 934L1096 872L1206 825L1165 858L1142 880L1076 870L1200 805L1156 824L1072 883L1085 878L1122 903L1141 822L1002 949L1018 936L1177 814L1142 822L979 1012L952 992L1053 960L1102 914L1013 986L1000 960L1120 852L1059 899L1007 951L1011 989L997 946L1180 842L1117 907L1057 907L1104 928L974 1013L1102 864L1176 849L999 998L1185 805L958 1008L1046 917L1121 897L1005 995L1074 938L1182 806L1027 930L1169 848L972 982L990 1002L1191 802L1070 893L1138 838L1076 891L988 984L981 1014L1011 990L1101 925L1048 916L1171 864L1047 974L1234 787L990 962L1017 987L1186 801L980 968L1102 856L1115 909L1149 876L963 995L965 987L1169 814L1138 832L1108 858L1208 824L1185 837L965 991L1039 914L1049 969L997 968L1072 897L1200 820L949 1016L986 1003L1014 938L1110 912L1084 945L991 959L1131 903L1138 892L1030 980L969 995L1037 974L1096 868L1109 917L1062 895L995 999L1078 939L966 1004L1052 892L1083 931L988 979L970 1009L1121 906L1110 860L1164 856L1220 786L984 976L978 977L1222 850L1137 890L1157 817L1188 839L1161 857L1197 818L1018 945L1024 941L1187 829L1061 901L969 1009L973 998L1127 842L982 985L1215 799L1145 826L989 976L962 1034L1140 888L933 1014L1115 854L1053 962L1079 948L971 994L988 975L1166 813L990 1005L1002 964L1031 982L1165 855L1032 974L968 1003L1163 865L1055 912L1164 862L1091 871L994 1014L1136 883L1085 931L943 1013L1169 876L1074 952L1052 958L1055 907L1165 864L1175 846L1051 972L1226 810L997 997L995 1001L1033 931L1154 880L1047 918L1018 944L1031 987L973 994L991 978L1063 902L1179 844L1002 995L1088 928L1164 818L1100 868L1191 827L1222 784L945 982L1164 870L1053 965L969 976L1050 964L1106 863L1110 913L1001 958L1136 836L983 1020L1043 971L1152 817L1112 912L1198 817L969 985L985 973L998 960L999 960L1160 861L1154 870L1111 908L1041 912L1066 955L1053 959L976 968L1119 833L1075 894L1121 852L1004 995L1021 938L1156 869L963 1017L1057 958L1028 925L1191 825L1065 948L1060 955L1004 948L1183 843L977 1006L950 986L1027 927L1113 851L1013 897L971 1018L1048 966L1145 880L1004 963L1074 942L1066 900L1070 949L1085 938L1132 840L1202 811L1038 920L1009 993L1025 941L1064 895L1129 892L1038 969L1092 871L962 1009L1189 803L1131 840L1082 879L1129 844L982 1011L1002 967L1203 802L955 1006L1008 1006L1202 805L975 1009L1016 993L968 984L1102 916L1185 844L1038 917L1075 937L1169 816L1023 990L1044 974L1068 890L971 1001L971 1025L1237 789L978 983L1013 949L1050 960L1117 912L1100 855L1091 929L1001 960L985 987L1190 847L1095 925L1112 916L1060 894L974 983L952 1006L975 988L1024 941L1018 943L1042 974L983 976L965 991L1130 843L1104 859L995 936L1093 864L1168 856L1027 937L1068 885L979 1017L1026 988L1063 887L1122 848L1173 849L1182 806L936 1036L1020 943L927 1006L1174 850L1065 965L1106 927L1192 821L1164 855L1007 992L1087 866L1084 939L998 995L1005 957L972 1000L1042 894L1108 919L1143 882L1008 997L1055 957L1211 803L994 999L1189 823L1056 961L1099 917L1185 804L1043 917L988 975L977 964L1082 883L998 1006L1037 931L1205 822L1013 933L1083 883L1205 803L1093 872L971 966L969 991L1196 803L1134 813L1168 860L1117 856L1066 897L1100 929L944 990L1180 835L1054 955L1196 813L1008 997L1106 916L1197 810L1145 833L1077 939L1170 851L1001 943L1131 834L1041 976L1024 981L1192 824L1151 884L995 969L1100 868L1118 855L1029 937L1141 891L1212 810L1150 825L1128 912L1101 868L990 952L1005 958L958 1001L1039 908L1013 994L1019 930L1154 817L1056 961L1006 958L953 1009L1106 845L1022 984L1179 845L1037 969L1117 853L1114 908L1012 948L994 970L1100 925L1053 967L1006 991L1166 859L1007 953L1191 827L1059 889L1051 913L1143 831L1172 813L1192 821L1043 911L990 1001L1102 865L982 986L1052 963L1168 813L1119 909L1092 939L1112 854L1008 958L1196 846L1116 919L1176 842L1023 928L1199 823L1169 816L967 1012L1031 975L1075 937L1090 874L977 996L1016 948L1014 986L1057 904L1034 924L970 999L972 1008L1068 888L968 1004L931 1021L1030 1011L1145 885L1001 959L1160 871L1165 867L1172 847L1106 925L1203 820L1076 969L993 1005L1078 941L1123 840L1196 800L982 1012L1041 910L1175 854L1167 818L1006 944L1116 854L1144 832L996 1002L960 1011L1126 900L1134 834L1027 977L1107 914L1188 804L975 1022L978 966L977 999L955 1005L989 981L1082 887L964 999L962 1020L1058 956L959 1020L998 1000L1118 854L1110 912L980 1014L1143 888L1034 923L1070 890L1065 900L1203 817L1136 886L1198 819L1028 930L1054 910L1130 895L1148 824L1007 949L1016 990L954 992L1219 759L1193 825L1013 997L1061 898L980 1005L1047 961L985 984L1093 922L952 1025L1103 919L1014 938L1112 861L1189 804L964 1005L1158 819L1048 909L1075 941L1050 974L1048 959L1009 997L1103 930L1084 943L1008 951L1088 930L1013 986L1024 927L1151 873L1201 828L1106 917L1081 936L1030 933L1032 932L1061 952L1003 994L1063 904L1077 887L980 979L1049 908L1036 929L1148 883L1177 853L1008 1019L1163 818L1001 997L1068 897L1094 932L1001 958L983 979L1061 902L1186 804L1143 833L1064 951L1197 820L982 1011L1181 806L1051 979L953 1026L1181 810L1161 884L1103 863L1139 831L1091 937L1139 839L1134 837L1105 862L1169 813L1076 946L1176 852L1093 872L1095 922L1189 806L1098 867L1130 839L1022 984L991 975L994 972L988 983L1039 919L1095 874L987 982L1199 826L1165 818L1101 921L1102 913L1036 930L974 953L1055 903L1166 818L1155 867L944 1017L1172 849L993 1012L1132 912L970 971L1004 1005L981 967L1219 786L1019 981L984 969L977 988L1062 950L1065 902L1069 948L1048 912L1169 848L1042 918L1133 839L975 1011L1062 952L1079 937L963 969L966 967L1141 885L1025 981L1122 895L1144 832L1052 971L1060 895L1134 884L1125 849L1003 995L1070 950L1132 891L1001 966L1153 828L1000 1001L1062 897L977 1015L1060 908L974 1015L1183 844L964 1010L1129 842L1174 855L960 1022L1231 774L1033 976L1059 958L1171 869L1182 842L972 1008L1112 911L1059 898L1025 930L1171 855L1107 914L1043 964L971 1001L1105 861L1143 828L1028 982L1191 833L992 953L969 1012L1050 964L938 1035L995 936L1177 810L1142 899L971 984L1150 870L1043 913L1198 809L1113 906L1195 797L994 960L1110 918L955 1024L974 1011L1208 822L1060 904L1188 826L1110 912L1046 967L1101 871L1185 802L1144 879L1151 829L1085 879L1202 799L1069 893L1190 825L1174 860L1029 921L1135 891L1224 795L1091 872L1127 830L979 970L967 1015L1010 948L1031 927L1006 958L1033 971L1088 863L1153 870L1201 824L1018 945L1142 907L996 967L1053 961L1046 964L991 976L971 1009L1009 1000L1219 789L1162 869L1142 899L1166 851L940 1020L1189 831L997 1002L1188 840L1210 793L1206 814L1094 874L1040 971L1029 925L1100 924L1156 864L1150 877L1022 943L1054 959L990 979L1092 874L1042 911L1012 993L1102 917L993 965L1057 959L1226 842L1112 855L968 1007L1067 946L956 1001L1028 981L1026 980L1192 800L1063 895L1195 805L1174 815L966 1003L1098 917L1030 932L996 974L1101 939L1031 930L1144 882L1081 933L1038 927L1015 989L1135 885L1015 941L1182 810L995 963L965 1013L1190 831L1003 960L1157 814L1027 937L1196 843L1183 835L1198 831L990 947L1028 985L1024 922L1079 943L1095 921L1160 865L1051 914L1165 862L1157 873L994 968L1144 879L1101 869L1074 938L1177 814L1016 990L1091 933L1180 811L1172 812L1067 944L1139 882L1105 914L1022 940L1155 875L1121 896L1191 833L1027 989L1242 775L985 1013L1179 814L974 996L1171 852L1171 846L982 987L1099 866L1163 860L973 1018L1049 963L1206 812L939 997L1030 922L1173 811L985 956L1066 896L1026 978L1065 949L1012 943L1118 843L1148 891L965 1003L1181 832L1015 993L1115 906L1162 862L977 1010L961 1003L1127 894L1097 865L1028 931L950 997L979 1013L1076 940L1215 791L981 990L935 970L1080 935L1158 868L1152 825L1067 953L1014 938L1011 947L1166 864L999 1002L1031 981L1048 962L1000 997L1086 931L1000 1003L986 1004L997 937L1151 828L1011 945L1107 852L1215 793L976 989L984 971L1065 950L992 973L987 968L1008 956L1021 989L1196 804L1212 801L1074 947L964 1018L1103 914L1065 896L980 1006L1127 841L993 1004L1016 944L1174 808L1037 929L983 988L1094 865L1160 861L1200 816L1041 973L1142 882L974 1001L1031 931L978 995L974 1002L1053 959L1063 900L1097 865L957 982L1088 863L1098 930L1067 895L1053 895L1059 898L1093 873L1088 960L1021 943L1174 850L1096 867L1075 938L1072 948L1106 912L961 1006L1003 962L1086 931L1185 832L1132 835L1055 977L1143 833L1065 896L1000 950L1220 810L1111 914L948 994L1009 956L1078 938L1197 828L1172 856L1119 903L1136 825L1060 956L953 1011L1227 781L976 996L1023 979L1004 947L959 997L971 988L1026 986L1105 954L984 989L1044 965L1020 945L1035 926L1124 900L1050 960L1024 984L1089 880L1192 803L1164 858L1167 809L1001 961L935 1023L1108 916L1115 905L966 1008L1206 807L1199 814L989 967L932 1011L966 993L1076 944L1059 895L1116 935L1176 855L1116 853L1006 944L1196 801L1002 938L1018 942L1227 780L1178 855L959 994L1050 904L1002 1008L1193 791L1101 926L1153 868L1161 862L1194 824L1076 876L991 975L1081 941L1040 923L971 987L1077 938L1144 884L1056 901L1069 898L1049 908L1013 943L1067 953L1182 838L1068 946L1229 782L1038 970L1089 879L1160 875L1171 816L1142 831L1188 806L958 1015L1180 811L1082 883L973 999L1157 823L1169 814L1031 986L1156 822L1065 965L1078 949L1041 913L988 1004L1063 902L1200 803L1040 966L1149 877L1162 814L1199 799L949 995L977 1009L1155 866L1004 946L1086 880L1028 911L1061 953L1091 932L1100 867L1111 855L1181 840L1102 921L1181 845L971 1000L1060 952L1067 895L1079 884L1053 958L1096 924L1025 932L1106 865L1152 884L1068 943L1197 802L1076 888L978 1015L1067 953L989 1002L974 1018L1095 920L1016 985L1186 843L1012 948L1051 962L1067 897L1135 891L1091 874L1035 972L1157 867L985 964L1159 873L1013 944L1059 900L1023 928L983 1005L1066 945L1198 842L1016 950L1149 890L1001 962L1022 941L1201 823L1190 829L1032 921L949 988L1135 895L1069 947L1199 802L934 1013L938 1029L972 1010L1074 939L1133 838L980 987L969 1011L1127 842L1012 953L1143 878L965 1008L1198 800L1109 911L972 1010L990 1005L956 1004L1170 817L1136 900L1119 853L1107 860L1108 910L1078 879L1198 823L966 1003L1124 911L1146 894L1228 782L967 1010L1041 968L1153 871L1008 994L1120 848L970 1005L1136 835L1161 877L1065 967L1194 820L1168 819L1185 843L1024 922L1067 892L1138 888L1009 950L1207 801L1027 920L1134 839L1133 835L1098 923L1007 953L967 1012L1067 950L1158 810L1077 947L1215 803L1104 854L1044 917L1209 810L1013 950L1229 744L1100 864L1079 888L1144 880L1004 944L1185 846L995 974L1015 1000L1130 843L988 1004L1193 800L987 976L1189 805L1154 816L1054 957L1003 996L1109 916L1037 973L1049 962L1145 877L1073 890L1155 876L1046 969L1001 997L1018 944L1106 863L1135 886L961 992L980 1012L1068 946L989 963L1205 805L1021 999L977 949L1018 990L1062 951L1036 924L1139 881L1024 942L1024 927L985 1008L1170 870L967 991L1196 815L997 955L1140 880L1100 918L1123 899L982 1017L1056 905L1188 800L1064 896L973 1005L968 987L1032 984L1017 950L1203 801L1174 811L967 1021L1170 861L1041 917L1212 811L1173 812L1165 853L1011 991L1159 862L1048 961L1046 918L1191 828L975 998L988 968L1136 885L1102 860L974 1008L1022 991L1193 827L928 1002L1021 944L1147 823L1047 908L1021 986L1174 844L1083 930L1118 905L977 1006L985 1006L1191 807L1119 905L938 976L1187 857L1194 823L974 986L1067 900L1158 818L1030 936L1176 846L965 987L1107 922L1065 892L1173 844L987 1002L980 986L1027 935L1049 908L967 1008L964 988L969 1008L1119 907L1039 918L1205 808L1014 948L969 990L1092 922L1173 816L1157 868L1057 959L972 980L1089 929L1170 858L985 972L1119 845L1070 896L1153 827L1177 805L993 1007L1076 937L1045 963L1033 922L1010 953L1211 804L1121 904L1004 959L984 970L1021 939L1081 935L1196 806L1114 855L1105 916L1077 940L1018 947L1164 869L1168 865L1135 884L1051 912L1021 983L1160 867L1120 910L1037 919L1182 833L1137 910L1020 982L1033 930L1038 915L1087 946L1133 895L1087 882L968 1001L1039 923L1042 976L1077 937L1098 931L1114 857L1135 900L1035 911L994 1015L989 1003L958 1018L1027 934L1124 894L1161 821L1014 948L984 1004L1144 827L970 987L972 1007L1079 937L1014 952L939 1004L1004 959L1115 910L1242 771L1028 936L985 985L1085 879L1205 805L1168 857L1004 944L1062 895L984 1007L1041 981L1169 815L1188 832L1065 952L1185 830L1071 962L1179 860L1025 942L1215 828L1041 916L1206 798L1095 928L1126 846L943 1016L1064 950L956 1021L1182 829L1179 809L1180 803L1198 806L1127 914L1166 856L1204 806L1002 995L1064 950L1111 914L1150 829L1064 950L991 1009L1017 986L1027 982L973 989L1041 920L1220 789L1188 803L1013 1006L1028 929L958 1008L1061 954L1126 898L1135 832L947 1010L1019 945L1050 908L1225 786L984 1012L1180 833L1065 899L1043 920L1062 889L1193 803L1177 856L1154 823L1122 898L1199 819L1135 898L1024 939L968 1020L1123 897L1035 984L983 1010L950 993L1018 938L994 1003L1038 979L994 953L1141 828L1200 804L1192 803L971 1013L1114 848L1104 915L1014 990L1022 940L1039 917L1131 909L1150 872L1172 851L993 973L1116 910L994 965L1199 809L936 1032L985 975L996 965L1049 910L982 973L1203 817L1209 803L1127 910L978 1007L1132 886L968 1010L1151 879L1108 912L1101 860L1206 811L1051 914L1041 974L980 1008L1181 807L1095 929L1110 913L1091 923L1127 835L1029 979L1077 940L1059 960L973 995L1047 963L1063 950L1155 819L1047 975L1016 948L971 973L1060 957L1115 910L1057 899L1181 857L946 986L1221 807L1175 854L1068 947L1011 949L1177 849L1201 813L961 1002L1093 875L1015 920L1065 951L1160 867L1111 914L1133 832L966 990L1107 916L1076 875L979 988L982 970L1028 931L1055 956L1116 856L1085 882L1026 982L1104 914L1077 889L963 981L1085 930L1163 814L1042 920L1127 833L1096 873L1118 848L1161 867L1060 889L1194 814L1039 920L1089 863L1104 856L1007 997L1154 823L1201 806L1196 850L988 963L1197 797L1000 970L971 983L1018 947L1136 887L1070 899L1132 825L1207 828L976 976L946 968L979 986L1146 877L1083 938L974 991L1034 979L1113 908L1178 857L1102 870L1067 896L1103 867L1182 811L1206 801L1071 943L1035 916L1145 890L1164 822L1118 837L1033 929L1130 840L1026 926L1100 919L1161 866L1017 992L1103 867L1123 851L999 961L1132 900L999 998L1081 886L1036 975L1007 960L1179 850L1060 896L974 992L1036 973L1068 892L1114 856L1106 929L1028 934L998 1013L1144 825L1119 917L1007 937L1128 836L1223 792L1197 824L1214 799L1143 880L1145 835L1189 804L1200 804L1133 891L1196 826L1003 957L1055 909L1150 875L993 964L1164 866L1182 807L970 1001L1121 900L1069 948L1010 995L983 984L1074 886L1087 880L1192 797L1098 866L972 997L995 952L1006 956L977 973L1088 873L1048 964L997 973L1057 959L1201 822L976 989L1101 924L1026 935L1151 870L1065 952L1202 804L1073 943L1142 827L1137 882L1210 823L1085 937L1078 938L1184 829L958 982L1116 852L1168 884L1248 798L1175 847L1169 849L1070 944L1018 940L984 985L1108 858L927 1023L1114 908L1203 792L1053 960L1089 930L1137 901L1180 845L1036 910L1003 965L1074 947L944 1035L964 991L1097 950L1172 814L1017 934L1015 929L1105 866L1135 893L1134 885L988 1012L1033 971L954 1010L1110 861L1149 874L982 1012L1027 936L970 1012L1041 921L1013 993L1168 855L1065 900L1111 907L1004 951L1198 828L1118 848L1114 910L942 1022L1154 818L1199 808L918 991L1059 958L1159 865L1017 943L992 967L997 1003L1033 915L1073 894L1104 917L1041 918L1183 806L1214 797L976 966L1183 842L1126 896L1059 904L1222 795L1129 843L1116 849L1124 835L982 981L971 1016L988 976L1082 958L1058 901L984 989L982 977L1184 805L999 963L1193 819L1153 822L977 990L1123 918L1114 858L980 984L1117 850L975 1017L1063 950L1151 825L1143 890L1043 996L1073 877L1133 841L1057 906L1120 846L1052 963L1056 906L981 1006L1095 924L1135 839L1091 931L1180 834L1078 938L970 1015L1036 991L1053 909L1188 832L966 974L1177 858L1095 868L1193 834L1012 992L1079 938L1037 972L1088 939L1024 980L1141 885L1228 811L1183 835L1018 947L1019 985L1191 837L982 980L1067 948L1095 929L1095 867L1155 869L1069 894L1071 948L1051 904L1170 815L1035 974L1076 940L1114 911L1103 866L1180 843L1043 971L1005 943L1076 887L972 971L918 1047L958 996L1068 947L1034 979L989 979L1116 910L1087 935L1165 857L1011 995L1067 897L1036 910L984 979L1167 813L990 976L969 1007L1093 931L975 998L987 957L1206 827L1163 858L966 983L1022 984L1131 836L1009 992L1024 983L1116 908L1033 919L991 976L1093 869L1184 809L1041 968L1146 903L1157 882L1035 926L966 972L1132 837L1100 868L943 1028L1171 862L1036 980L1201 811L935 1011L1078 884L1011 950L965 1010L978 989L943 1012L1139 888L984 962L1158 870L1215 807L1155 871L1138 896L974 995L1035 972L1022 942L1123 850L974 1005L1048 969L1051 963L1016 946L1087 927L1023 979L1075 883L1052 909L1132 888L993 1006L1124 899L1127 844L1099 920L1206 801L1127 910L1020 988L968 1015L1200 802L1135 839L1101 852L1086 879L968 1004L958 1003L1003 946L966 983L1182 810L1055 960L1046 913L957 1023L1093 868L1110 855L953 979L965 997L1073 941L966 998L1019 933L949 1029L1036 925L1182 810L1022 945L1101 867L1016 945L1180 840L1075 940L1121 905L1193 808L1107 912L1202 806L1147 827L993 972L1188 823L992 1003L1210 799L1066 901L1072 894L1105 920L965 1007L924 1029L1006 997L1145 879L1166 855L964 1013L1162 863L1064 956L971 1001L1146 876L1008 955L1154 812L1017 992L957 1015L997 965L980 1007L1197 813L1212 793L1098 869L1132 890L1049 965L1198 815L1188 827L997 970L1047 969L970 1019L1202 824L1163 812L1132 892L1126 895L939 957L1145 874L1168 860L972 1015L1175 844L1060 901L945 1023L976 993L995 939L1142 879L1193 818L1210 790L1056 908L1073 884L1115 910L1044 981L970 1000L1030 973L1201 800L971 1016L1106 841L1055 957L977 1011L1021 939L970 997L1062 901L1027 935L1117 845L1172 848L1178 813L1181 801L1080 934L1025 938L1053 958L1113 856L958 1012L1009 994L1070 897L990 1006L1072 890L1081 875L1055 888L1057 899L1014 1002L1049 966L967 1001L1117 854L1023 936L1175 844L1091 925L1056 909L1191 808L1050 959L982 965L1002 963L1006 991L1035 977L1116 848L1048 962L1163 861L1200 803L1092 927L1142 883L971 989L992 978L1207 824L1038 977L1123 896L1017 941L1044 917L1133 900L1049 903L1029 980L995 998L956 996L1144 878L1136 889L1098 854L1027 982L1165 864L1185 839L1176 801L979 993L957 1022L1167 859L1112 911L1148 883L1085 946L1027 936L1042 969L1129 897L1096 928L1167 864L972 1009L1206 813L1201 807L1085 940L989 1014L1018 945L1038 926L997 970L1009 947L1030 932L952 1026L1068 950L1076 941L949 975L962 1008L967 1001L1207 810L992 1009L1197 812L987 1005L1134 821L1065 955L1089 931L1207 825L1089 875L1193 798L986 980L1013 987L962 1014L1052 913L1124 903L1185 837L1054 957L1142 833L946 998L994 965L1014 950L1123 836L979 994L1012 951L1105 866L1142 824L1074 938L1068 893L1010 956L1013 990L1119 901L956 997L1107 858L986 1003L1061 899L1047 899L1113 907L1170 851L1041 913L973 1036L1129 896L992 977L1019 991L1089 931L1041 916L1003 955L1000 944L1014 994L982 987L1021 982L1151 824L1119 854L1104 944L1180 843L1076 939L1061 899L1120 844L952 1016L1079 880L1097 864L965 988L1179 848L1140 834L1105 914L959 1018L1038 924L1148 827L1207 788L1010 988L991 973L965 998L998 1004L1175 808L1028 983L1059 906L950 1005L1022 939L1138 893L1207 807L1092 877L1052 905L1003 952L970 1015L1041 977L1107 859L1208 801L1221 789L1107 909L1140 888L1124 906L1175 855L1111 911L963 987L977 998L1019 987L1066 900L1025 939L1042 908L1198 825L967 972L1057 957L1137 883L1142 832L1224 797L968 1025L1192 825L1148 873L1194 822L1014 940L966 983L971 1016L1207 816L1185 831L1176 816L1168 807L1016 984L1136 884L995 970L960 1008L1084 878L1170 857L1079 938L1021 944L1128 843L1174 799L1097 918L1149 827L1014 947L1062 958L1168 862L982 970L1154 874L1126 917L977 995L960 1019L1162 868L1155 872L1011 949L1005 960L1126 828L1073 889L1067 953L1142 835L1006 994L1058 956L1165 866L1121 846L1161 880L1023 930L1088 930L1133 888L1040 918L1071 949L1106 912L1093 865L1084 878L982 990L1109 919L995 1003L1073 890L1084 884L1176 800L1160 819L1085 881L1036 969L1039 918L1130 888L1184 835L1056 903L1205 808L1014 944L1041 978L1066 901L1159 875L1060 902L1159 816L1055 910L949 1019L955 978L972 989L1075 881L1038 927L1053 911L985 1013L1211 810L1018 942L1076 887L1187 891L1164 807L1143 894L1061 954L1052 966L1117 856L1178 811L1063 951L1051 960L1182 839L973 1016L1191 820L1090 864L1045 970L1235 790L1062 898L1056 907L951 1016L1022 983L1084 935L1072 888L1183 841L1130 901L968 996L1006 951L1140 879L1041 899L1170 859L1055 957L1031 975L1177 850L1145 829L1083 878L1121 846L983 975L1003 961L1045 911L1186 827L1012 999L1016 939L1106 855L1050 900L966 996L1111 906L1169 817L1115 915L1027 934L1113 911L1204 803L1218 789L1023 943L1211 805L1043 965L951 1007L1018 943L1149 886L1170 846L975 1012L1022 919L972 1016L983 980L1149 872L1151 818L967 1001L1004 1002L1173 807L1067 896L1061 901L1100 865L1012 949L1154 872L1017 942L1104 860L1155 867L1071 887L1027 932L1000 1003L1081 884L1225 797L1113 858L1096 871L1144 831L1180 832L1118 915L1031 977L979 987L1074 939L1018 995L1173 849L1035 980L979 990L1188 830L1064 895L975 1010L946 1014L1048 915L1157 813L999 1000L1059 892L1093 929L1185 810L1053 970L1192 826L1085 862L1156 821L1056 893L943 1018L1032 936L989 953L998 970L1156 881L1088 931L975 1011L1169 857L974 994L1045 919L941 1008L1033 981L984 1007L1137 884L1132 898L970 992L1025 922L1054 906L1090 932L937 1037L1073 955L1080 962L1068 893L1127 847L1197 798L996 966L1188 809L997 944L1117 848L952 1023L1144 889L1025 936L1081 938L1114 909L1004 943L1019 946L1200 799L1050 971L937 1033L1125 895L958 1023L1123 839L1007 995L1062 954L1103 860L1199 825L1118 903L1058 958L967 1002L976 991L1072 941L1036 929L1171 858L1012 949L1133 886L1114 851L1040 918L964 1014L1069 897L973 975L999 961L1093 922L1176 809L980 960L1072 890L1118 851L1097 925L977 984L1033 979L1124 898L1061 958L991 978L1014 950L1107 853L1004 955L1153 822L1040 972L1050 969L994 974L943 1003L1012 946L1079 872L1047 905L975 987L1146 827L1128 828L1071 880L1157 866L1136 894L988 1010L1148 828L1004 995L976 981L1125 898L1166 872L1197 825L1122 901L986 970L1206 803L1052 964L1204 805L1074 943L1024 937L1117 851L1192 797L1144 828L1184 800L1223 795L1046 968L1066 950L1033 987L1143 835L1163 814L965 1017L975 991L1191 807L1099 925L1023 931L1091 870L969 975L1183 810L973 999L1041 927L984 1006L1006 949L1170 809L1119 904L1013 997L984 977L1139 838L968 980L1266 754L1119 905L1011 996L1030 928L952 1017L1173 844L1049 963L1138 885L1000 997L1057 903L977 999L1032 935L1053 912L1106 924L1020 999L1160 863L1097 866L1057 957L1112 915L1148 875L1036 929L1032 974L1144 884L1155 868L1062 893L1207 818L1070 890L968 1003L1200 812L962 967L1129 841L1176 840L1023 938L1120 903L1017 986L989 963L1030 929L1172 812L982 987L1047 914L1165 853L1048 913L1125 908L1196 799L1124 901L1003 1007L934 981L996 999L1198 811L1068 895L1144 879L1050 961L976 1003L1049 914L1124 842L1122 848L961 1020L1194 831L1195 838L974 1006L934 1038L1134 896L1070 896L1066 888L1134 829L1025 932L1125 842L947 1024L1211 793L1043 969L1050 959L1136 892L988 959L1148 828L1190 823L974 999L1040 979L1156 868L1057 877L1169 818L1155 871L1130 838L1075 882L1148 830L1082 884L1096 920L1192 799L976 1009L1046 972L998 962L1213 801L1207 809L1144 831L1185 810L1195 828L1129 838L1170 852L1198 824L1004 940L991 973L1056 906L981 981L1047 914L1058 898L1026 932L1004 959L1030 980L1200 828L979 980L1041 975L1020 936L1201 838L1070 942L1139 905L1064 954L1161 817L1150 815L1201 818L1110 861L1017 989L966 1006L1038 925L1031 933L1081 939L1106 913L1055 907L1195 811L992 943L1039 974L946 1021L1008 991L1111 911L1100 865L1162 818L1189 825L1189 827L991 972L1099 920L1149 876L966 998L1095 869L1204 806L1038 920L1006 998L983 1007L1174 842L993 976L1070 897L1062 891L1140 887L1206 814L1085 879L1036 975L959 998L1091 932L1140 881L1105 912L1029 924L1172 850L1122 913L1072 943L1210 802L1172 853L1058 961L1171 817L1155 875L1048 915L1050 963L1149 823L1161 822L1051 882L1005 943L1031 932L1029 928L1206 814L1197 827L1125 841L1154 829L1024 941L1143 894L1046 896L1125 844L1127 892L1182 809L1074 958L1178 812L1130 843L1070 896L1026 934L1145 878L1175 808L969 1005L1186 798L1151 826L1190 826L995 971L954 983L1175 807L1124 849L1044 921L1157 882L970 983L1090 925L1185 806L1108 910L952 1007L987 979L1138 838L1028 981L1201 816L997 955L976 1015L1073 873L1075 879L1099 859L1083 932L970 986L999 1009L1101 868L1106 858L1004 961L1072 876L1051 909L1144 834L1205 791L1011 946L1113 909L1057 959L1013 993L995 948L983 981L1034 930L1014 913L1164 870L1135 901L967 1009L994 1001L1077 884L1098 853L955 1013L1132 893L1045 984L962 990L1033 981L1070 954L1034 918L1206 813L1123 847L1176 845L1038 908L1024 938L992 975L1137 838L1102 864L1182 810L1032 978L1148 819L1068 886L1150 878L1069 945L1073 942L1174 850L1031 933L1226 801L1196 829L1190 805L965 1026L1129 896L1075 889L984 1007L1147 879L1203 801L964 1017L1015 951L1188 808L1064 951L1107 859L1093 922L980 976L967 1002L1036 976L1078 943L1178 857L986 1004L1118 906L968 978L1149 824L1111 923L995 1002L1011 990L988 1008L1067 893L1064 903L1122 898L1201 815L1016 990L1010 997L1127 845L943 1007L1197 801L1054 963L1056 906L1060 956L970 1010L971 1009L1074 941L1167 857L1144 821L976 983L1164 857L1122 900L1138 837L1072 889L1100 867L1097 867L1130 830L963 1014L947 1010L1190 824L1090 873L1142 885L1037 972L1007 991L972 998L1081 937L1145 882L1110 843L1138 838L1019 932L1115 906L1053 961L941 990L939 983L994 963L1219 789L1192 805L979 1012L1004 963L1168 851L1139 886L1032 918L1207 797L1167 815L1175 845L1201 813L1082 886L990 1002L1182 843L1147 816L1004 1004L981 1010L1071 946L1163 869L1011 999L967 1006L961 1013L1038 918L1160 874L1052 957L1131 889L1167 854L976 1009L1121 913L1031 929L1000 1009L1151 827L1048 907L968 1009L1068 900L1131 837L1025 987L1111 927L1163 802L1146 880L1153 827L1000 996L1183 841L1001 964L954 1022L1161 868L1110 913L1081 932L1167 852L1073 952L1094 921L988 972L970 1002L1175 870L972 987L1071 941L1011 997L1175 853L967 1002L1195 820L951 999L1179 838L1035 908L1190 852L967 1009L1092 924L1198 824L1035 970L1144 818L922 1060L1113 859L963 1003L1073 888L1045 965L1039 916L1180 834L1084 936L979 970L1134 888L1077 889L974 981L953 1018L1115 854L1120 899L959 1000L1025 982L1165 859L1148 876L1052 986L1038 974L1023 928L1151 879L1037 974L1060 902L1061 949L959 995L975 987L1106 912L1087 880L967 986L1169 861L1057 889L1061 955L1051 912L967 1022L1062 902L1011 989L993 977L1015 942L1124 901L1087 934L994 1006L1179 839L1010 945L1032 932L1212 792L1008 943L1074 941L1088 929L1042 971L1100 867L1189 802L1081 883L1170 848L1101 847L1178 844L1220 804L1133 909L1110 855L1159 858L1169 816L1136 839L1008 991L985 984L1017 938L1037 983L1082 876L1116 907L1053 956L1184 843L1082 942L1174 849L1152 826L1162 861L1183 809L1002 962L983 975L959 1022L1051 968L1065 888L990 1004L1071 881L1222 788L1058 878L1196 818L963 1012L1173 847L1062 954L996 967L1166 852L1091 928L1172 846L1096 920L1007 990L988 977L1085 932L1030 927L1229 780L1136 836L1088 881L1077 949L985 974L1128 893L1098 933L1105 860L1002 955L1092 926L1191 844L1115 849L1031 932L1128 901L981 968L1046 968L1166 853L953 1013L1076 949L956 999L992 1003L1200 822L1089 929L1072 886L1098 924L1080 946L1165 852L1209 828L986 1006L1053 959L952 967L1149 873L989 979L1047 971L958 994L1146 879L1038 968L1068 890L1168 849L979 988L1101 925L1195 811L1192 834L1001 962L1210 815L1132 842L1044 974L957 1001L970 995L960 991L1153 884L1105 853L988 1005L1008 959L1074 884L993 962L985 1019L1003 999L977 1015L1195 831L1175 849L966 1000L1180 808L1070 945L991 1003L973 989L1179 842L1091 876L955 1013L1136 841L1208 813L970 1007L1170 856L1202 817L1080 883L1123 837L1230 803L1137 884L1194 815L1119 839L1206 805L1156 821L984 1013L1195 811L1159 817L1234 787L1156 878L968 1010L947 988L1089 956L1014 944L1009 934L983 981L1051 908L995 976L1006 1006L1022 944L1111 856L1079 881L993 956L1175 807L1215 790L1075 888L984 1006L1144 824L1230 778L1039 918L1169 858L1125 896L1026 939L1106 915L1088 926L1194 820L967 979L1135 888L1105 861L993 971L1077 956L1095 941L1073 891L1193 827L1099 865L1127 896L1159 870L1178 838L1197 803L1209 810L1011 947L990 944L983 980L986 976L1047 914L999 963L1013 952L1040 920L1130 841L995 966L1109 917L1115 915L1000 997L1053 964L1187 804L1021 981L1168 857L1217 791L941 982L1005 957L1173 860L1023 941L1014 990L1017 989L1036 977L1077 884L1113 857L1120 854L967 983L1194 822L961 1008L1116 853L961 1016L1016 1013L953 1009L1051 904L1110 910L1009 992L966 985L1171 814L1170 855L1075 894L1158 870L1077 942L1032 976L1068 952L1072 895L1193 848L1010 955L997 954L1127 896L969 1008L1075 937L1129 837L1118 851L1049 914L971 1013L1170 852L1066 891L1064 948L1135 836L989 965L1033 900L1089 941L1035 926L1196 828L1123 843L987 1003L1060 965L1026 929L1100 925L1006 948L1094 874L1101 917L1009 952L1104 865L1072 941L1188 832L1055 909L1086 879L961 1007L1154 824L1192 828L1165 853L1109 914L1174 873L1176 843L1127 843L1174 847L973 981L977 989L1166 869L959 1019L984 961L1133 835L1050 904L1052 913L1171 847L1022 936L1137 831L1209 803L959 1016L1010 988L1201 809L1113 854L959 996L1060 951L1121 838L1001 999L1040 969L931 1007L1157 876L1062 899L1093 873L1101 854L967 992L1018 941L995 969L1021 987L1087 872L1165 869L1117 832L1059 957L1191 830L1045 966L969 986L1206 799L971 1005L979 988L1133 834L1164 863L1159 823L1110 912L1209 803L1026 992L1025 939L1124 916L1109 862L1203 805L1072 888L1164 810L1058 906L1120 844L1083 934L1137 833L990 963L1162 814L986 963L975 997L962 981L1196 801L1054 963L1210 808L1011 954L974 1007L1174 860L1125 843L985 1005L1143 826L1197 834L1164 820L1177 854L970 990L1044 964L959 1023L1058 954L1009 997L1051 959L1123 904L989 979L995 1002L1158 822L1085 880L1043 924L1049 963L1190 822L1190 803L950 975L1231 784L1014 948L965 998L1107 916L949 998L1147 831L1087 872L1199 788L1166 817L1083 943L1169 857L1088 932L1182 847L990 940L1036 928L1107 855L962 1017L1159 866L1166 817L1176 840L1208 799L1012 994L983 1013L1071 892L957 999L939 1032L1108 917L981 987L1172 818L1123 900L1182 843L939 1034L1229 782L1009 949L1197 817L1081 931L1093 934L1055 956L1122 902L981 983L1061 893L1185 831L1063 902L1084 935L1012 944L966 1015L1058 955L1204 802L1098 870L1140 881L1067 892L1115 854L1092 928L1026 931L1090 924L1022 939L1129 839L1015 936L986 984L1169 862L1157 862L1164 863L1175 844L1108 859L1146 883L1023 938L1006 998L1167 861L1161 820L1065 949L1008 958L1053 902L988 979L961 965L999 999L1044 966L1178 848L1002 1001L1045 963L1195 825L940 1015L1078 868L1032 918L1153 876L1178 844L1130 839L1018 942L1090 877L1036 974L973 1004L1150 828L1210 832L1171 851L1137 890L1090 876L1148 876L1058 958L1128 844L1213 806L1125 897L1028 976L969 1017L1163 865L1154 827L1176 848L1050 907L1157 820L990 961L1030 937L1185 805L1117 854L1135 894L994 970L1163 867L1023 936L1089 929L1049 965L992 967L1103 864L1019 945L1020 918L1136 885L973 994L1139 837L1165 811L973 983L1046 973L989 1002L1116 924L1030 936L1068 866L993 957L1208 838L1077 936L999 961L1125 896L985 1004L1163 821L1186 829L1131 903L1107 863L1041 973L969 1006L1164 865L1020 927L1194 797L1049 908L936 1028L985 971L1068 893L1016 941L1045 918L1110 859L1215 794L1018 988L1200 797L1093 932L1053 959L1199 812L1005 1000L1187 849L1026 983L1115 909L1196 811L1124 896L1166 813L1072 868L978 989L1108 916L1011 988L1176 839L1180 837L998 961L1020 985L1205 811L1117 911L969 999L1179 847L1065 901L1069 961L1083 883L1060 903L1035 918L980 977L1167 817L1193 805L1083 880L1160 881L1121 898L1063 899L1136 839L1041 916L1157 821L991 977L1101 860L1095 935L1067 886L1056 959L1201 811L1000 952L1203 816L1107 910L959 1015L1036 974L1142 890L1158 870L1088 933L1124 842L1166 862L1026 932L996 966L984 977L1095 874L1024 937L1049 959L1030 1029L1092 923L1114 927L1071 891L1137 830L1180 798L1151 879L984 979L1194 828L1180 812L1167 815L998 967L1026 980L1131 889L1055 905L1072 943L1086 878L1189 826L1168 851L1060 902L1202 837L1151 821L1194 837L957 1005L1120 898L1119 852L1040 970L1091 925L1011 951L1007 956L1012 994L978 1009L1060 905L1173 849L1111 858L976 999L1028 932L1167 862L1039 977L1092 935L1116 902L1206 803L1218 801L1188 841L1063 949L1111 853L1075 883L1157 879L967 1000L978 1015L1033 933L976 974L1187 828L1064 900L1017 947L1015 1003L960 1002L1152 824L1006 1026L1011 990L1144 833L1116 906L1050 967L968 995L973 1001L1124 847L991 970L1017 931L1048 901L959 1012L1060 904L1108 856L1084 882L1012 1001L1122 842L1003 950L976 979L1120 901L965 1006L976 1001L1055 904L1108 922L962 978L1053 958L1198 798L1062 950L1172 854L995 964" fill="none" marker-start="url(#md)" marker-mid="url(#md)" marker-end="url(#md)"/>
<line x1="430.0" y1="565.6" x2="674.1" y2="321.6" stroke="#b4d270" stroke-width="1.8" stroke-dasharray="6 2.9" stroke-dashoffset="0"/>
<rect x="430.0" y="321.6" width="244.1" height="244" fill="none" stroke="#000" stroke-width="1.5"/>
<path d="M435.79 565.6v-4.4M430.0 559.81h4.4M492.59 565.6v-4.4M430.0 503.04h4.4M549.38 565.6v-4.4M430.0 446.27h4.4M606.17 565.6v-4.4M430.0 389.5h4.4M662.97 565.6v-4.4M430.0 332.73h4.4" stroke="#000" stroke-width="1.4" fill="none"/>
<text class="dv" x="414.44" y="583" font-size="18.63" textLength="42.88" lengthAdjust="spacingAndGlyphs" fill="#000">−1.5</text>
<text class="dv" x="382.53" y="567.01" font-size="18.63" textLength="42.88" lengthAdjust="spacingAndGlyphs" fill="#000">−1.5</text>
<text class="dv" x="471.23" y="583" font-size="18.63" textLength="43.19" lengthAdjust="spacingAndGlyphs" fill="#000">−1.4</text>
<text class="dv" x="382.52" y="510.24" font-size="18.63" textLength="43.19" lengthAdjust="spacingAndGlyphs" fill="#000">−1.4</text>
<text class="dv" x="528.03" y="583" font-size="18.63" textLength="43.07" lengthAdjust="spacingAndGlyphs" fill="#000">−1.3</text>
<text class="dv" x="382.53" y="453.47" font-size="18.63" textLength="43.07" lengthAdjust="spacingAndGlyphs" fill="#000">−1.3</text>
<text class="dv" x="584.83" y="583" font-size="18.63" textLength="42.83" lengthAdjust="spacingAndGlyphs" fill="#000">−1.2</text>
<text class="dv" x="382.53" y="396.7" font-size="18.63" textLength="42.83" lengthAdjust="spacingAndGlyphs" fill="#000">−1.2</text>
<text class="dv" x="641.62" y="583" font-size="18.63" textLength="42.94" lengthAdjust="spacingAndGlyphs" fill="#000">−1.1</text>
<text class="dv" x="382.53" y="339.93" font-size="18.63" textLength="42.94" lengthAdjust="spacingAndGlyphs" fill="#000">−1.1</text>
<g>
<text class="dv" x="491.91" y="607" font-size="22.6" textLength="41.68" lengthAdjust="spacingAndGlyphs">O Q</text>
<text class="dv" x="533.83" y="610.7" font-size="15.82" textLength="40.35" lengthAdjust="spacingAndGlyphs">AIMD</text>
<text class="dv" x="581.76" y="607" font-size="22.6" textLength="30.23" lengthAdjust="spacingAndGlyphs">(e)</text>
</g>
<g transform="translate(374.4,443.6) rotate(-90)">
<text class="dv" x="-62.48" y="0" font-size="22.6" textLength="41.68" lengthAdjust="spacingAndGlyphs">O Q</text>
<text class="dv" x="-20.55" y="3.7" font-size="15.82" textLength="45.45" lengthAdjust="spacingAndGlyphs">CNMP</text>
<text class="dv" x="32.04" y="0" font-size="22.6" textLength="30.23" lengthAdjust="spacingAndGlyphs">(e)</text>
</g>
<text x="442.27" y="350.1" font-size="22.4" font-weight="bold" fill="#b4d270">R²: 0.92</text>
<text x="353" y="344.1" font-size="30.5" font-weight="bold">d</text>
</svg></body></html>
